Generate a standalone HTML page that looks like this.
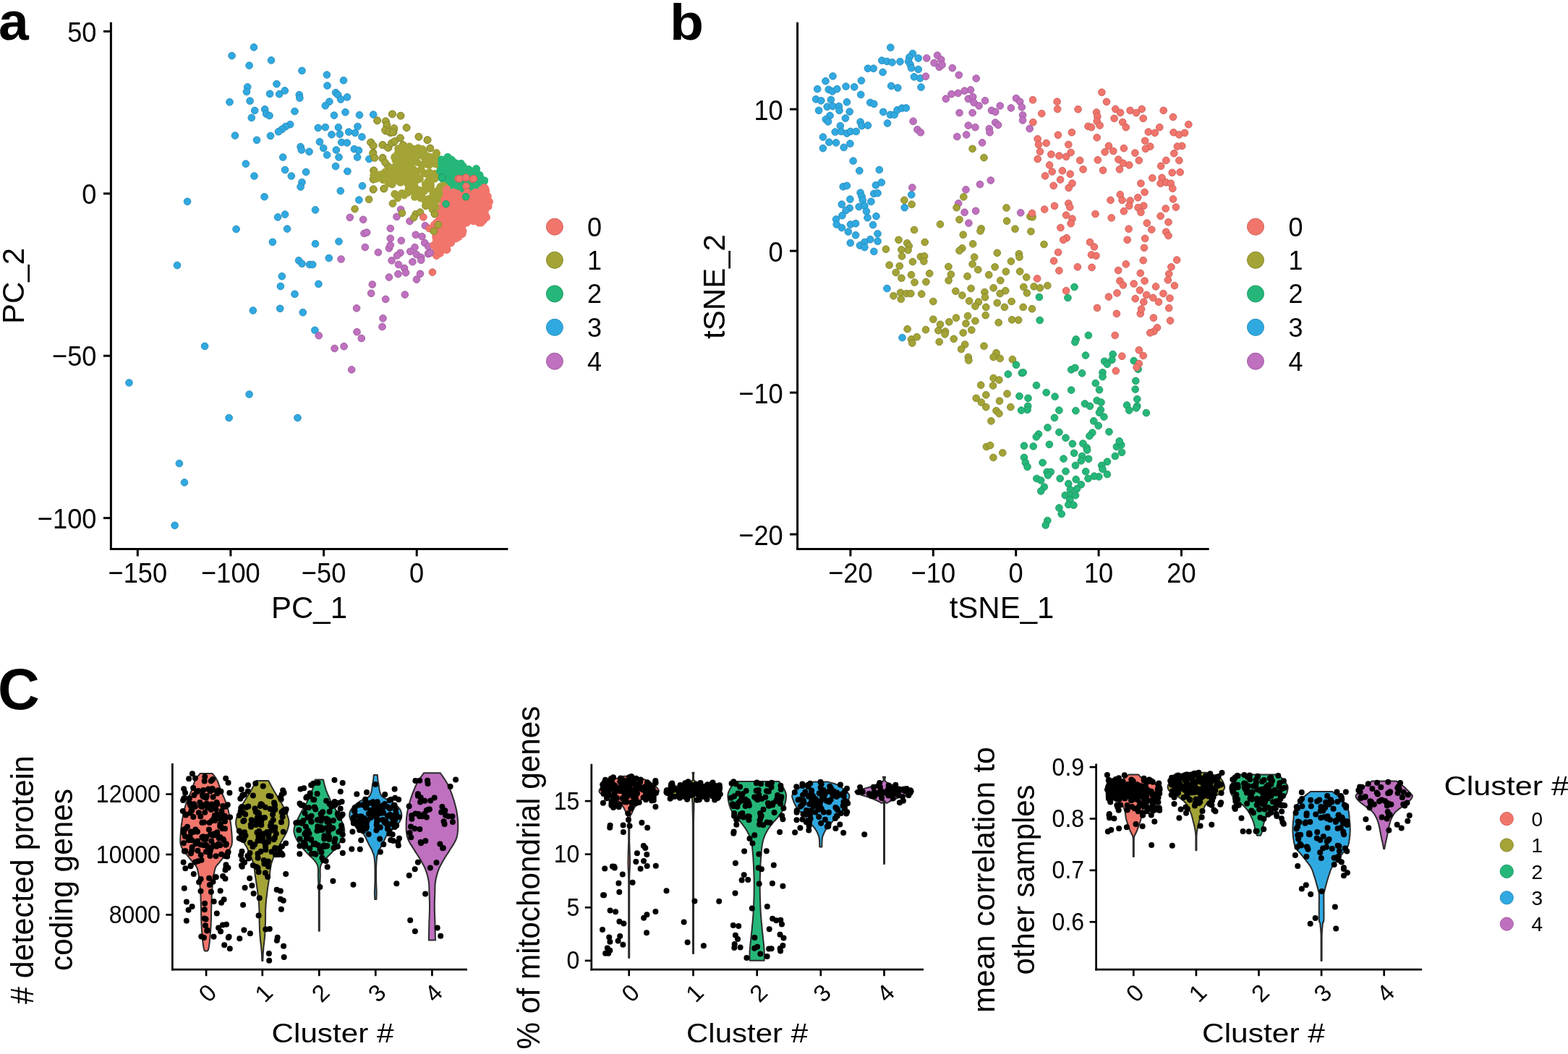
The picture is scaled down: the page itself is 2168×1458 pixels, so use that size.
<!DOCTYPE html>
<html><head><meta charset="utf-8"><style>
html,body{margin:0;padding:0;background:#fff;overflow:hidden;width:2168px;height:1458px;}
svg{display:block;}
text{font-family:"Liberation Sans", Arial, Helvetica, sans-serif;fill:#000;}
</style></head><body>
<svg width="2168" height="1458" viewBox="0 0 2168 1458">
<rect width="2168" height="1458" fill="#fff"/>
<text x="-2.0" y="55.0" font-size="75" text-anchor="start" font-weight="bold" >a</text>
<text transform="translate(926.0,55.0) scale(1.1,1)" font-size="70" text-anchor="start" font-weight="bold" >b</text>
<text x="-3.0" y="980.5" font-size="80" text-anchor="start" font-weight="bold" >C</text>
<line x1="153.4" y1="30.7" x2="153.4" y2="761.0" stroke="#000" stroke-width="3.0"/>
<line x1="151.9" y1="759.5" x2="702.4" y2="759.5" stroke="#000" stroke-width="3.0"/>
<line x1="143.0" y1="43.4" x2="153.4" y2="43.4" stroke="#000" stroke-width="3.0"/>
<text transform="translate(133.5,57.6) scale(0.92,1)" font-size="39.4" text-anchor="end" font-weight="normal" >50</text>
<line x1="143.0" y1="267.8" x2="153.4" y2="267.8" stroke="#000" stroke-width="3.0"/>
<text transform="translate(133.5,282.0) scale(0.92,1)" font-size="39.4" text-anchor="end" font-weight="normal" >0</text>
<line x1="143.0" y1="492.2" x2="153.4" y2="492.2" stroke="#000" stroke-width="3.0"/>
<text transform="translate(133.5,506.4) scale(0.92,1)" font-size="39.4" text-anchor="end" font-weight="normal" >−50</text>
<line x1="143.0" y1="716.6" x2="153.4" y2="716.6" stroke="#000" stroke-width="3.0"/>
<text transform="translate(133.5,730.8) scale(0.92,1)" font-size="39.4" text-anchor="end" font-weight="normal" >−100</text>
<line x1="190.3" y1="759.5" x2="190.3" y2="769.5" stroke="#000" stroke-width="3.0"/>
<text transform="translate(190.3,806.0) scale(0.92,1)" font-size="39.4" text-anchor="middle" font-weight="normal" >−150</text>
<line x1="318.9" y1="759.5" x2="318.9" y2="769.5" stroke="#000" stroke-width="3.0"/>
<text transform="translate(318.9,806.0) scale(0.92,1)" font-size="39.4" text-anchor="middle" font-weight="normal" >−100</text>
<line x1="447.6" y1="759.5" x2="447.6" y2="769.5" stroke="#000" stroke-width="3.0"/>
<text transform="translate(447.6,806.0) scale(0.92,1)" font-size="39.4" text-anchor="middle" font-weight="normal" >−50</text>
<line x1="576.2" y1="759.5" x2="576.2" y2="769.5" stroke="#000" stroke-width="3.0"/>
<text transform="translate(576.2,806.0) scale(0.92,1)" font-size="39.4" text-anchor="middle" font-weight="normal" >0</text>
<text x="427.5" y="854.5" font-size="42" text-anchor="middle" font-weight="normal" >PC_1</text>
<text x="0.0" y="0.0" font-size="42" text-anchor="middle" font-weight="normal" transform="translate(33,395.5) rotate(-90)">PC_2</text>
<line x1="1102.6" y1="30.7" x2="1102.6" y2="761.0" stroke="#000" stroke-width="3.0"/>
<line x1="1101.1" y1="759.5" x2="1671.7" y2="759.5" stroke="#000" stroke-width="3.0"/>
<line x1="1092.0" y1="151.1" x2="1102.6" y2="151.1" stroke="#000" stroke-width="3.0"/>
<text transform="translate(1082.7,166.1) scale(0.92,1)" font-size="39.4" text-anchor="end" font-weight="normal" >10</text>
<line x1="1092.0" y1="347.1" x2="1102.6" y2="347.1" stroke="#000" stroke-width="3.0"/>
<text transform="translate(1082.7,362.1) scale(0.92,1)" font-size="39.4" text-anchor="end" font-weight="normal" >0</text>
<line x1="1092.0" y1="543.1" x2="1102.6" y2="543.1" stroke="#000" stroke-width="3.0"/>
<text transform="translate(1082.7,558.1) scale(0.92,1)" font-size="39.4" text-anchor="end" font-weight="normal" >−10</text>
<line x1="1092.0" y1="739.1" x2="1102.6" y2="739.1" stroke="#000" stroke-width="3.0"/>
<text transform="translate(1082.7,754.1) scale(0.92,1)" font-size="39.4" text-anchor="end" font-weight="normal" >−20</text>
<line x1="1175.9" y1="759.5" x2="1175.9" y2="769.5" stroke="#000" stroke-width="3.0"/>
<text transform="translate(1175.9,806.0) scale(0.92,1)" font-size="39.4" text-anchor="middle" font-weight="normal" >−20</text>
<line x1="1290.3" y1="759.5" x2="1290.3" y2="769.5" stroke="#000" stroke-width="3.0"/>
<text transform="translate(1290.3,806.0) scale(0.92,1)" font-size="39.4" text-anchor="middle" font-weight="normal" >−10</text>
<line x1="1404.7" y1="759.5" x2="1404.7" y2="769.5" stroke="#000" stroke-width="3.0"/>
<text transform="translate(1404.7,806.0) scale(0.92,1)" font-size="39.4" text-anchor="middle" font-weight="normal" >0</text>
<line x1="1519.1" y1="759.5" x2="1519.1" y2="769.5" stroke="#000" stroke-width="3.0"/>
<text transform="translate(1519.1,806.0) scale(0.92,1)" font-size="39.4" text-anchor="middle" font-weight="normal" >10</text>
<line x1="1633.5" y1="759.5" x2="1633.5" y2="769.5" stroke="#000" stroke-width="3.0"/>
<text transform="translate(1633.5,806.0) scale(0.92,1)" font-size="39.4" text-anchor="middle" font-weight="normal" >20</text>
<text x="1385.0" y="854.5" font-size="42" text-anchor="middle" font-weight="normal" >tSNE_1</text>
<text x="0.0" y="0.0" font-size="42" text-anchor="middle" font-weight="normal" transform="translate(1002,396.5) rotate(-90)">tSNE_2</text>
<circle cx="766.9" cy="313.7" r="11.5" fill="#F2756C" stroke="#cd635b" stroke-width="1"/>
<text x="812.0" y="326.5" font-size="36" text-anchor="start" font-weight="normal" >0</text>
<circle cx="1736" cy="313.7" r="11.5" fill="#F2756C" stroke="#cd635b" stroke-width="1"/>
<text x="1781.5" y="326.5" font-size="36" text-anchor="start" font-weight="normal" >0</text>
<circle cx="766.9" cy="359.8" r="11.5" fill="#A3A336" stroke="#8a8a2d" stroke-width="1"/>
<text x="812.0" y="372.6" font-size="36" text-anchor="start" font-weight="normal" >1</text>
<circle cx="1736" cy="359.8" r="11.5" fill="#A3A336" stroke="#8a8a2d" stroke-width="1"/>
<text x="1781.5" y="372.6" font-size="36" text-anchor="start" font-weight="normal" >1</text>
<circle cx="766.9" cy="406.4" r="11.5" fill="#25B779" stroke="#1f9b66" stroke-width="1"/>
<text x="812.0" y="419.2" font-size="36" text-anchor="start" font-weight="normal" >2</text>
<circle cx="1736" cy="406.4" r="11.5" fill="#25B779" stroke="#1f9b66" stroke-width="1"/>
<text x="1781.5" y="419.2" font-size="36" text-anchor="start" font-weight="normal" >2</text>
<circle cx="766.9" cy="452.8" r="11.5" fill="#30A9E1" stroke="#288fbf" stroke-width="1"/>
<text x="812.0" y="465.6" font-size="36" text-anchor="start" font-weight="normal" >3</text>
<circle cx="1736" cy="452.8" r="11.5" fill="#30A9E1" stroke="#288fbf" stroke-width="1"/>
<text x="1781.5" y="465.6" font-size="36" text-anchor="start" font-weight="normal" >3</text>
<circle cx="766.9" cy="499.7" r="11.5" fill="#BF70BF" stroke="#a25fa2" stroke-width="1"/>
<text x="812.0" y="512.5" font-size="36" text-anchor="start" font-weight="normal" >4</text>
<circle cx="1736" cy="499.7" r="11.5" fill="#BF70BF" stroke="#a25fa2" stroke-width="1"/>
<text x="1781.5" y="512.5" font-size="36" text-anchor="start" font-weight="normal" >4</text>
<line x1="238.4" y1="1056.0" x2="238.4" y2="1342.5" stroke="#000" stroke-width="2.7"/>
<line x1="237.1" y1="1341.2" x2="646.0" y2="1341.2" stroke="#000" stroke-width="2.7"/>
<line x1="229.4" y1="1265.4" x2="238.4" y2="1265.4" stroke="#000" stroke-width="2.7"/>
<text transform="translate(221.9,1276.9) scale(0.89,1)" font-size="36" text-anchor="end" font-weight="normal" >8000</text>
<line x1="229.4" y1="1182.0" x2="238.4" y2="1182.0" stroke="#000" stroke-width="2.7"/>
<text transform="translate(221.9,1193.5) scale(0.89,1)" font-size="36" text-anchor="end" font-weight="normal" >10000</text>
<line x1="229.4" y1="1098.6" x2="238.4" y2="1098.6" stroke="#000" stroke-width="2.7"/>
<text transform="translate(221.9,1110.1) scale(0.89,1)" font-size="36" text-anchor="end" font-weight="normal" >12000</text>
<line x1="285.1" y1="1341.2" x2="285.1" y2="1350.2" stroke="#000" stroke-width="2.7"/>
<text x="0.0" y="0.0" font-size="33" text-anchor="end" font-weight="normal" transform="translate(301.6,1375.2) rotate(-45)">0</text>
<line x1="362.8" y1="1341.2" x2="362.8" y2="1350.2" stroke="#000" stroke-width="2.7"/>
<text x="0.0" y="0.0" font-size="33" text-anchor="end" font-weight="normal" transform="translate(379.3,1375.2) rotate(-45)">1</text>
<line x1="441.3" y1="1341.2" x2="441.3" y2="1350.2" stroke="#000" stroke-width="2.7"/>
<text x="0.0" y="0.0" font-size="33" text-anchor="end" font-weight="normal" transform="translate(457.8,1375.2) rotate(-45)">2</text>
<line x1="519.3" y1="1341.2" x2="519.3" y2="1350.2" stroke="#000" stroke-width="2.7"/>
<text x="0.0" y="0.0" font-size="33" text-anchor="end" font-weight="normal" transform="translate(535.8,1375.2) rotate(-45)">3</text>
<line x1="597.4" y1="1341.2" x2="597.4" y2="1350.2" stroke="#000" stroke-width="2.7"/>
<text x="0.0" y="0.0" font-size="33" text-anchor="end" font-weight="normal" transform="translate(613.9,1375.2) rotate(-45)">4</text>
<line x1="817.8" y1="1056.7" x2="817.8" y2="1342.5" stroke="#000" stroke-width="2.7"/>
<line x1="816.5" y1="1341.2" x2="1277.0" y2="1341.2" stroke="#000" stroke-width="2.7"/>
<line x1="808.8" y1="1328.9" x2="817.8" y2="1328.9" stroke="#000" stroke-width="2.7"/>
<text transform="translate(801.3,1340.4) scale(0.89,1)" font-size="36" text-anchor="end" font-weight="normal" >0</text>
<line x1="808.8" y1="1255.3" x2="817.8" y2="1255.3" stroke="#000" stroke-width="2.7"/>
<text transform="translate(801.3,1266.8) scale(0.89,1)" font-size="36" text-anchor="end" font-weight="normal" >5</text>
<line x1="808.8" y1="1181.7" x2="817.8" y2="1181.7" stroke="#000" stroke-width="2.7"/>
<text transform="translate(801.3,1193.2) scale(0.89,1)" font-size="36" text-anchor="end" font-weight="normal" >10</text>
<line x1="808.8" y1="1108.1" x2="817.8" y2="1108.1" stroke="#000" stroke-width="2.7"/>
<text transform="translate(801.3,1119.6) scale(0.89,1)" font-size="36" text-anchor="end" font-weight="normal" >15</text>
<line x1="869.7" y1="1341.2" x2="869.7" y2="1350.2" stroke="#000" stroke-width="2.7"/>
<text x="0.0" y="0.0" font-size="33" text-anchor="end" font-weight="normal" transform="translate(886.2,1375.2) rotate(-45)">0</text>
<line x1="958.5" y1="1341.2" x2="958.5" y2="1350.2" stroke="#000" stroke-width="2.7"/>
<text x="0.0" y="0.0" font-size="33" text-anchor="end" font-weight="normal" transform="translate(975.0,1375.2) rotate(-45)">1</text>
<line x1="1046.7" y1="1341.2" x2="1046.7" y2="1350.2" stroke="#000" stroke-width="2.7"/>
<text x="0.0" y="0.0" font-size="33" text-anchor="end" font-weight="normal" transform="translate(1063.2,1375.2) rotate(-45)">2</text>
<line x1="1134.8" y1="1341.2" x2="1134.8" y2="1350.2" stroke="#000" stroke-width="2.7"/>
<text x="0.0" y="0.0" font-size="33" text-anchor="end" font-weight="normal" transform="translate(1151.3,1375.2) rotate(-45)">3</text>
<line x1="1222.5" y1="1341.2" x2="1222.5" y2="1350.2" stroke="#000" stroke-width="2.7"/>
<text x="0.0" y="0.0" font-size="33" text-anchor="end" font-weight="normal" transform="translate(1239.0,1375.2) rotate(-45)">4</text>
<line x1="1515.6" y1="1056.5" x2="1515.6" y2="1342.5" stroke="#000" stroke-width="2.7"/>
<line x1="1514.3" y1="1341.2" x2="1966.0" y2="1341.2" stroke="#000" stroke-width="2.7"/>
<line x1="1506.6" y1="1275.3" x2="1515.6" y2="1275.3" stroke="#000" stroke-width="2.7"/>
<text transform="translate(1499.1,1286.8) scale(0.89,1)" font-size="36" text-anchor="end" font-weight="normal" >0.6</text>
<line x1="1506.6" y1="1203.9" x2="1515.6" y2="1203.9" stroke="#000" stroke-width="2.7"/>
<text transform="translate(1499.1,1215.4) scale(0.89,1)" font-size="36" text-anchor="end" font-weight="normal" >0.7</text>
<line x1="1506.6" y1="1132.5" x2="1515.6" y2="1132.5" stroke="#000" stroke-width="2.7"/>
<text transform="translate(1499.1,1144.0) scale(0.89,1)" font-size="36" text-anchor="end" font-weight="normal" >0.8</text>
<line x1="1506.6" y1="1061.1" x2="1515.6" y2="1061.1" stroke="#000" stroke-width="2.7"/>
<text transform="translate(1499.1,1072.6) scale(0.89,1)" font-size="36" text-anchor="end" font-weight="normal" >0.9</text>
<line x1="1567.3" y1="1341.2" x2="1567.3" y2="1350.2" stroke="#000" stroke-width="2.7"/>
<text x="0.0" y="0.0" font-size="33" text-anchor="end" font-weight="normal" transform="translate(1583.8,1375.2) rotate(-45)">0</text>
<line x1="1653.9" y1="1341.2" x2="1653.9" y2="1350.2" stroke="#000" stroke-width="2.7"/>
<text x="0.0" y="0.0" font-size="33" text-anchor="end" font-weight="normal" transform="translate(1670.4,1375.2) rotate(-45)">1</text>
<line x1="1740.5" y1="1341.2" x2="1740.5" y2="1350.2" stroke="#000" stroke-width="2.7"/>
<text x="0.0" y="0.0" font-size="33" text-anchor="end" font-weight="normal" transform="translate(1757.0,1375.2) rotate(-45)">2</text>
<line x1="1827.1" y1="1341.2" x2="1827.1" y2="1350.2" stroke="#000" stroke-width="2.7"/>
<text x="0.0" y="0.0" font-size="33" text-anchor="end" font-weight="normal" transform="translate(1843.6,1375.2) rotate(-45)">3</text>
<line x1="1913.7" y1="1341.2" x2="1913.7" y2="1350.2" stroke="#000" stroke-width="2.7"/>
<text x="0.0" y="0.0" font-size="33" text-anchor="end" font-weight="normal" transform="translate(1930.2,1375.2) rotate(-45)">4</text>
<text x="460.0" y="1441.5" font-size="36.6" text-anchor="middle" font-weight="normal" textLength="169" lengthAdjust="spacingAndGlyphs">Cluster #</text>
<text x="1033.0" y="1441.5" font-size="36.6" text-anchor="middle" font-weight="normal" textLength="168" lengthAdjust="spacingAndGlyphs">Cluster #</text>
<text x="1747.0" y="1441.5" font-size="36.6" text-anchor="middle" font-weight="normal" textLength="170" lengthAdjust="spacingAndGlyphs">Cluster #</text>
<text x="0.0" y="0.0" font-size="44" text-anchor="middle" font-weight="normal" transform="translate(46,1217) rotate(-90)" textLength="344" lengthAdjust="spacingAndGlyphs"># detected protein</text>
<text x="0.0" y="0.0" font-size="44" text-anchor="middle" font-weight="normal" transform="translate(100,1217) rotate(-90)" textLength="252" lengthAdjust="spacingAndGlyphs">coding genes</text>
<text x="0.0" y="0.0" font-size="44" text-anchor="middle" font-weight="normal" transform="translate(746,1214) rotate(-90)" textLength="475" lengthAdjust="spacingAndGlyphs">% of mitochondrial genes</text>
<text x="0.0" y="0.0" font-size="43" text-anchor="middle" font-weight="normal" transform="translate(1375,1217) rotate(-90)" textLength="368" lengthAdjust="spacingAndGlyphs">mean correlation to</text>
<text x="0.0" y="0.0" font-size="43" text-anchor="middle" font-weight="normal" transform="translate(1430,1217) rotate(-90)" textLength="263" lengthAdjust="spacingAndGlyphs">other samples</text>
<text transform="translate(1996.5,1099.5) scale(1.15,1)" font-size="37.5" text-anchor="start" font-weight="normal" >Cluster #</text>
<circle cx="2083.3" cy="1132.6" r="9.1" fill="#F2756C" stroke="#cd635b" stroke-width="1"/>
<text x="2117.5" y="1142.8" font-size="28" text-anchor="start" font-weight="normal" >0</text>
<circle cx="2083.3" cy="1169" r="9.1" fill="#A3A336" stroke="#8a8a2d" stroke-width="1"/>
<text x="2117.5" y="1179.2" font-size="28" text-anchor="start" font-weight="normal" >1</text>
<circle cx="2083.3" cy="1205.4" r="9.1" fill="#25B779" stroke="#1f9b66" stroke-width="1"/>
<text x="2117.5" y="1215.6" font-size="28" text-anchor="start" font-weight="normal" >2</text>
<circle cx="2083.3" cy="1241.8" r="9.1" fill="#30A9E1" stroke="#288fbf" stroke-width="1"/>
<text x="2117.5" y="1252.0" font-size="28" text-anchor="start" font-weight="normal" >3</text>
<circle cx="2083.3" cy="1278.1" r="9.1" fill="#BF70BF" stroke="#a25fa2" stroke-width="1"/>
<text x="2117.5" y="1288.3" font-size="28" text-anchor="start" font-weight="normal" >4</text>
<g fill="#30A9E1" stroke="#278ab8" stroke-width="0.9"><circle cx="351.0" cy="65.4" r="4.85"/><circle cx="320.6" cy="77.1" r="4.85"/><circle cx="375.0" cy="83.4" r="4.85"/><circle cx="344.6" cy="90.6" r="4.85"/><circle cx="417.5" cy="97.8" r="4.85"/><circle cx="382.5" cy="116.2" r="4.85"/><circle cx="342.2" cy="120.4" r="4.85"/><circle cx="341.0" cy="126.9" r="4.85"/><circle cx="373.1" cy="129.8" r="4.85"/><circle cx="386.2" cy="130.2" r="4.85"/><circle cx="393.8" cy="125.4" r="4.85"/><circle cx="413.8" cy="131.2" r="4.85"/><circle cx="414.4" cy="135.6" r="4.85"/><circle cx="317.5" cy="141.2" r="4.85"/><circle cx="345.6" cy="139.6" r="4.85"/><circle cx="352.2" cy="152.9" r="4.85"/><circle cx="347.8" cy="162.9" r="4.85"/><circle cx="366.2" cy="151.2" r="4.85"/><circle cx="368.1" cy="157.5" r="4.85"/><circle cx="372.5" cy="160.0" r="4.85"/><circle cx="407.5" cy="154.0" r="4.85"/><circle cx="401.2" cy="172.2" r="4.85"/><circle cx="395.0" cy="175.0" r="4.85"/><circle cx="390.0" cy="178.8" r="4.85"/><circle cx="385.0" cy="182.2" r="4.85"/><circle cx="325.0" cy="187.5" r="4.85"/><circle cx="355.0" cy="193.8" r="4.85"/><circle cx="374.0" cy="187.9" r="4.85"/><circle cx="415.6" cy="203.1" r="4.85"/><circle cx="416.9" cy="207.5" r="4.85"/><circle cx="427.5" cy="209.8" r="4.85"/><circle cx="391.2" cy="217.5" r="4.85"/><circle cx="451.9" cy="103.5" r="4.85"/><circle cx="475.0" cy="111.2" r="4.85"/><circle cx="452.5" cy="118.5" r="4.85"/><circle cx="464.1" cy="128.1" r="4.85"/><circle cx="467.2" cy="131.2" r="4.85"/><circle cx="471.2" cy="137.5" r="4.85"/><circle cx="480.0" cy="134.4" r="4.85"/><circle cx="455.4" cy="140.6" r="4.85"/><circle cx="449.8" cy="146.2" r="4.85"/><circle cx="477.5" cy="155.2" r="4.85"/><circle cx="462.0" cy="159.6" r="4.85"/><circle cx="497.0" cy="159.1" r="4.85"/><circle cx="516.2" cy="158.5" r="4.85"/><circle cx="439.8" cy="176.9" r="4.85"/><circle cx="449.8" cy="176.0" r="4.85"/><circle cx="467.9" cy="176.2" r="4.85"/><circle cx="469.8" cy="185.6" r="4.85"/><circle cx="458.5" cy="186.2" r="4.85"/><circle cx="482.2" cy="182.5" r="4.85"/><circle cx="491.0" cy="183.8" r="4.85"/><circle cx="494.5" cy="175.0" r="4.85"/><circle cx="500.4" cy="189.4" r="4.85"/><circle cx="442.0" cy="196.2" r="4.85"/><circle cx="447.2" cy="205.0" r="4.85"/><circle cx="452.2" cy="214.4" r="4.85"/><circle cx="472.2" cy="196.9" r="4.85"/><circle cx="479.8" cy="197.5" r="4.85"/><circle cx="464.8" cy="207.5" r="4.85"/><circle cx="468.5" cy="217.5" r="4.85"/><circle cx="489.8" cy="206.2" r="4.85"/><circle cx="496.0" cy="208.1" r="4.85"/><circle cx="494.1" cy="217.5" r="4.85"/><circle cx="510.4" cy="220.0" r="4.85"/><circle cx="339.8" cy="226.6" r="4.85"/><circle cx="351.5" cy="243.5" r="4.85"/><circle cx="394.1" cy="235.0" r="4.85"/><circle cx="402.8" cy="243.5" r="4.85"/><circle cx="423.1" cy="237.9" r="4.85"/><circle cx="417.5" cy="252.2" r="4.85"/><circle cx="415.6" cy="258.5" r="4.85"/><circle cx="365.6" cy="272.2" r="4.85"/><circle cx="259.1" cy="278.8" r="4.85"/><circle cx="384.1" cy="300.4" r="4.85"/><circle cx="394.1" cy="296.6" r="4.85"/><circle cx="326.6" cy="317.0" r="4.85"/><circle cx="397.1" cy="316.6" r="4.85"/><circle cx="376.9" cy="334.8" r="4.85"/><circle cx="245.0" cy="367.0" r="4.85"/><circle cx="413.1" cy="360.4" r="4.85"/><circle cx="417.5" cy="364.8" r="4.85"/><circle cx="428.1" cy="366.0" r="4.85"/><circle cx="389.8" cy="382.2" r="4.85"/><circle cx="387.9" cy="396.0" r="4.85"/><circle cx="464.1" cy="230.0" r="4.85"/><circle cx="480.4" cy="237.0" r="4.85"/><circle cx="501.0" cy="257.2" r="4.85"/><circle cx="470.8" cy="264.1" r="4.85"/><circle cx="496.4" cy="276.6" r="4.85"/><circle cx="436.0" cy="290.4" r="4.85"/><circle cx="468.5" cy="334.1" r="4.85"/><circle cx="436.0" cy="337.2" r="4.85"/><circle cx="454.8" cy="357.0" r="4.85"/><circle cx="432.2" cy="366.0" r="4.85"/><circle cx="440.4" cy="392.9" r="4.85"/><circle cx="407.5" cy="406.8" r="4.85"/><circle cx="349.8" cy="429.5" r="4.85"/><circle cx="387.2" cy="426.8" r="4.85"/><circle cx="418.8" cy="432.2" r="4.85"/><circle cx="283.1" cy="478.9" r="4.85"/><circle cx="178.5" cy="529.5" r="4.85"/><circle cx="344.6" cy="545.5" r="4.85"/><circle cx="316.6" cy="578.0" r="4.85"/><circle cx="411.5" cy="578.0" r="4.85"/><circle cx="435.4" cy="456.8" r="4.85"/><circle cx="247.9" cy="641.1" r="4.85"/><circle cx="255.0" cy="667.4" r="4.85"/><circle cx="241.6" cy="726.8" r="4.85"/></g>
<g fill="#30A9E1"></g>
<g fill="#BF70BF" stroke="#9c5b9c" stroke-width="0.9"><circle cx="483.8" cy="300.8" r="4.85"/><circle cx="502.2" cy="303.8" r="4.85"/><circle cx="548.5" cy="299.8" r="4.85"/><circle cx="554.1" cy="289.8" r="4.85"/><circle cx="566.6" cy="306.0" r="4.85"/><circle cx="539.8" cy="316.0" r="4.85"/><circle cx="587.9" cy="312.2" r="4.85"/><circle cx="503.5" cy="322.9" r="4.85"/><circle cx="507.2" cy="321.6" r="4.85"/><circle cx="539.8" cy="329.8" r="4.85"/><circle cx="554.8" cy="332.9" r="4.85"/><circle cx="574.8" cy="324.8" r="4.85"/><circle cx="583.5" cy="327.2" r="4.85"/><circle cx="587.2" cy="336.0" r="4.85"/><circle cx="592.2" cy="341.0" r="4.85"/><circle cx="504.8" cy="342.0" r="4.85"/><circle cx="537.9" cy="343.5" r="4.85"/><circle cx="539.8" cy="339.1" r="4.85"/><circle cx="522.9" cy="349.1" r="4.85"/><circle cx="553.5" cy="349.8" r="4.85"/><circle cx="549.1" cy="353.5" r="4.85"/><circle cx="573.5" cy="342.2" r="4.85"/><circle cx="567.2" cy="347.9" r="4.85"/><circle cx="576.0" cy="352.2" r="4.85"/><circle cx="582.2" cy="356.0" r="4.85"/><circle cx="592.2" cy="351.0" r="4.85"/><circle cx="594.8" cy="349.8" r="4.85"/><circle cx="471.6" cy="358.5" r="4.85"/><circle cx="541.6" cy="360.4" r="4.85"/><circle cx="570.4" cy="362.2" r="4.85"/><circle cx="582.2" cy="359.8" r="4.85"/><circle cx="551.0" cy="366.0" r="4.85"/><circle cx="559.1" cy="371.0" r="4.85"/><circle cx="561.0" cy="377.2" r="4.85"/><circle cx="550.4" cy="379.1" r="4.85"/><circle cx="537.9" cy="383.5" r="4.85"/><circle cx="581.0" cy="378.8" r="4.85"/><circle cx="576.0" cy="386.6" r="4.85"/><circle cx="514.8" cy="393.5" r="4.85"/><circle cx="513.2" cy="405.8" r="4.85"/><circle cx="533.2" cy="413.9" r="4.85"/><circle cx="559.8" cy="407.6" r="4.85"/><circle cx="493.1" cy="426.4" r="4.85"/><circle cx="529.5" cy="440.4" r="4.85"/><circle cx="528.5" cy="452.0" r="4.85"/><circle cx="493.5" cy="459.2" r="4.85"/><circle cx="499.8" cy="468.0" r="4.85"/><circle cx="440.8" cy="464.2" r="4.85"/><circle cx="462.6" cy="482.0" r="4.85"/><circle cx="475.6" cy="479.2" r="4.85"/><circle cx="486.2" cy="511.4" r="4.85"/></g>
<g fill="#BF70BF"></g>
<g fill="#A3A336" stroke="#85852c" stroke-width="0.9"><circle cx="542.2" cy="157.9" r="4.85"/><circle cx="554.1" cy="160.2" r="4.85"/><circle cx="521.6" cy="166.9" r="4.85"/><circle cx="533.5" cy="168.1" r="4.85"/><circle cx="534.8" cy="173.8" r="4.85"/><circle cx="533.5" cy="181.2" r="4.85"/><circle cx="539.8" cy="183.8" r="4.85"/><circle cx="544.8" cy="178.8" r="4.85"/><circle cx="544.1" cy="183.1" r="4.85"/><circle cx="562.0" cy="176.6" r="4.85"/><circle cx="553.5" cy="191.0" r="4.85"/><circle cx="579.1" cy="189.4" r="4.85"/><circle cx="590.8" cy="193.8" r="4.85"/><circle cx="512.9" cy="196.9" r="4.85"/><circle cx="516.0" cy="201.9" r="4.85"/><circle cx="529.1" cy="200.4" r="4.85"/><circle cx="537.2" cy="204.4" r="4.85"/><circle cx="544.1" cy="196.9" r="4.85"/><circle cx="557.2" cy="200.6" r="4.85"/><circle cx="516.0" cy="211.2" r="4.85"/><circle cx="517.2" cy="217.5" r="4.85"/><circle cx="529.1" cy="218.1" r="4.85"/><circle cx="546.0" cy="216.9" r="4.85"/><circle cx="552.2" cy="208.8" r="4.85"/><circle cx="562.2" cy="207.5" r="4.85"/><circle cx="566.0" cy="215.0" r="4.85"/><circle cx="578.5" cy="205.0" r="4.85"/><circle cx="578.5" cy="215.0" r="4.85"/><circle cx="586.0" cy="211.2" r="4.85"/><circle cx="594.8" cy="205.0" r="4.85"/><circle cx="603.5" cy="211.9" r="4.85"/><circle cx="596.0" cy="217.5" r="4.85"/><circle cx="516.6" cy="235.8" r="4.85"/><circle cx="516.0" cy="247.9" r="4.85"/><circle cx="516.0" cy="262.2" r="4.85"/><circle cx="530.6" cy="261.2" r="4.85"/><circle cx="510.1" cy="275.8" r="4.85"/><circle cx="490.6" cy="289.1" r="4.85"/><circle cx="542.9" cy="281.6" r="4.85"/><circle cx="556.0" cy="294.8" r="4.85"/><circle cx="574.8" cy="296.0" r="4.85"/><circle cx="581.0" cy="293.5" r="4.85"/><circle cx="572.2" cy="301.0" r="4.85"/><circle cx="588.5" cy="284.8" r="4.85"/><circle cx="597.2" cy="287.2" r="4.85"/><circle cx="601.0" cy="296.0" r="4.85"/><circle cx="606.0" cy="311.0" r="4.85"/><circle cx="599.8" cy="319.8" r="4.85"/><circle cx="542.7" cy="157.8" r="4.85"/><circle cx="553.8" cy="160.1" r="4.85"/><circle cx="521.7" cy="166.7" r="4.85"/><circle cx="533.3" cy="167.6" r="4.85"/><circle cx="535.1" cy="173.0" r="4.85"/><circle cx="532.4" cy="180.1" r="4.85"/><circle cx="537.8" cy="181.9" r="4.85"/><circle cx="544.9" cy="177.4" r="4.85"/><circle cx="543.1" cy="182.8" r="4.85"/><circle cx="562.3" cy="176.6" r="4.85"/><circle cx="553.4" cy="190.8" r="4.85"/><circle cx="578.8" cy="189.0" r="4.85"/><circle cx="591.3" cy="193.5" r="4.85"/><circle cx="512.4" cy="197.1" r="4.85"/><circle cx="516.4" cy="201.5" r="4.85"/><circle cx="528.8" cy="200.6" r="4.85"/><circle cx="536.0" cy="204.2" r="4.85"/><circle cx="541.3" cy="198.0" r="4.85"/><circle cx="545.8" cy="195.3" r="4.85"/><circle cx="557.4" cy="200.6" r="4.85"/><circle cx="564.5" cy="207.8" r="4.85"/><circle cx="577.9" cy="205.1" r="4.85"/><circle cx="594.8" cy="205.1" r="4.85"/><circle cx="515.5" cy="212.2" r="4.85"/><circle cx="518.1" cy="218.5" r="4.85"/><circle cx="528.8" cy="219.4" r="4.85"/><circle cx="545.8" cy="217.6" r="4.85"/><circle cx="552.0" cy="211.3" r="4.85"/><circle cx="557.4" cy="218.5" r="4.85"/><circle cx="568.1" cy="211.3" r="4.85"/><circle cx="575.2" cy="215.8" r="4.85"/><circle cx="585.0" cy="210.4" r="4.85"/><circle cx="593.0" cy="217.6" r="4.85"/><circle cx="536.0" cy="229.2" r="4.85"/><circle cx="532.4" cy="224.7" r="4.85"/><circle cx="552.0" cy="230.1" r="4.85"/><circle cx="559.2" cy="224.7" r="4.85"/><circle cx="568.1" cy="220.2" r="4.85"/><circle cx="516.8" cy="235.9" r="4.85"/><circle cx="532.4" cy="238.1" r="4.85"/><circle cx="541.3" cy="238.1" r="4.85"/><circle cx="550.2" cy="239.9" r="4.85"/><circle cx="559.2" cy="236.3" r="4.85"/><circle cx="563.6" cy="244.3" r="4.85"/><circle cx="563.6" cy="254.1" r="4.85"/><circle cx="516.4" cy="248.3" r="4.85"/><circle cx="524.4" cy="244.3" r="4.85"/><circle cx="532.4" cy="247.0" r="4.85"/><circle cx="542.2" cy="255.0" r="4.85"/><circle cx="537.8" cy="249.7" r="4.85"/><circle cx="516.4" cy="261.7" r="4.85"/><circle cx="531.1" cy="260.8" r="4.85"/><circle cx="545.8" cy="268.4" r="4.85"/><circle cx="555.6" cy="267.5" r="4.85"/><circle cx="563.6" cy="266.6" r="4.85"/><circle cx="575.2" cy="268.4" r="4.85"/></g>
<g fill="#A3A336"><circle cx="548.9" cy="214.2" r="5.3"/><circle cx="583.5" cy="207.0" r="5.3"/><circle cx="571.3" cy="234.0" r="5.3"/><circle cx="520.8" cy="247.1" r="5.3"/><circle cx="575.7" cy="236.9" r="5.3"/><circle cx="605.4" cy="227.0" r="5.3"/><circle cx="582.2" cy="234.6" r="5.3"/><circle cx="572.6" cy="206.1" r="5.3"/><circle cx="586.6" cy="239.7" r="5.3"/><circle cx="562.6" cy="228.0" r="5.3"/><circle cx="598.6" cy="264.7" r="5.3"/><circle cx="540.5" cy="253.2" r="5.3"/><circle cx="591.8" cy="226.9" r="5.3"/><circle cx="558.9" cy="270.1" r="5.3"/><circle cx="530.8" cy="245.4" r="5.3"/><circle cx="595.5" cy="253.1" r="5.3"/><circle cx="607.2" cy="229.2" r="5.3"/><circle cx="588.1" cy="255.1" r="5.3"/><circle cx="576.0" cy="242.4" r="5.3"/><circle cx="603.4" cy="287.3" r="5.3"/><circle cx="564.8" cy="261.5" r="5.3"/><circle cx="601.5" cy="226.6" r="5.3"/><circle cx="517.1" cy="242.9" r="5.3"/><circle cx="523.2" cy="241.7" r="5.3"/><circle cx="601.2" cy="279.9" r="5.3"/><circle cx="544.1" cy="238.6" r="5.3"/><circle cx="539.4" cy="245.0" r="5.3"/><circle cx="576.9" cy="224.5" r="5.3"/><circle cx="553.7" cy="252.5" r="5.3"/><circle cx="615.4" cy="263.9" r="5.3"/><circle cx="569.2" cy="257.2" r="5.3"/><circle cx="609.7" cy="272.2" r="5.3"/><circle cx="607.1" cy="273.8" r="5.3"/><circle cx="556.2" cy="237.1" r="5.3"/><circle cx="550.6" cy="205.2" r="5.3"/><circle cx="579.6" cy="214.0" r="5.3"/><circle cx="541.4" cy="232.3" r="5.3"/><circle cx="553.2" cy="211.7" r="5.3"/><circle cx="563.9" cy="244.9" r="5.3"/><circle cx="550.9" cy="224.7" r="5.3"/><circle cx="602.3" cy="215.2" r="5.3"/><circle cx="570.5" cy="213.9" r="5.3"/><circle cx="605.9" cy="264.4" r="5.3"/><circle cx="542.3" cy="234.1" r="5.3"/><circle cx="549.5" cy="220.9" r="5.3"/><circle cx="600.4" cy="291.0" r="5.3"/><circle cx="604.8" cy="274.6" r="5.3"/><circle cx="601.1" cy="268.5" r="5.3"/><circle cx="538.7" cy="248.0" r="5.3"/><circle cx="603.5" cy="244.5" r="5.3"/><circle cx="583.7" cy="274.0" r="5.3"/><circle cx="610.8" cy="272.4" r="5.3"/><circle cx="593.9" cy="244.4" r="5.3"/><circle cx="549.8" cy="274.1" r="5.3"/><circle cx="591.3" cy="216.0" r="5.3"/><circle cx="610.3" cy="274.6" r="5.3"/><circle cx="618.3" cy="260.9" r="5.3"/><circle cx="551.7" cy="250.9" r="5.3"/><circle cx="617.3" cy="260.2" r="5.3"/><circle cx="602.0" cy="219.8" r="5.3"/><circle cx="542.1" cy="238.9" r="5.3"/><circle cx="552.1" cy="242.5" r="5.3"/><circle cx="567.7" cy="249.3" r="5.3"/><circle cx="561.2" cy="217.2" r="5.3"/><circle cx="532.9" cy="243.9" r="5.3"/><circle cx="591.3" cy="251.6" r="5.3"/><circle cx="549.1" cy="248.1" r="5.3"/><circle cx="573.4" cy="272.5" r="5.3"/><circle cx="596.3" cy="247.1" r="5.3"/><circle cx="574.0" cy="270.3" r="5.3"/><circle cx="611.1" cy="241.2" r="5.3"/><circle cx="579.4" cy="246.9" r="5.3"/><circle cx="568.8" cy="264.1" r="5.3"/><circle cx="562.5" cy="249.4" r="5.3"/><circle cx="588.6" cy="281.0" r="5.3"/><circle cx="603.4" cy="213.0" r="5.3"/><circle cx="527.6" cy="241.1" r="5.3"/><circle cx="597.5" cy="282.9" r="5.3"/><circle cx="584.4" cy="213.5" r="5.3"/><circle cx="608.0" cy="289.4" r="5.3"/><circle cx="556.8" cy="245.2" r="5.3"/><circle cx="531.8" cy="240.1" r="5.3"/><circle cx="569.2" cy="231.6" r="5.3"/><circle cx="573.2" cy="240.9" r="5.3"/><circle cx="580.6" cy="247.5" r="5.3"/><circle cx="598.0" cy="289.8" r="5.3"/><circle cx="601.2" cy="224.2" r="5.3"/><circle cx="575.0" cy="264.8" r="5.3"/><circle cx="587.4" cy="239.5" r="5.3"/><circle cx="581.7" cy="274.1" r="5.3"/><circle cx="562.6" cy="231.6" r="5.3"/><circle cx="570.4" cy="222.3" r="5.3"/><circle cx="547.7" cy="228.4" r="5.3"/><circle cx="594.9" cy="227.0" r="5.3"/><circle cx="567.5" cy="216.7" r="5.3"/><circle cx="592.1" cy="251.1" r="5.3"/><circle cx="534.7" cy="244.1" r="5.3"/><circle cx="601.2" cy="240.1" r="5.3"/><circle cx="556.2" cy="247.0" r="5.3"/><circle cx="589.4" cy="258.9" r="5.3"/><circle cx="557.5" cy="232.4" r="5.3"/><circle cx="606.7" cy="262.1" r="5.3"/><circle cx="545.7" cy="242.7" r="5.3"/><circle cx="531.3" cy="241.4" r="5.3"/><circle cx="547.4" cy="233.2" r="5.3"/><circle cx="564.8" cy="246.6" r="5.3"/><circle cx="535.9" cy="246.8" r="5.3"/><circle cx="546.8" cy="221.8" r="5.3"/><circle cx="576.6" cy="249.1" r="5.3"/><circle cx="594.0" cy="260.9" r="5.3"/><circle cx="590.3" cy="281.3" r="5.3"/><circle cx="555.9" cy="230.4" r="5.3"/><circle cx="591.2" cy="259.6" r="5.3"/><circle cx="608.9" cy="258.1" r="5.3"/><circle cx="592.2" cy="275.1" r="5.3"/><circle cx="529.4" cy="248.6" r="5.3"/><circle cx="599.7" cy="276.4" r="5.3"/><circle cx="586.8" cy="264.2" r="5.3"/><circle cx="573.7" cy="258.1" r="5.3"/><circle cx="580.9" cy="263.0" r="5.3"/><circle cx="599.0" cy="269.2" r="5.3"/><circle cx="567.8" cy="249.6" r="5.3"/><circle cx="584.3" cy="206.4" r="5.3"/><circle cx="592.5" cy="223.6" r="5.3"/><circle cx="591.7" cy="219.2" r="5.3"/><circle cx="566.9" cy="235.6" r="5.3"/><circle cx="565.3" cy="263.3" r="5.3"/><circle cx="595.7" cy="257.2" r="5.3"/><circle cx="582.6" cy="207.5" r="5.3"/><circle cx="593.2" cy="228.4" r="5.3"/><circle cx="585.7" cy="264.1" r="5.3"/><circle cx="586.1" cy="227.1" r="5.3"/><circle cx="569.3" cy="243.1" r="5.3"/><circle cx="564.0" cy="211.3" r="5.3"/><circle cx="516.6" cy="242.6" r="5.3"/><circle cx="601.3" cy="289.5" r="5.3"/><circle cx="562.2" cy="225.1" r="5.3"/><circle cx="537.0" cy="253.9" r="5.3"/><circle cx="529.7" cy="248.6" r="5.3"/><circle cx="601.3" cy="247.2" r="5.3"/><circle cx="608.4" cy="265.1" r="5.3"/><circle cx="566.1" cy="202.6" r="5.3"/><circle cx="562.3" cy="228.2" r="5.3"/><circle cx="603.3" cy="211.4" r="5.3"/><circle cx="612.6" cy="266.0" r="5.3"/><circle cx="554.0" cy="236.5" r="5.3"/><circle cx="620.2" cy="254.6" r="5.3"/><circle cx="552.8" cy="239.8" r="5.3"/><circle cx="568.7" cy="217.8" r="5.3"/><circle cx="608.1" cy="275.1" r="5.3"/><circle cx="614.1" cy="250.9" r="5.3"/><circle cx="592.1" cy="241.9" r="5.3"/><circle cx="594.2" cy="259.7" r="5.3"/><circle cx="564.6" cy="232.0" r="5.3"/><circle cx="546.2" cy="268.4" r="5.3"/><circle cx="584.0" cy="228.1" r="5.3"/><circle cx="573.6" cy="236.7" r="5.3"/><circle cx="567.2" cy="220.6" r="5.3"/><circle cx="562.2" cy="213.2" r="5.3"/><circle cx="550.8" cy="208.7" r="5.3"/><circle cx="593.9" cy="238.4" r="5.3"/><circle cx="558.4" cy="248.6" r="5.3"/><circle cx="554.5" cy="231.5" r="5.3"/><circle cx="567.9" cy="258.3" r="5.3"/><circle cx="605.8" cy="220.2" r="5.3"/><circle cx="556.9" cy="241.4" r="5.3"/><circle cx="609.3" cy="243.9" r="5.3"/><circle cx="601.9" cy="279.1" r="5.3"/><circle cx="569.9" cy="263.1" r="5.3"/><circle cx="614.2" cy="266.8" r="5.3"/><circle cx="583.1" cy="270.8" r="5.3"/><circle cx="563.0" cy="251.1" r="5.3"/><circle cx="582.9" cy="228.3" r="5.3"/><circle cx="581.9" cy="264.7" r="5.3"/><circle cx="570.1" cy="254.0" r="5.3"/><circle cx="555.7" cy="220.9" r="5.3"/><circle cx="546.6" cy="242.8" r="5.3"/><circle cx="616.0" cy="259.7" r="5.3"/><circle cx="608.1" cy="244.1" r="5.3"/><circle cx="616.2" cy="265.2" r="5.3"/><circle cx="567.3" cy="262.4" r="5.3"/><circle cx="559.1" cy="224.0" r="5.3"/><circle cx="550.4" cy="239.1" r="5.3"/><circle cx="586.8" cy="218.6" r="5.3"/><circle cx="598.9" cy="268.4" r="5.3"/><circle cx="568.0" cy="219.2" r="5.3"/><circle cx="601.3" cy="221.6" r="5.3"/><circle cx="567.1" cy="217.6" r="5.3"/><circle cx="538.3" cy="238.7" r="5.3"/><circle cx="546.0" cy="216.9" r="5.3"/><circle cx="552.2" cy="208.8" r="5.3"/><circle cx="562.2" cy="207.5" r="5.3"/><circle cx="566.0" cy="215.0" r="5.3"/><circle cx="578.5" cy="205.0" r="5.3"/><circle cx="578.5" cy="215.0" r="5.3"/><circle cx="586.0" cy="211.2" r="5.3"/><circle cx="603.5" cy="211.9" r="5.3"/><circle cx="596.0" cy="217.5" r="5.3"/><circle cx="597.2" cy="287.2" r="5.3"/><circle cx="564.5" cy="207.8" r="5.3"/><circle cx="577.9" cy="205.1" r="5.3"/><circle cx="545.8" cy="217.6" r="5.3"/><circle cx="552.0" cy="211.3" r="5.3"/><circle cx="557.4" cy="218.5" r="5.3"/><circle cx="568.1" cy="211.3" r="5.3"/><circle cx="575.2" cy="215.8" r="5.3"/><circle cx="585.0" cy="210.4" r="5.3"/><circle cx="593.0" cy="217.6" r="5.3"/><circle cx="552.0" cy="230.1" r="5.3"/><circle cx="559.2" cy="224.7" r="5.3"/><circle cx="568.1" cy="220.2" r="5.3"/><circle cx="532.4" cy="238.1" r="5.3"/><circle cx="541.3" cy="238.1" r="5.3"/><circle cx="550.2" cy="239.9" r="5.3"/><circle cx="559.2" cy="236.3" r="5.3"/><circle cx="563.6" cy="244.3" r="5.3"/><circle cx="563.6" cy="254.1" r="5.3"/><circle cx="524.4" cy="244.3" r="5.3"/><circle cx="532.4" cy="247.0" r="5.3"/><circle cx="537.8" cy="249.7" r="5.3"/><circle cx="545.8" cy="268.4" r="5.3"/><circle cx="555.6" cy="267.5" r="5.3"/><circle cx="563.6" cy="266.6" r="5.3"/><circle cx="575.2" cy="268.4" r="5.3"/></g>
<g fill="#25B779" stroke="#1e9663" stroke-width="0.9"><circle cx="611.0" cy="245.4" r="4.85"/><circle cx="616.6" cy="282.2" r="4.85"/><circle cx="644.1" cy="272.2" r="4.85"/><circle cx="658.5" cy="233.5" r="4.85"/></g>
<polygon points="609.8,217.0 621.8,217.0 633.9,221.5 641.5,226.0 646.0,233.6 658.1,232.0 665.6,238.1 670.1,245.6 671.6,256.2 664.1,263.7 653.5,265.2 646.0,269.8 640.0,272.8 630.9,268.3 624.9,260.7 618.8,254.7 611.3,248.6 608.3,238.1 608.3,224.5" fill="#25B779"/>
<g fill="#25B779"><circle cx="617.5" cy="238.9" r="5.3"/><circle cx="617.3" cy="219.9" r="5.3"/><circle cx="612.1" cy="238.9" r="5.3"/><circle cx="650.4" cy="238.1" r="5.3"/><circle cx="632.0" cy="235.5" r="5.3"/><circle cx="619.0" cy="217.1" r="5.3"/><circle cx="626.0" cy="236.6" r="5.3"/><circle cx="630.9" cy="262.8" r="5.3"/><circle cx="660.4" cy="241.1" r="5.3"/><circle cx="611.4" cy="243.4" r="5.3"/><circle cx="631.9" cy="268.3" r="5.3"/><circle cx="620.5" cy="237.3" r="5.3"/><circle cx="634.3" cy="262.3" r="5.3"/><circle cx="610.5" cy="220.5" r="5.3"/><circle cx="629.8" cy="232.2" r="5.3"/><circle cx="669.0" cy="251.4" r="5.3"/><circle cx="624.9" cy="257.0" r="5.3"/><circle cx="628.3" cy="232.3" r="5.3"/><circle cx="666.3" cy="252.4" r="5.3"/><circle cx="623.1" cy="243.5" r="5.3"/><circle cx="632.8" cy="231.0" r="5.3"/><circle cx="635.5" cy="244.5" r="5.3"/><circle cx="659.1" cy="258.2" r="5.3"/><circle cx="660.4" cy="260.1" r="5.3"/><circle cx="646.7" cy="235.3" r="5.3"/><circle cx="628.5" cy="237.2" r="5.3"/><circle cx="623.9" cy="220.6" r="5.3"/><circle cx="625.1" cy="221.7" r="5.3"/><circle cx="614.4" cy="244.8" r="5.3"/><circle cx="653.2" cy="241.9" r="5.3"/><circle cx="623.1" cy="240.2" r="5.3"/><circle cx="647.6" cy="254.6" r="5.3"/><circle cx="655.7" cy="264.2" r="5.3"/><circle cx="644.2" cy="237.8" r="5.3"/><circle cx="623.9" cy="230.7" r="5.3"/><circle cx="644.9" cy="235.2" r="5.3"/><circle cx="640.4" cy="229.9" r="5.3"/><circle cx="659.5" cy="253.4" r="5.3"/><circle cx="638.4" cy="262.7" r="5.3"/><circle cx="610.8" cy="233.4" r="5.3"/><circle cx="615.8" cy="227.5" r="5.3"/><circle cx="669.9" cy="249.5" r="5.3"/><circle cx="663.2" cy="242.0" r="5.3"/><circle cx="624.7" cy="260.4" r="5.3"/><circle cx="646.0" cy="251.6" r="5.3"/><circle cx="622.1" cy="237.5" r="5.3"/><circle cx="617.2" cy="228.3" r="5.3"/><circle cx="624.4" cy="250.4" r="5.3"/><circle cx="609.0" cy="235.2" r="5.3"/><circle cx="628.0" cy="228.3" r="5.3"/><circle cx="658.7" cy="247.6" r="5.3"/><circle cx="612.3" cy="222.6" r="5.3"/><circle cx="633.3" cy="247.7" r="5.3"/><circle cx="634.2" cy="232.8" r="5.3"/><circle cx="628.1" cy="248.6" r="5.3"/><circle cx="630.9" cy="240.2" r="5.3"/><circle cx="631.3" cy="228.0" r="5.3"/><circle cx="635.1" cy="262.8" r="5.3"/><circle cx="634.0" cy="266.2" r="5.3"/><circle cx="637.5" cy="226.0" r="5.3"/><circle cx="648.9" cy="267.8" r="5.3"/><circle cx="631.8" cy="245.1" r="5.3"/><circle cx="617.5" cy="232.8" r="5.3"/><circle cx="641.3" cy="268.6" r="5.3"/><circle cx="615.2" cy="244.3" r="5.3"/><circle cx="620.8" cy="224.0" r="5.3"/><circle cx="665.6" cy="251.6" r="5.3"/><circle cx="633.9" cy="264.2" r="5.3"/><circle cx="622.1" cy="239.3" r="5.3"/><circle cx="641.1" cy="238.4" r="5.3"/><circle cx="616.1" cy="230.8" r="5.3"/><circle cx="646.3" cy="247.7" r="5.3"/><circle cx="648.0" cy="234.1" r="5.3"/><circle cx="634.9" cy="249.5" r="5.3"/><circle cx="635.2" cy="253.7" r="5.3"/><circle cx="636.6" cy="241.4" r="5.3"/><circle cx="639.3" cy="230.1" r="5.3"/><circle cx="656.7" cy="260.5" r="5.3"/><circle cx="637.3" cy="227.0" r="5.3"/><circle cx="616.4" cy="241.0" r="5.3"/><circle cx="614.1" cy="241.6" r="5.3"/><circle cx="654.7" cy="260.4" r="5.3"/><circle cx="640.2" cy="238.1" r="5.3"/><circle cx="654.7" cy="262.5" r="5.3"/><circle cx="639.4" cy="270.4" r="5.3"/><circle cx="612.4" cy="236.5" r="5.3"/><circle cx="640.1" cy="268.3" r="5.3"/><circle cx="621.5" cy="231.6" r="5.3"/><circle cx="640.3" cy="234.8" r="5.3"/><circle cx="610.6" cy="227.1" r="5.3"/><circle cx="615.6" cy="246.6" r="5.3"/><circle cx="648.6" cy="237.0" r="5.3"/><circle cx="663.6" cy="248.0" r="5.3"/><circle cx="645.0" cy="266.2" r="5.3"/><circle cx="648.2" cy="239.0" r="5.3"/><circle cx="631.1" cy="259.6" r="5.3"/><circle cx="636.3" cy="226.8" r="5.3"/><circle cx="645.4" cy="254.0" r="5.3"/><circle cx="610.4" cy="225.3" r="5.3"/><circle cx="647.3" cy="241.1" r="5.3"/><circle cx="640.8" cy="267.0" r="5.3"/><circle cx="616.6" cy="229.6" r="5.3"/><circle cx="608.4" cy="236.8" r="5.3"/><circle cx="615.0" cy="236.9" r="5.3"/><circle cx="622.5" cy="249.5" r="5.3"/><circle cx="647.8" cy="243.5" r="5.3"/><circle cx="623.7" cy="225.3" r="5.3"/><circle cx="663.5" cy="260.6" r="5.3"/><circle cx="633.7" cy="231.7" r="5.3"/><circle cx="643.9" cy="236.5" r="5.3"/><circle cx="649.2" cy="241.7" r="5.3"/><circle cx="667.7" cy="257.9" r="5.3"/><circle cx="611.1" cy="246.6" r="5.3"/><circle cx="611.0" cy="245.4" r="5.3"/><circle cx="658.5" cy="233.5" r="5.3"/></g>
<g fill="#F2756C" stroke="#c65f58" stroke-width="0.9"><circle cx="597.9" cy="376.6" r="4.85"/><circle cx="617.2" cy="345.4" r="4.85"/><circle cx="603.5" cy="353.5" r="4.85"/><circle cx="585.4" cy="300.4" r="4.85"/><circle cx="593.5" cy="316.0" r="4.85"/><circle cx="623.5" cy="336.0" r="4.85"/><circle cx="639.1" cy="323.5" r="4.85"/><circle cx="664.1" cy="307.2" r="4.85"/><circle cx="671.6" cy="299.1" r="4.85"/><circle cx="633.5" cy="247.2" r="4.85"/><circle cx="643.5" cy="246.0" r="4.85"/><circle cx="653.5" cy="247.9" r="4.85"/><circle cx="635.4" cy="247.1" r="4.85"/><circle cx="644.5" cy="245.6" r="4.85"/><circle cx="655.0" cy="247.1" r="4.85"/><circle cx="644.5" cy="257.7" r="4.85"/><circle cx="646.0" cy="265.2" r="4.85"/></g>
<polygon points="617.3,260.7 630.9,265.2 646.0,268.3 658.1,265.2 668.6,259.2 673.1,257.7 676.2,268.3 679.2,278.8 676.2,289.4 674.7,300.0 667.1,307.5 659.6,310.5 653.5,307.5 644.5,313.5 640.0,324.1 630.9,330.1 624.9,336.2 621.8,343.7 612.8,348.2 603.7,354.3 599.2,351.3 599.2,336.2 600.7,327.1 603.7,318.1 599.2,313.5 602.2,303.0 605.2,293.9 609.8,284.9 612.8,275.8" fill="#F2756C"/>
<g fill="#F2756C"><circle cx="631.7" cy="280.7" r="5.3"/><circle cx="603.9" cy="332.9" r="5.3"/><circle cx="600.2" cy="310.9" r="5.3"/><circle cx="674.5" cy="271.4" r="5.3"/><circle cx="615.2" cy="316.4" r="5.3"/><circle cx="639.8" cy="319.7" r="5.3"/><circle cx="664.3" cy="274.6" r="5.3"/><circle cx="624.0" cy="286.7" r="5.3"/><circle cx="603.1" cy="343.6" r="5.3"/><circle cx="599.7" cy="339.3" r="5.3"/><circle cx="658.8" cy="302.6" r="5.3"/><circle cx="658.5" cy="301.4" r="5.3"/><circle cx="617.3" cy="267.9" r="5.3"/><circle cx="617.8" cy="261.4" r="5.3"/><circle cx="626.0" cy="330.1" r="5.3"/><circle cx="656.1" cy="283.4" r="5.3"/><circle cx="643.5" cy="299.8" r="5.3"/><circle cx="662.3" cy="308.2" r="5.3"/><circle cx="620.4" cy="319.7" r="5.3"/><circle cx="676.4" cy="278.7" r="5.3"/><circle cx="669.6" cy="259.2" r="5.3"/><circle cx="620.0" cy="280.5" r="5.3"/><circle cx="658.9" cy="289.3" r="5.3"/><circle cx="669.6" cy="289.4" r="5.3"/><circle cx="618.3" cy="345.3" r="5.3"/><circle cx="634.2" cy="327.7" r="5.3"/><circle cx="644.8" cy="287.4" r="5.3"/><circle cx="616.2" cy="317.8" r="5.3"/><circle cx="605.4" cy="345.7" r="5.3"/><circle cx="607.7" cy="347.4" r="5.3"/><circle cx="626.8" cy="271.4" r="5.3"/><circle cx="604.5" cy="314.7" r="5.3"/><circle cx="604.5" cy="341.5" r="5.3"/><circle cx="649.7" cy="285.5" r="5.3"/><circle cx="659.8" cy="277.5" r="5.3"/><circle cx="624.7" cy="298.6" r="5.3"/><circle cx="621.8" cy="326.8" r="5.3"/><circle cx="628.6" cy="288.7" r="5.3"/><circle cx="626.9" cy="325.8" r="5.3"/><circle cx="642.2" cy="278.6" r="5.3"/><circle cx="668.2" cy="266.5" r="5.3"/><circle cx="664.8" cy="274.2" r="5.3"/><circle cx="614.0" cy="305.5" r="5.3"/><circle cx="621.9" cy="278.4" r="5.3"/><circle cx="655.2" cy="305.8" r="5.3"/><circle cx="608.0" cy="319.2" r="5.3"/><circle cx="605.7" cy="333.8" r="5.3"/><circle cx="649.4" cy="292.0" r="5.3"/><circle cx="631.3" cy="295.8" r="5.3"/><circle cx="670.4" cy="266.0" r="5.3"/><circle cx="670.3" cy="260.1" r="5.3"/><circle cx="615.7" cy="283.1" r="5.3"/><circle cx="617.9" cy="302.2" r="5.3"/><circle cx="627.1" cy="289.2" r="5.3"/><circle cx="611.6" cy="339.1" r="5.3"/><circle cx="612.8" cy="300.1" r="5.3"/><circle cx="609.3" cy="302.3" r="5.3"/><circle cx="670.0" cy="280.7" r="5.3"/><circle cx="614.5" cy="286.8" r="5.3"/><circle cx="619.0" cy="289.2" r="5.3"/><circle cx="641.0" cy="273.2" r="5.3"/><circle cx="625.4" cy="276.0" r="5.3"/><circle cx="607.4" cy="350.6" r="5.3"/><circle cx="607.3" cy="294.8" r="5.3"/><circle cx="657.9" cy="299.7" r="5.3"/><circle cx="614.9" cy="319.3" r="5.3"/><circle cx="654.7" cy="306.0" r="5.3"/><circle cx="649.8" cy="302.4" r="5.3"/><circle cx="610.6" cy="316.0" r="5.3"/><circle cx="631.6" cy="329.3" r="5.3"/><circle cx="671.8" cy="299.2" r="5.3"/><circle cx="632.9" cy="279.8" r="5.3"/><circle cx="650.5" cy="301.5" r="5.3"/><circle cx="624.2" cy="318.4" r="5.3"/><circle cx="607.0" cy="298.2" r="5.3"/><circle cx="649.6" cy="281.8" r="5.3"/><circle cx="633.1" cy="301.7" r="5.3"/><circle cx="648.9" cy="297.2" r="5.3"/><circle cx="613.8" cy="320.9" r="5.3"/><circle cx="661.4" cy="295.2" r="5.3"/><circle cx="602.3" cy="310.2" r="5.3"/><circle cx="612.1" cy="333.2" r="5.3"/><circle cx="607.3" cy="313.2" r="5.3"/><circle cx="640.2" cy="319.4" r="5.3"/><circle cx="665.5" cy="308.1" r="5.3"/><circle cx="616.0" cy="323.8" r="5.3"/><circle cx="621.2" cy="296.3" r="5.3"/><circle cx="632.8" cy="325.1" r="5.3"/><circle cx="627.4" cy="283.3" r="5.3"/><circle cx="617.2" cy="329.3" r="5.3"/><circle cx="616.7" cy="335.1" r="5.3"/><circle cx="630.6" cy="278.2" r="5.3"/><circle cx="609.6" cy="332.7" r="5.3"/><circle cx="636.7" cy="312.0" r="5.3"/><circle cx="627.5" cy="319.4" r="5.3"/><circle cx="636.6" cy="286.1" r="5.3"/><circle cx="643.1" cy="269.8" r="5.3"/><circle cx="665.9" cy="292.0" r="5.3"/><circle cx="667.2" cy="283.5" r="5.3"/><circle cx="629.3" cy="282.2" r="5.3"/><circle cx="633.3" cy="275.7" r="5.3"/><circle cx="621.7" cy="281.4" r="5.3"/><circle cx="623.3" cy="304.0" r="5.3"/><circle cx="633.5" cy="319.2" r="5.3"/><circle cx="651.9" cy="292.7" r="5.3"/><circle cx="603.8" cy="337.7" r="5.3"/><circle cx="610.4" cy="338.0" r="5.3"/><circle cx="600.1" cy="349.6" r="5.3"/><circle cx="651.7" cy="281.8" r="5.3"/><circle cx="617.9" cy="332.7" r="5.3"/><circle cx="626.9" cy="272.4" r="5.3"/><circle cx="612.6" cy="343.8" r="5.3"/><circle cx="615.0" cy="324.6" r="5.3"/><circle cx="643.6" cy="283.2" r="5.3"/><circle cx="617.9" cy="271.2" r="5.3"/><circle cx="636.6" cy="271.6" r="5.3"/><circle cx="638.5" cy="305.8" r="5.3"/><circle cx="599.7" cy="338.9" r="5.3"/><circle cx="636.6" cy="312.0" r="5.3"/><circle cx="629.2" cy="298.1" r="5.3"/><circle cx="640.0" cy="304.5" r="5.3"/><circle cx="671.0" cy="261.0" r="5.3"/><circle cx="628.5" cy="303.5" r="5.3"/><circle cx="616.1" cy="299.7" r="5.3"/><circle cx="633.0" cy="311.2" r="5.3"/><circle cx="665.3" cy="286.0" r="5.3"/><circle cx="665.4" cy="296.7" r="5.3"/><circle cx="639.5" cy="283.9" r="5.3"/><circle cx="625.7" cy="288.3" r="5.3"/><circle cx="623.1" cy="314.3" r="5.3"/><circle cx="602.4" cy="327.5" r="5.3"/><circle cx="653.7" cy="278.2" r="5.3"/><circle cx="652.6" cy="301.9" r="5.3"/><circle cx="660.2" cy="267.5" r="5.3"/><circle cx="651.7" cy="293.3" r="5.3"/><circle cx="644.2" cy="282.6" r="5.3"/><circle cx="623.4" cy="298.4" r="5.3"/><circle cx="624.7" cy="299.3" r="5.3"/><circle cx="603.6" cy="312.5" r="5.3"/><circle cx="672.7" cy="300.8" r="5.3"/><circle cx="632.2" cy="267.6" r="5.3"/><circle cx="650.8" cy="278.2" r="5.3"/><circle cx="606.3" cy="341.7" r="5.3"/><circle cx="656.7" cy="281.1" r="5.3"/><circle cx="657.9" cy="275.8" r="5.3"/><circle cx="603.2" cy="332.5" r="5.3"/><circle cx="657.6" cy="265.8" r="5.3"/><circle cx="664.6" cy="265.4" r="5.3"/><circle cx="624.1" cy="328.1" r="5.3"/><circle cx="612.5" cy="340.8" r="5.3"/><circle cx="628.6" cy="313.2" r="5.3"/><circle cx="634.3" cy="323.1" r="5.3"/><circle cx="610.8" cy="334.7" r="5.3"/><circle cx="628.3" cy="320.0" r="5.3"/><circle cx="649.6" cy="298.1" r="5.3"/><circle cx="644.5" cy="285.9" r="5.3"/><circle cx="604.1" cy="351.8" r="5.3"/><circle cx="625.8" cy="316.2" r="5.3"/><circle cx="647.3" cy="287.5" r="5.3"/><circle cx="629.3" cy="323.8" r="5.3"/><circle cx="663.8" cy="285.1" r="5.3"/><circle cx="633.0" cy="314.4" r="5.3"/><circle cx="602.6" cy="338.2" r="5.3"/><circle cx="644.9" cy="284.1" r="5.3"/><circle cx="626.9" cy="265.9" r="5.3"/><circle cx="615.2" cy="330.1" r="5.3"/><circle cx="673.7" cy="280.3" r="5.3"/><circle cx="636.4" cy="277.7" r="5.3"/><circle cx="619.6" cy="330.2" r="5.3"/><circle cx="662.5" cy="302.1" r="5.3"/><circle cx="606.2" cy="335.6" r="5.3"/><circle cx="661.0" cy="280.2" r="5.3"/><circle cx="637.3" cy="314.6" r="5.3"/><circle cx="614.3" cy="276.3" r="5.3"/><circle cx="613.7" cy="325.4" r="5.3"/><circle cx="628.2" cy="312.2" r="5.3"/><circle cx="631.4" cy="307.7" r="5.3"/><circle cx="607.7" cy="318.8" r="5.3"/><circle cx="662.2" cy="272.8" r="5.3"/><circle cx="647.0" cy="291.0" r="5.3"/><circle cx="668.5" cy="304.7" r="5.3"/><circle cx="644.6" cy="283.0" r="5.3"/><circle cx="661.5" cy="298.8" r="5.3"/><circle cx="615.3" cy="275.2" r="5.3"/><circle cx="672.0" cy="263.9" r="5.3"/><circle cx="647.0" cy="296.1" r="5.3"/><circle cx="608.8" cy="350.3" r="5.3"/><circle cx="619.8" cy="312.2" r="5.3"/><circle cx="652.8" cy="295.7" r="5.3"/><circle cx="635.1" cy="273.1" r="5.3"/><circle cx="619.7" cy="291.7" r="5.3"/><circle cx="666.2" cy="262.2" r="5.3"/><circle cx="653.3" cy="286.6" r="5.3"/><circle cx="619.8" cy="269.7" r="5.3"/><circle cx="637.7" cy="274.0" r="5.3"/><circle cx="618.3" cy="271.5" r="5.3"/><circle cx="656.6" cy="276.5" r="5.3"/><circle cx="602.1" cy="347.3" r="5.3"/><circle cx="610.4" cy="300.9" r="5.3"/><circle cx="607.0" cy="347.4" r="5.3"/><circle cx="635.4" cy="290.5" r="5.3"/><circle cx="665.0" cy="303.8" r="5.3"/><circle cx="649.4" cy="271.5" r="5.3"/><circle cx="616.9" cy="263.2" r="5.3"/><circle cx="610.8" cy="341.8" r="5.3"/><circle cx="620.5" cy="297.5" r="5.3"/><circle cx="611.7" cy="283.9" r="5.3"/><circle cx="666.4" cy="290.0" r="5.3"/><circle cx="612.6" cy="305.1" r="5.3"/><circle cx="603.8" cy="344.1" r="5.3"/><circle cx="652.7" cy="278.1" r="5.3"/><circle cx="637.4" cy="285.3" r="5.3"/><circle cx="619.8" cy="277.2" r="5.3"/><circle cx="670.9" cy="263.3" r="5.3"/><circle cx="657.3" cy="286.0" r="5.3"/><circle cx="663.8" cy="290.6" r="5.3"/><circle cx="614.1" cy="299.7" r="5.3"/><circle cx="672.1" cy="278.8" r="5.3"/><circle cx="644.9" cy="271.0" r="5.3"/><circle cx="613.6" cy="332.1" r="5.3"/><circle cx="656.1" cy="276.7" r="5.3"/><circle cx="647.9" cy="305.6" r="5.3"/><circle cx="621.1" cy="277.6" r="5.3"/><circle cx="657.8" cy="297.1" r="5.3"/><circle cx="664.0" cy="290.1" r="5.3"/><circle cx="668.9" cy="283.4" r="5.3"/><circle cx="614.1" cy="338.0" r="5.3"/><circle cx="628.6" cy="273.5" r="5.3"/><circle cx="628.9" cy="315.2" r="5.3"/><circle cx="634.9" cy="307.5" r="5.3"/><circle cx="608.9" cy="326.7" r="5.3"/><circle cx="624.9" cy="326.4" r="5.3"/><circle cx="629.7" cy="330.3" r="5.3"/><circle cx="604.1" cy="342.0" r="5.3"/><circle cx="640.3" cy="308.9" r="5.3"/><circle cx="676.6" cy="279.3" r="5.3"/><circle cx="619.2" cy="336.6" r="5.3"/><circle cx="655.1" cy="276.5" r="5.3"/><circle cx="645.3" cy="308.2" r="5.3"/><circle cx="655.4" cy="267.6" r="5.3"/><circle cx="638.7" cy="306.1" r="5.3"/><circle cx="621.6" cy="269.5" r="5.3"/><circle cx="631.7" cy="270.9" r="5.3"/><circle cx="611.0" cy="313.0" r="5.3"/><circle cx="658.9" cy="273.6" r="5.3"/><circle cx="630.3" cy="298.3" r="5.3"/><circle cx="661.3" cy="290.4" r="5.3"/><circle cx="618.4" cy="290.1" r="5.3"/><circle cx="603.5" cy="307.7" r="5.3"/><circle cx="619.1" cy="298.5" r="5.3"/><circle cx="649.8" cy="292.9" r="5.3"/><circle cx="633.8" cy="306.4" r="5.3"/><circle cx="670.0" cy="261.0" r="5.3"/><circle cx="650.5" cy="283.4" r="5.3"/><circle cx="653.5" cy="284.1" r="5.3"/><circle cx="648.9" cy="281.9" r="5.3"/><circle cx="640.8" cy="299.6" r="5.3"/><circle cx="675.3" cy="285.5" r="5.3"/><circle cx="623.6" cy="320.2" r="5.3"/><circle cx="608.8" cy="315.1" r="5.3"/><circle cx="620.7" cy="302.7" r="5.3"/><circle cx="641.9" cy="272.0" r="5.3"/><circle cx="622.7" cy="297.0" r="5.3"/><circle cx="622.3" cy="281.2" r="5.3"/><circle cx="606.2" cy="310.5" r="5.3"/><circle cx="615.3" cy="326.3" r="5.3"/><circle cx="636.1" cy="310.6" r="5.3"/><circle cx="648.2" cy="303.0" r="5.3"/><circle cx="624.0" cy="281.1" r="5.3"/><circle cx="616.9" cy="307.2" r="5.3"/><circle cx="617.2" cy="345.4" r="5.3"/><circle cx="603.5" cy="353.5" r="5.3"/><circle cx="623.5" cy="336.0" r="5.3"/><circle cx="639.1" cy="323.5" r="5.3"/><circle cx="664.1" cy="307.2" r="5.3"/><circle cx="671.6" cy="299.1" r="5.3"/></g>
<g fill="#30A9E1" stroke="#278ab8" stroke-width="0.9"><circle cx="1231.3" cy="65.7" r="4.85"/><circle cx="1261.9" cy="74.1" r="4.85"/><circle cx="1257.4" cy="79.2" r="4.85"/><circle cx="1269.7" cy="80.5" r="4.85"/><circle cx="1256.1" cy="85.0" r="4.85"/><circle cx="1258.7" cy="89.6" r="4.85"/><circle cx="1260.0" cy="94.1" r="4.85"/><circle cx="1269.7" cy="96.0" r="4.85"/><circle cx="1219.3" cy="83.7" r="4.85"/><circle cx="1226.4" cy="85.0" r="4.85"/><circle cx="1233.5" cy="86.3" r="4.85"/><circle cx="1244.5" cy="85.3" r="4.85"/><circle cx="1199.9" cy="94.7" r="4.85"/><circle cx="1207.7" cy="94.7" r="4.85"/><circle cx="1220.6" cy="99.9" r="4.85"/><circle cx="1263.9" cy="106.3" r="4.85"/><circle cx="1272.2" cy="108.3" r="4.85"/><circle cx="1273.5" cy="120.6" r="4.85"/><circle cx="1232.2" cy="118.9" r="4.85"/><circle cx="1241.3" cy="121.5" r="4.85"/><circle cx="1151.5" cy="105.4" r="4.85"/><circle cx="1141.5" cy="112.2" r="4.85"/><circle cx="1190.9" cy="111.5" r="4.85"/><circle cx="1169.6" cy="119.6" r="4.85"/><circle cx="1181.2" cy="120.3" r="4.85"/><circle cx="1130.2" cy="123.1" r="4.85"/><circle cx="1145.7" cy="123.8" r="4.85"/><circle cx="1150.8" cy="126.4" r="4.85"/><circle cx="1157.3" cy="123.1" r="4.85"/><circle cx="1190.2" cy="130.9" r="4.85"/><circle cx="1128.2" cy="137.3" r="4.85"/><circle cx="1135.3" cy="139.3" r="4.85"/><circle cx="1148.9" cy="138.0" r="4.85"/><circle cx="1170.9" cy="141.2" r="4.85"/><circle cx="1203.2" cy="141.9" r="4.85"/><circle cx="1208.3" cy="143.8" r="4.85"/><circle cx="1132.1" cy="152.8" r="4.85"/><circle cx="1143.7" cy="147.7" r="4.85"/><circle cx="1151.5" cy="147.0" r="4.85"/><circle cx="1159.9" cy="147.0" r="4.85"/><circle cx="1160.5" cy="152.8" r="4.85"/><circle cx="1174.7" cy="154.5" r="4.85"/><circle cx="1221.2" cy="154.8" r="4.85"/><circle cx="1230.9" cy="158.7" r="4.85"/><circle cx="1236.7" cy="158.7" r="4.85"/><circle cx="1240.6" cy="152.2" r="4.85"/><circle cx="1247.1" cy="149.6" r="4.85"/><circle cx="1252.9" cy="149.4" r="4.85"/><circle cx="1147.6" cy="159.9" r="4.85"/><circle cx="1141.8" cy="165.1" r="4.85"/><circle cx="1145.0" cy="168.3" r="4.85"/><circle cx="1168.9" cy="163.6" r="4.85"/><circle cx="1189.6" cy="168.7" r="4.85"/><circle cx="1191.5" cy="174.1" r="4.85"/><circle cx="1199.9" cy="173.5" r="4.85"/><circle cx="1227.0" cy="170.5" r="4.85"/><circle cx="1161.8" cy="174.1" r="4.85"/><circle cx="1154.7" cy="182.5" r="4.85"/><circle cx="1163.1" cy="181.9" r="4.85"/><circle cx="1170.9" cy="184.5" r="4.85"/><circle cx="1176.0" cy="181.9" r="4.85"/><circle cx="1183.8" cy="181.9" r="4.85"/><circle cx="1137.9" cy="189.6" r="4.85"/><circle cx="1146.3" cy="196.7" r="4.85"/><circle cx="1156.0" cy="197.4" r="4.85"/><circle cx="1137.9" cy="205.1" r="4.85"/><circle cx="1166.7" cy="203.9" r="4.85"/><circle cx="1175.4" cy="198.7" r="4.85"/><circle cx="1179.6" cy="222.6" r="4.85"/><circle cx="1188.3" cy="236.2" r="4.85"/><circle cx="1215.8" cy="234.9" r="4.85"/><circle cx="1165.7" cy="258.2" r="4.85"/><circle cx="1170.9" cy="256.9" r="4.85"/><circle cx="1189.6" cy="266.6" r="4.85"/><circle cx="1191.5" cy="271.7" r="4.85"/><circle cx="1192.8" cy="276.9" r="4.85"/><circle cx="1175.4" cy="275.6" r="4.85"/><circle cx="1163.8" cy="282.7" r="4.85"/><circle cx="1174.7" cy="287.9" r="4.85"/><circle cx="1169.6" cy="291.1" r="4.85"/><circle cx="1187.7" cy="286.0" r="4.85"/><circle cx="1195.4" cy="284.7" r="4.85"/><circle cx="1198.0" cy="292.4" r="4.85"/><circle cx="1204.4" cy="278.8" r="4.85"/><circle cx="1208.3" cy="267.9" r="4.85"/><circle cx="1213.5" cy="267.2" r="4.85"/><circle cx="1210.9" cy="256.2" r="4.85"/><circle cx="1218.7" cy="252.4" r="4.85"/><circle cx="1164.4" cy="298.2" r="4.85"/><circle cx="1156.0" cy="303.4" r="4.85"/><circle cx="1156.7" cy="310.5" r="4.85"/><circle cx="1163.8" cy="315.0" r="4.85"/><circle cx="1176.0" cy="310.5" r="4.85"/><circle cx="1183.1" cy="309.2" r="4.85"/><circle cx="1172.8" cy="320.6" r="4.85"/><circle cx="1183.1" cy="325.3" r="4.85"/><circle cx="1199.5" cy="301.2" r="4.85"/><circle cx="1211.5" cy="299.1" r="4.85"/><circle cx="1207.0" cy="311.1" r="4.85"/><circle cx="1213.5" cy="323.4" r="4.85"/><circle cx="1213.5" cy="333.7" r="4.85"/><circle cx="1203.2" cy="331.2" r="4.85"/><circle cx="1195.4" cy="335.0" r="4.85"/><circle cx="1188.9" cy="339.5" r="4.85"/><circle cx="1195.4" cy="342.1" r="4.85"/><circle cx="1175.8" cy="336.1" r="4.85"/><circle cx="1208.3" cy="347.9" r="4.85"/><circle cx="1260.2" cy="269.4" r="4.85"/><circle cx="1250.7" cy="287.2" r="4.85"/><circle cx="1226.4" cy="399.0" r="4.85"/><circle cx="1247.5" cy="467.1" r="4.85"/></g>
<g fill="#BF70BF" stroke="#9c5b9c" stroke-width="0.9"><circle cx="1281.3" cy="80.5" r="4.85"/><circle cx="1296.1" cy="76.6" r="4.85"/><circle cx="1301.3" cy="82.5" r="4.85"/><circle cx="1291.6" cy="87.0" r="4.85"/><circle cx="1298.7" cy="92.8" r="4.85"/><circle cx="1302.6" cy="89.6" r="4.85"/><circle cx="1280.0" cy="105.7" r="4.85"/><circle cx="1316.8" cy="94.1" r="4.85"/><circle cx="1325.8" cy="103.8" r="4.85"/><circle cx="1349.7" cy="108.5" r="4.85"/><circle cx="1342.0" cy="124.4" r="4.85"/><circle cx="1333.6" cy="125.7" r="4.85"/><circle cx="1324.6" cy="128.9" r="4.85"/><circle cx="1315.5" cy="130.2" r="4.85"/><circle cx="1307.8" cy="136.7" r="4.85"/><circle cx="1338.8" cy="136.7" r="4.85"/><circle cx="1345.2" cy="134.1" r="4.85"/><circle cx="1346.5" cy="141.9" r="4.85"/><circle cx="1353.6" cy="146.4" r="4.85"/><circle cx="1362.0" cy="139.3" r="4.85"/><circle cx="1382.7" cy="146.4" r="4.85"/><circle cx="1371.0" cy="152.8" r="4.85"/><circle cx="1376.2" cy="154.8" r="4.85"/><circle cx="1326.5" cy="156.1" r="4.85"/><circle cx="1344.6" cy="156.1" r="4.85"/><circle cx="1262.6" cy="167.7" r="4.85"/><circle cx="1268.4" cy="179.3" r="4.85"/><circle cx="1272.9" cy="183.2" r="4.85"/><circle cx="1338.8" cy="173.5" r="4.85"/><circle cx="1348.4" cy="176.1" r="4.85"/><circle cx="1367.8" cy="178.0" r="4.85"/><circle cx="1368.5" cy="183.2" r="4.85"/><circle cx="1376.2" cy="169.6" r="4.85"/><circle cx="1380.1" cy="172.9" r="4.85"/><circle cx="1323.3" cy="189.0" r="4.85"/><circle cx="1336.2" cy="186.4" r="4.85"/><circle cx="1358.1" cy="197.4" r="4.85"/><circle cx="1405.0" cy="136.0" r="4.85"/><circle cx="1410.2" cy="140.6" r="4.85"/><circle cx="1412.8" cy="148.3" r="4.85"/><circle cx="1397.9" cy="149.4" r="4.85"/><circle cx="1414.1" cy="159.3" r="4.85"/><circle cx="1414.1" cy="166.4" r="4.85"/><circle cx="1423.7" cy="178.0" r="4.85"/><circle cx="1261.3" cy="259.5" r="4.85"/><circle cx="1335.5" cy="262.4" r="4.85"/><circle cx="1354.9" cy="255.0" r="4.85"/><circle cx="1369.8" cy="249.5" r="4.85"/><circle cx="1325.2" cy="281.4" r="4.85"/><circle cx="1333.6" cy="293.7" r="4.85"/><circle cx="1349.1" cy="291.8" r="4.85"/><circle cx="1339.4" cy="308.6" r="4.85"/><circle cx="1411.2" cy="294.3" r="4.85"/></g>
<g fill="#A3A336" stroke="#85852c" stroke-width="0.9"><circle cx="1344.6" cy="205.8" r="4.85"/><circle cx="1360.5" cy="218.1" r="4.85"/><circle cx="1250.3" cy="276.9" r="4.85"/><circle cx="1260.6" cy="282.7" r="4.85"/><circle cx="1322.6" cy="287.2" r="4.85"/><circle cx="1332.3" cy="272.4" r="4.85"/><circle cx="1326.5" cy="303.8" r="4.85"/><circle cx="1300.0" cy="310.2" r="4.85"/><circle cx="1264.1" cy="318.0" r="4.85"/><circle cx="1356.6" cy="316.3" r="4.85"/><circle cx="1355.5" cy="319.5" r="4.85"/><circle cx="1331.7" cy="324.7" r="4.85"/><circle cx="1242.5" cy="331.8" r="4.85"/><circle cx="1254.2" cy="336.3" r="4.85"/><circle cx="1256.7" cy="340.2" r="4.85"/><circle cx="1255.5" cy="346.0" r="4.85"/><circle cx="1246.4" cy="345.4" r="4.85"/><circle cx="1247.1" cy="354.4" r="4.85"/><circle cx="1278.7" cy="335.0" r="4.85"/><circle cx="1224.9" cy="344.7" r="4.85"/><circle cx="1345.2" cy="337.4" r="4.85"/><circle cx="1330.4" cy="343.4" r="4.85"/><circle cx="1326.5" cy="346.7" r="4.85"/><circle cx="1272.9" cy="355.0" r="4.85"/><circle cx="1278.1" cy="354.4" r="4.85"/><circle cx="1277.4" cy="361.5" r="4.85"/><circle cx="1261.9" cy="362.1" r="4.85"/><circle cx="1229.6" cy="366.7" r="4.85"/><circle cx="1243.8" cy="368.0" r="4.85"/><circle cx="1238.7" cy="377.0" r="4.85"/><circle cx="1246.4" cy="384.7" r="4.85"/><circle cx="1260.0" cy="380.2" r="4.85"/><circle cx="1264.5" cy="390.6" r="4.85"/><circle cx="1285.2" cy="378.3" r="4.85"/><circle cx="1280.4" cy="389.9" r="4.85"/><circle cx="1311.4" cy="368.9" r="4.85"/><circle cx="1314.9" cy="379.6" r="4.85"/><circle cx="1311.6" cy="388.0" r="4.85"/><circle cx="1347.2" cy="355.7" r="4.85"/><circle cx="1344.6" cy="365.4" r="4.85"/><circle cx="1352.3" cy="373.1" r="4.85"/><circle cx="1378.8" cy="349.9" r="4.85"/><circle cx="1375.6" cy="369.3" r="4.85"/><circle cx="1367.2" cy="380.2" r="4.85"/><circle cx="1337.5" cy="382.2" r="4.85"/><circle cx="1235.4" cy="409.3" r="4.85"/><circle cx="1245.1" cy="404.8" r="4.85"/><circle cx="1245.8" cy="413.8" r="4.85"/><circle cx="1253.5" cy="406.1" r="4.85"/><circle cx="1259.3" cy="406.1" r="4.85"/><circle cx="1274.2" cy="406.7" r="4.85"/><circle cx="1290.3" cy="417.0" r="4.85"/><circle cx="1321.3" cy="402.8" r="4.85"/><circle cx="1330.4" cy="408.6" r="4.85"/><circle cx="1342.6" cy="399.0" r="4.85"/><circle cx="1361.4" cy="404.1" r="4.85"/><circle cx="1362.0" cy="411.2" r="4.85"/><circle cx="1373.6" cy="398.3" r="4.85"/><circle cx="1340.1" cy="416.4" r="4.85"/><circle cx="1353.0" cy="417.7" r="4.85"/><circle cx="1382.7" cy="406.1" r="4.85"/><circle cx="1383.3" cy="388.0" r="4.85"/><circle cx="1378.8" cy="419.0" r="4.85"/><circle cx="1391.5" cy="287.5" r="4.85"/><circle cx="1392.1" cy="305.7" r="4.85"/><circle cx="1403.5" cy="316.7" r="4.85"/><circle cx="1425.4" cy="320.2" r="4.85"/><circle cx="1424.4" cy="299.5" r="4.85"/><circle cx="1427.6" cy="300.2" r="4.85"/><circle cx="1443.5" cy="338.0" r="4.85"/><circle cx="1408.9" cy="351.2" r="4.85"/><circle cx="1409.5" cy="355.7" r="4.85"/><circle cx="1397.9" cy="361.5" r="4.85"/><circle cx="1390.8" cy="375.7" r="4.85"/><circle cx="1410.2" cy="375.5" r="4.85"/><circle cx="1419.2" cy="383.5" r="4.85"/><circle cx="1415.3" cy="397.0" r="4.85"/><circle cx="1429.6" cy="396.4" r="4.85"/><circle cx="1438.0" cy="398.3" r="4.85"/><circle cx="1448.3" cy="395.1" r="4.85"/><circle cx="1419.9" cy="405.4" r="4.85"/><circle cx="1390.2" cy="402.2" r="4.85"/><circle cx="1398.6" cy="417.0" r="4.85"/><circle cx="1290.3" cy="441.7" r="4.85"/><circle cx="1300.0" cy="448.8" r="4.85"/><circle cx="1297.4" cy="457.2" r="4.85"/><circle cx="1307.1" cy="458.5" r="4.85"/><circle cx="1306.5" cy="462.3" r="4.85"/><circle cx="1312.3" cy="445.3" r="4.85"/><circle cx="1322.0" cy="439.7" r="4.85"/><circle cx="1338.1" cy="437.1" r="4.85"/><circle cx="1335.5" cy="447.5" r="4.85"/><circle cx="1348.4" cy="444.0" r="4.85"/><circle cx="1362.7" cy="436.2" r="4.85"/><circle cx="1363.3" cy="424.9" r="4.85"/><circle cx="1348.4" cy="423.6" r="4.85"/><circle cx="1380.7" cy="446.2" r="4.85"/><circle cx="1343.3" cy="456.5" r="4.85"/><circle cx="1331.7" cy="460.4" r="4.85"/><circle cx="1318.7" cy="468.8" r="4.85"/><circle cx="1298.7" cy="472.9" r="4.85"/><circle cx="1280.0" cy="456.1" r="4.85"/><circle cx="1254.6" cy="455.2" r="4.85"/><circle cx="1260.0" cy="469.4" r="4.85"/><circle cx="1267.7" cy="466.2" r="4.85"/><circle cx="1261.3" cy="474.6" r="4.85"/><circle cx="1334.2" cy="476.5" r="4.85"/><circle cx="1329.1" cy="483.0" r="4.85"/><circle cx="1360.5" cy="478.7" r="4.85"/><circle cx="1338.8" cy="494.0" r="4.85"/><circle cx="1339.4" cy="498.5" r="4.85"/><circle cx="1377.5" cy="488.2" r="4.85"/><circle cx="1373.6" cy="494.0" r="4.85"/><circle cx="1382.7" cy="495.9" r="4.85"/><circle cx="1373.6" cy="523.0" r="4.85"/><circle cx="1381.4" cy="525.6" r="4.85"/><circle cx="1356.2" cy="532.7" r="4.85"/><circle cx="1373.0" cy="533.4" r="4.85"/><circle cx="1349.7" cy="550.8" r="4.85"/><circle cx="1363.3" cy="546.3" r="4.85"/><circle cx="1356.8" cy="556.6" r="4.85"/><circle cx="1363.3" cy="563.1" r="4.85"/><circle cx="1382.0" cy="554.7" r="4.85"/><circle cx="1377.5" cy="568.2" r="4.85"/><circle cx="1381.4" cy="572.1" r="4.85"/><circle cx="1370.4" cy="582.4" r="4.85"/><circle cx="1388.9" cy="424.9" r="4.85"/><circle cx="1414.7" cy="424.9" r="4.85"/><circle cx="1427.0" cy="427.2" r="4.85"/><circle cx="1399.2" cy="442.3" r="4.85"/><circle cx="1408.2" cy="442.7" r="4.85"/><circle cx="1399.9" cy="497.2" r="4.85"/><circle cx="1392.5" cy="544.7" r="4.85"/><circle cx="1397.3" cy="563.1" r="4.85"/><circle cx="1363.9" cy="618.0" r="4.85"/><circle cx="1369.1" cy="616.1" r="4.85"/><circle cx="1373.4" cy="632.9" r="4.85"/><circle cx="1386.3" cy="626.4" r="4.85"/></g>
<g fill="#25B779" stroke="#1e9663" stroke-width="0.9"><circle cx="1485.5" cy="397.0" r="4.85"/><circle cx="1436.9" cy="411.0" r="4.85"/><circle cx="1476.4" cy="411.9" r="4.85"/><circle cx="1437.7" cy="443.0" r="4.85"/><circle cx="1504.9" cy="463.9" r="4.85"/><circle cx="1487.7" cy="469.4" r="4.85"/><circle cx="1486.4" cy="473.3" r="4.85"/><circle cx="1501.0" cy="491.6" r="4.85"/><circle cx="1538.7" cy="490.1" r="4.85"/><circle cx="1537.4" cy="497.8" r="4.85"/><circle cx="1527.1" cy="499.8" r="4.85"/><circle cx="1530.9" cy="503.7" r="4.85"/><circle cx="1567.7" cy="499.1" r="4.85"/><circle cx="1573.6" cy="510.8" r="4.85"/><circle cx="1405.0" cy="504.7" r="4.85"/><circle cx="1412.8" cy="515.9" r="4.85"/><circle cx="1414.7" cy="515.3" r="4.85"/><circle cx="1393.8" cy="517.6" r="4.85"/><circle cx="1481.2" cy="511.4" r="4.85"/><circle cx="1486.4" cy="508.8" r="4.85"/><circle cx="1496.1" cy="516.3" r="4.85"/><circle cx="1524.5" cy="515.3" r="4.85"/><circle cx="1524.5" cy="521.1" r="4.85"/><circle cx="1514.8" cy="530.1" r="4.85"/><circle cx="1520.0" cy="539.2" r="4.85"/><circle cx="1570.3" cy="526.9" r="4.85"/><circle cx="1569.7" cy="538.5" r="4.85"/><circle cx="1433.0" cy="533.1" r="4.85"/><circle cx="1481.2" cy="539.6" r="4.85"/><circle cx="1446.7" cy="543.0" r="4.85"/><circle cx="1458.6" cy="548.6" r="4.85"/><circle cx="1409.5" cy="548.0" r="4.85"/><circle cx="1421.5" cy="550.8" r="4.85"/><circle cx="1421.2" cy="561.8" r="4.85"/><circle cx="1420.5" cy="566.9" r="4.85"/><circle cx="1412.1" cy="567.6" r="4.85"/><circle cx="1516.7" cy="554.0" r="4.85"/><circle cx="1522.5" cy="556.6" r="4.85"/><circle cx="1499.9" cy="558.5" r="4.85"/><circle cx="1507.0" cy="561.8" r="4.85"/><circle cx="1572.3" cy="552.1" r="4.85"/><circle cx="1572.3" cy="561.8" r="4.85"/><circle cx="1558.1" cy="560.5" r="4.85"/><circle cx="1561.3" cy="567.6" r="4.85"/><circle cx="1571.0" cy="564.4" r="4.85"/><circle cx="1584.9" cy="571.1" r="4.85"/><circle cx="1464.4" cy="567.6" r="4.85"/><circle cx="1487.4" cy="568.2" r="4.85"/><circle cx="1521.9" cy="566.9" r="4.85"/><circle cx="1520.0" cy="570.8" r="4.85"/><circle cx="1526.4" cy="576.6" r="4.85"/><circle cx="1458.0" cy="577.9" r="4.85"/><circle cx="1512.2" cy="582.4" r="4.85"/><circle cx="1518.7" cy="588.9" r="4.85"/><circle cx="1448.5" cy="591.5" r="4.85"/><circle cx="1464.4" cy="597.9" r="4.85"/><circle cx="1533.5" cy="597.3" r="4.85"/><circle cx="1510.3" cy="598.6" r="4.85"/><circle cx="1506.4" cy="603.1" r="4.85"/><circle cx="1436.0" cy="600.5" r="4.85"/><circle cx="1432.8" cy="604.4" r="4.85"/><circle cx="1473.5" cy="605.7" r="4.85"/><circle cx="1416.0" cy="616.7" r="4.85"/><circle cx="1428.7" cy="617.4" r="4.85"/><circle cx="1450.9" cy="614.8" r="4.85"/><circle cx="1482.9" cy="613.9" r="4.85"/><circle cx="1497.4" cy="613.5" r="4.85"/><circle cx="1502.5" cy="619.3" r="4.85"/><circle cx="1503.2" cy="622.6" r="4.85"/><circle cx="1485.1" cy="626.8" r="4.85"/><circle cx="1416.0" cy="632.9" r="4.85"/><circle cx="1417.9" cy="640.0" r="4.85"/><circle cx="1420.5" cy="645.8" r="4.85"/><circle cx="1441.6" cy="640.0" r="4.85"/><circle cx="1470.5" cy="634.6" r="4.85"/><circle cx="1496.1" cy="631.0" r="4.85"/><circle cx="1505.1" cy="634.8" r="4.85"/><circle cx="1494.8" cy="637.4" r="4.85"/><circle cx="1487.0" cy="643.9" r="4.85"/><circle cx="1530.9" cy="638.7" r="4.85"/><circle cx="1523.2" cy="643.9" r="4.85"/><circle cx="1524.5" cy="649.0" r="4.85"/><circle cx="1541.9" cy="631.0" r="4.85"/><circle cx="1543.9" cy="618.0" r="4.85"/><circle cx="1550.3" cy="615.5" r="4.85"/><circle cx="1547.7" cy="610.3" r="4.85"/><circle cx="1551.0" cy="625.8" r="4.85"/><circle cx="1473.5" cy="652.0" r="4.85"/><circle cx="1501.2" cy="652.3" r="4.85"/><circle cx="1530.9" cy="656.1" r="4.85"/><circle cx="1519.3" cy="659.4" r="4.85"/><circle cx="1512.9" cy="658.7" r="4.85"/><circle cx="1504.5" cy="662.0" r="4.85"/><circle cx="1447.6" cy="652.9" r="4.85"/><circle cx="1452.8" cy="652.9" r="4.85"/><circle cx="1448.9" cy="657.4" r="4.85"/><circle cx="1433.4" cy="662.0" r="4.85"/><circle cx="1439.2" cy="664.5" r="4.85"/><circle cx="1465.7" cy="662.0" r="4.85"/><circle cx="1487.7" cy="663.2" r="4.85"/><circle cx="1477.3" cy="669.1" r="4.85"/><circle cx="1494.8" cy="670.3" r="4.85"/><circle cx="1479.9" cy="677.4" r="4.85"/><circle cx="1489.0" cy="676.2" r="4.85"/><circle cx="1443.8" cy="673.6" r="4.85"/><circle cx="1439.2" cy="679.4" r="4.85"/><circle cx="1472.8" cy="685.2" r="4.85"/><circle cx="1480.6" cy="684.6" r="4.85"/><circle cx="1487.0" cy="685.2" r="4.85"/><circle cx="1479.3" cy="691.7" r="4.85"/><circle cx="1477.3" cy="698.1" r="4.85"/><circle cx="1484.4" cy="698.8" r="4.85"/><circle cx="1464.4" cy="702.6" r="4.85"/><circle cx="1467.7" cy="711.0" r="4.85"/><circle cx="1448.3" cy="720.1" r="4.85"/><circle cx="1445.7" cy="726.5" r="4.85"/></g>
<g fill="#F2756C" stroke="#c65f58" stroke-width="0.9"><circle cx="1428.0" cy="138.2" r="4.85"/><circle cx="1461.6" cy="140.6" r="4.85"/><circle cx="1462.1" cy="150.9" r="4.85"/><circle cx="1490.6" cy="151.2" r="4.85"/><circle cx="1440.3" cy="157.1" r="4.85"/><circle cx="1523.4" cy="127.7" r="4.85"/><circle cx="1530.0" cy="140.8" r="4.85"/><circle cx="1516.1" cy="155.4" r="4.85"/><circle cx="1517.4" cy="161.2" r="4.85"/><circle cx="1516.7" cy="167.7" r="4.85"/><circle cx="1520.6" cy="173.5" r="4.85"/><circle cx="1504.5" cy="174.8" r="4.85"/><circle cx="1509.0" cy="176.1" r="4.85"/><circle cx="1542.3" cy="150.9" r="4.85"/><circle cx="1549.0" cy="155.8" r="4.85"/><circle cx="1562.6" cy="152.8" r="4.85"/><circle cx="1571.0" cy="156.1" r="4.85"/><circle cx="1578.7" cy="150.9" r="4.85"/><circle cx="1540.6" cy="163.8" r="4.85"/><circle cx="1552.2" cy="169.0" r="4.85"/><circle cx="1556.8" cy="176.1" r="4.85"/><circle cx="1580.7" cy="163.8" r="4.85"/><circle cx="1608.7" cy="152.8" r="4.85"/><circle cx="1622.0" cy="161.9" r="4.85"/><circle cx="1643.3" cy="172.2" r="4.85"/><circle cx="1603.3" cy="176.1" r="4.85"/><circle cx="1587.8" cy="182.5" r="4.85"/><circle cx="1596.8" cy="183.8" r="4.85"/><circle cx="1583.2" cy="194.8" r="4.85"/><circle cx="1590.3" cy="202.6" r="4.85"/><circle cx="1583.9" cy="205.8" r="4.85"/><circle cx="1622.6" cy="183.2" r="4.85"/><circle cx="1630.4" cy="186.4" r="4.85"/><circle cx="1638.1" cy="183.8" r="4.85"/><circle cx="1634.3" cy="201.9" r="4.85"/><circle cx="1627.8" cy="202.6" r="4.85"/><circle cx="1623.3" cy="212.2" r="4.85"/><circle cx="1630.4" cy="221.9" r="4.85"/><circle cx="1612.3" cy="221.9" r="4.85"/><circle cx="1605.2" cy="229.7" r="4.85"/><circle cx="1428.3" cy="169.2" r="4.85"/><circle cx="1462.9" cy="186.8" r="4.85"/><circle cx="1481.9" cy="183.2" r="4.85"/><circle cx="1516.7" cy="190.3" r="4.85"/><circle cx="1434.7" cy="192.2" r="4.85"/><circle cx="1436.0" cy="200.0" r="4.85"/><circle cx="1446.7" cy="198.0" r="4.85"/><circle cx="1438.0" cy="209.7" r="4.85"/><circle cx="1477.3" cy="200.0" r="4.85"/><circle cx="1480.6" cy="211.0" r="4.85"/><circle cx="1474.1" cy="216.8" r="4.85"/><circle cx="1464.4" cy="215.5" r="4.85"/><circle cx="1453.4" cy="213.5" r="4.85"/><circle cx="1434.7" cy="220.0" r="4.85"/><circle cx="1451.1" cy="228.4" r="4.85"/><circle cx="1493.2" cy="221.9" r="4.85"/><circle cx="1517.8" cy="221.3" r="4.85"/><circle cx="1532.9" cy="201.9" r="4.85"/><circle cx="1527.7" cy="210.3" r="4.85"/><circle cx="1539.3" cy="209.0" r="4.85"/><circle cx="1553.9" cy="205.1" r="4.85"/><circle cx="1569.4" cy="211.6" r="4.85"/><circle cx="1546.4" cy="220.6" r="4.85"/><circle cx="1552.9" cy="225.8" r="4.85"/><circle cx="1561.3" cy="228.4" r="4.85"/><circle cx="1574.8" cy="221.9" r="4.85"/><circle cx="1445.1" cy="243.3" r="4.85"/><circle cx="1454.7" cy="237.5" r="4.85"/><circle cx="1468.9" cy="236.2" r="4.85"/><circle cx="1479.7" cy="240.7" r="4.85"/><circle cx="1466.1" cy="248.5" r="4.85"/><circle cx="1456.7" cy="256.9" r="4.85"/><circle cx="1482.5" cy="253.7" r="4.85"/><circle cx="1477.7" cy="259.9" r="4.85"/><circle cx="1497.6" cy="234.3" r="4.85"/><circle cx="1525.1" cy="235.6" r="4.85"/><circle cx="1548.0" cy="234.3" r="4.85"/><circle cx="1577.4" cy="253.7" r="4.85"/><circle cx="1593.3" cy="246.3" r="4.85"/><circle cx="1606.5" cy="245.9" r="4.85"/><circle cx="1604.6" cy="253.7" r="4.85"/><circle cx="1612.3" cy="252.4" r="4.85"/><circle cx="1618.8" cy="253.7" r="4.85"/><circle cx="1621.3" cy="260.8" r="4.85"/><circle cx="1620.7" cy="238.8" r="4.85"/><circle cx="1631.7" cy="238.2" r="4.85"/><circle cx="1582.6" cy="265.9" r="4.85"/><circle cx="1548.8" cy="269.2" r="4.85"/><circle cx="1551.6" cy="276.9" r="4.85"/><circle cx="1535.5" cy="276.9" r="4.85"/><circle cx="1562.6" cy="277.6" r="4.85"/><circle cx="1561.3" cy="284.7" r="4.85"/><circle cx="1573.3" cy="273.3" r="4.85"/><circle cx="1581.3" cy="284.7" r="4.85"/><circle cx="1573.6" cy="287.2" r="4.85"/><circle cx="1577.4" cy="293.7" r="4.85"/><circle cx="1553.9" cy="292.2" r="4.85"/><circle cx="1622.0" cy="275.4" r="4.85"/><circle cx="1625.9" cy="286.6" r="4.85"/><circle cx="1611.7" cy="288.5" r="4.85"/><circle cx="1604.6" cy="298.9" r="4.85"/><circle cx="1444.2" cy="289.6" r="4.85"/><circle cx="1458.0" cy="284.9" r="4.85"/><circle cx="1477.3" cy="281.4" r="4.85"/><circle cx="1479.3" cy="286.6" r="4.85"/><circle cx="1474.1" cy="297.6" r="4.85"/><circle cx="1482.5" cy="302.7" r="4.85"/><circle cx="1480.6" cy="309.2" r="4.85"/><circle cx="1514.5" cy="296.0" r="4.85"/><circle cx="1536.7" cy="301.4" r="4.85"/><circle cx="1466.4" cy="315.0" r="4.85"/><circle cx="1560.6" cy="316.7" r="4.85"/><circle cx="1585.8" cy="308.6" r="4.85"/><circle cx="1592.3" cy="317.6" r="4.85"/><circle cx="1615.5" cy="307.3" r="4.85"/><circle cx="1612.3" cy="320.8" r="4.85"/><circle cx="1615.5" cy="326.0" r="4.85"/><circle cx="1474.8" cy="329.2" r="4.85"/><circle cx="1470.2" cy="331.8" r="4.85"/><circle cx="1558.7" cy="331.8" r="4.85"/><circle cx="1583.2" cy="329.9" r="4.85"/><circle cx="1507.0" cy="335.0" r="4.85"/><circle cx="1512.9" cy="341.5" r="4.85"/><circle cx="1582.0" cy="342.8" r="4.85"/><circle cx="1463.1" cy="349.0" r="4.85"/><circle cx="1509.0" cy="352.5" r="4.85"/><circle cx="1515.4" cy="353.8" r="4.85"/><circle cx="1580.7" cy="360.2" r="4.85"/><circle cx="1627.2" cy="359.6" r="4.85"/><circle cx="1457.1" cy="360.9" r="4.85"/><circle cx="1489.9" cy="369.3" r="4.85"/><circle cx="1509.6" cy="369.9" r="4.85"/><circle cx="1556.8" cy="365.4" r="4.85"/><circle cx="1546.2" cy="374.0" r="4.85"/><circle cx="1576.8" cy="377.9" r="4.85"/><circle cx="1619.4" cy="369.3" r="4.85"/><circle cx="1616.2" cy="378.9" r="4.85"/><circle cx="1464.4" cy="374.4" r="4.85"/><circle cx="1434.1" cy="385.4" r="4.85"/><circle cx="1548.4" cy="388.6" r="4.85"/><circle cx="1552.9" cy="394.4" r="4.85"/><circle cx="1582.6" cy="388.6" r="4.85"/><circle cx="1567.7" cy="392.5" r="4.85"/><circle cx="1614.9" cy="387.3" r="4.85"/><circle cx="1623.9" cy="395.1" r="4.85"/><circle cx="1598.1" cy="396.4" r="4.85"/><circle cx="1474.1" cy="402.2" r="4.85"/><circle cx="1544.5" cy="405.4" r="4.85"/><circle cx="1532.9" cy="410.6" r="4.85"/><circle cx="1575.9" cy="401.5" r="4.85"/><circle cx="1585.2" cy="408.0" r="4.85"/><circle cx="1569.7" cy="413.2" r="4.85"/><circle cx="1581.3" cy="417.7" r="4.85"/><circle cx="1594.2" cy="411.9" r="4.85"/><circle cx="1608.4" cy="406.1" r="4.85"/><circle cx="1617.5" cy="412.5" r="4.85"/><circle cx="1602.0" cy="417.7" r="4.85"/><circle cx="1427.0" cy="295.0" r="4.85"/><circle cx="1517.0" cy="425.9" r="4.85"/><circle cx="1543.9" cy="433.9" r="4.85"/><circle cx="1576.8" cy="433.9" r="4.85"/><circle cx="1578.1" cy="427.5" r="4.85"/><circle cx="1616.2" cy="426.2" r="4.85"/><circle cx="1594.9" cy="439.7" r="4.85"/><circle cx="1618.1" cy="443.6" r="4.85"/><circle cx="1600.0" cy="453.3" r="4.85"/><circle cx="1595.5" cy="458.5" r="4.85"/><circle cx="1590.3" cy="460.4" r="4.85"/><circle cx="1541.7" cy="463.9" r="4.85"/><circle cx="1574.8" cy="484.3" r="4.85"/><circle cx="1580.7" cy="492.0" r="4.85"/><circle cx="1551.3" cy="492.7" r="4.85"/><circle cx="1574.8" cy="503.0" r="4.85"/><circle cx="1571.6" cy="508.2" r="4.85"/><circle cx="1542.8" cy="513.1" r="4.85"/></g>
<polygon points="293.5,1069.9 294.2,1070.8 295.2,1072.0 296.4,1073.4 297.6,1075.0 298.9,1076.9 300.0,1078.9 301.0,1081.1 302.0,1083.5 302.9,1086.1 303.9,1088.9 304.9,1091.8 306.0,1094.8 307.2,1097.8 308.6,1101.0 310.0,1104.2 311.4,1107.6 312.8,1111.1 313.9,1114.7 315.0,1118.4 315.9,1122.3 316.8,1126.4 317.6,1130.4 318.3,1134.5 318.9,1138.5 319.5,1142.7 319.9,1147.0 320.3,1151.3 320.6,1155.5 320.8,1159.2 320.9,1162.4 320.9,1164.9 320.7,1166.7 320.5,1168.2 320.1,1169.5 319.6,1170.8 318.9,1172.3 318.0,1174.0 317.0,1175.7 315.8,1177.3 314.5,1179.0 313.2,1180.6 311.9,1182.3 310.7,1184.0 309.3,1185.7 307.9,1187.4 306.5,1189.1 305.2,1190.7 304.0,1192.2 302.9,1193.6 301.7,1194.8 300.7,1196.0 299.7,1197.2 298.8,1198.5 298.0,1200.2 297.3,1202.1 296.8,1204.2 296.3,1206.4 295.9,1208.8 295.4,1211.4 295.0,1214.1 294.6,1217.1 294.3,1220.3 293.9,1223.7 293.6,1227.1 293.3,1230.6 293.1,1234.0 292.8,1237.3 292.7,1240.6 292.6,1243.9 292.5,1247.3 292.4,1250.6 292.3,1253.9 292.2,1257.2 292.1,1260.5 292.1,1263.8 292.0,1267.1 292.0,1270.5 291.9,1273.8 291.7,1277.1 291.6,1280.5 291.4,1283.8 291.2,1287.2 290.9,1290.5 290.7,1293.7 290.4,1296.9 290.0,1300.3 289.7,1303.6 289.3,1306.7 288.9,1309.4 288.5,1311.6 288.1,1313.1 287.8,1314.1 287.4,1314.7 287.2,1315.0 286.9,1315.3 286.7,1315.5 283.5,1315.5 283.3,1315.3 283.0,1315.0 282.8,1314.7 282.4,1314.1 282.1,1313.1 281.7,1311.6 281.3,1309.4 280.9,1306.7 280.5,1303.6 280.2,1300.3 279.8,1296.9 279.5,1293.7 279.3,1290.5 279.0,1287.2 278.8,1283.8 278.6,1280.5 278.5,1277.1 278.3,1273.8 278.2,1270.5 278.2,1267.1 278.1,1263.8 278.1,1260.5 278.0,1257.2 277.9,1253.9 277.8,1250.6 277.7,1247.3 277.6,1243.9 277.5,1240.6 277.4,1237.3 277.1,1234.0 276.9,1230.6 276.6,1227.1 276.3,1223.7 275.9,1220.3 275.6,1217.1 275.2,1214.1 274.8,1211.4 274.3,1208.8 273.9,1206.4 273.4,1204.2 272.9,1202.1 272.2,1200.2 271.4,1198.5 270.5,1197.2 269.5,1196.0 268.5,1194.8 267.3,1193.6 266.2,1192.2 265.0,1190.7 263.7,1189.1 262.3,1187.4 260.9,1185.7 259.5,1184.0 258.3,1182.3 257.0,1180.6 255.7,1179.0 254.4,1177.3 253.2,1175.7 252.2,1174.0 251.3,1172.3 250.6,1170.8 250.1,1169.5 249.7,1168.2 249.5,1166.7 249.3,1164.9 249.3,1162.4 249.4,1159.2 249.6,1155.5 249.9,1151.3 250.3,1147.0 250.7,1142.7 251.3,1138.5 251.9,1134.5 252.6,1130.4 253.4,1126.4 254.3,1122.3 255.2,1118.4 256.3,1114.7 257.4,1111.1 258.8,1107.6 260.2,1104.2 261.6,1101.0 263.0,1097.8 264.2,1094.8 265.3,1091.8 266.3,1088.9 267.3,1086.1 268.2,1083.5 269.2,1081.1 270.2,1078.9 271.3,1076.9 272.6,1075.0 273.8,1073.4 275.0,1072.0 276.0,1070.8 276.7,1069.9" fill="#F2756C" stroke="#2b2b2b" stroke-width="2" stroke-linejoin="round"/>
<polygon points="371.2,1079.9 372.0,1081.4 373.1,1083.5 374.5,1086.1 376.0,1088.9 377.6,1091.8 379.3,1094.8 381.1,1097.8 383.2,1101.0 385.3,1104.4 387.4,1107.9 389.4,1111.3 391.2,1114.7 392.9,1118.0 394.6,1121.5 396.1,1125.0 397.4,1128.4 398.5,1131.6 399.2,1134.6 399.5,1137.2 399.4,1139.7 399.1,1142.0 398.5,1144.2 397.9,1146.3 397.2,1148.5 396.5,1150.6 395.6,1152.5 394.6,1154.4 393.5,1156.4 392.4,1158.3 391.2,1160.4 390.0,1162.5 388.7,1164.7 387.4,1166.9 386.0,1169.2 384.6,1171.6 383.3,1174.3 381.9,1177.3 380.4,1180.5 379.0,1183.9 377.6,1187.4 376.4,1190.8 375.3,1194.2 374.5,1197.5 374.0,1200.8 373.5,1204.2 373.2,1207.5 372.8,1210.8 372.3,1214.1 371.8,1217.4 371.3,1220.7 370.8,1224.1 370.3,1227.4 369.8,1230.7 369.4,1234.0 369.0,1237.3 368.6,1240.6 368.2,1243.9 367.9,1247.3 367.6,1250.6 367.4,1253.9 367.2,1257.2 367.1,1260.5 367.1,1263.8 367.1,1267.1 367.0,1270.5 367.0,1273.8 366.9,1277.1 366.8,1280.4 366.7,1283.7 366.6,1287.0 366.4,1290.3 366.2,1293.7 365.9,1297.0 365.6,1300.5 365.2,1303.9 364.8,1307.2 364.4,1310.5 364.2,1313.6 363.9,1316.6 363.7,1319.6 363.6,1322.6 363.5,1325.2 363.4,1327.4 363.3,1329.1 362.3,1329.1 362.2,1327.4 362.1,1325.2 362.0,1322.6 361.9,1319.6 361.7,1316.6 361.4,1313.6 361.2,1310.5 360.8,1307.2 360.4,1303.9 360.0,1300.5 359.7,1297.0 359.4,1293.7 359.2,1290.3 359.0,1287.0 358.9,1283.7 358.8,1280.4 358.7,1277.1 358.6,1273.8 358.6,1270.5 358.5,1267.1 358.5,1263.8 358.5,1260.5 358.4,1257.2 358.2,1253.9 358.0,1250.6 357.7,1247.3 357.4,1243.9 357.0,1240.6 356.6,1237.3 356.2,1234.0 355.8,1230.7 355.3,1227.4 354.8,1224.1 354.3,1220.7 353.8,1217.4 353.3,1214.1 352.8,1210.8 352.4,1207.5 352.1,1204.2 351.6,1200.8 351.1,1197.5 350.3,1194.2 349.2,1190.8 348.0,1187.4 346.6,1183.9 345.2,1180.5 343.7,1177.3 342.3,1174.3 341.0,1171.6 339.6,1169.2 338.2,1166.9 336.9,1164.7 335.6,1162.5 334.4,1160.4 333.2,1158.3 332.1,1156.4 331.0,1154.4 330.0,1152.5 329.1,1150.6 328.4,1148.5 327.7,1146.3 327.1,1144.2 326.5,1142.0 326.2,1139.7 326.1,1137.2 326.4,1134.6 327.1,1131.6 328.2,1128.4 329.5,1125.0 331.0,1121.5 332.7,1118.0 334.4,1114.7 336.2,1111.3 338.2,1107.9 340.3,1104.4 342.4,1101.0 344.5,1097.8 346.3,1094.8 348.0,1091.8 349.6,1088.9 351.1,1086.1 352.5,1083.5 353.6,1081.4 354.4,1079.9" fill="#A3A336" stroke="#2b2b2b" stroke-width="2" stroke-linejoin="round"/>
<polygon points="446.9,1078.5 447.3,1080.0 447.8,1082.1 448.4,1084.6 449.2,1087.4 450.0,1090.1 450.8,1092.8 451.8,1095.3 452.8,1097.9 454.0,1100.5 455.2,1103.2 456.4,1105.9 457.8,1108.7 459.3,1111.6 461.0,1114.5 462.7,1117.5 464.5,1120.6 466.2,1123.6 467.8,1126.6 469.3,1129.7 470.9,1132.8 472.4,1135.9 473.8,1139.0 474.9,1141.9 475.7,1144.5 476.1,1146.8 476.3,1148.9 476.1,1150.8 475.8,1152.7 475.3,1154.5 474.7,1156.4 473.9,1158.4 472.9,1160.4 471.8,1162.4 470.5,1164.4 469.2,1166.4 467.8,1168.4 466.3,1170.4 464.7,1172.4 463.0,1174.5 461.2,1176.5 459.5,1178.4 457.8,1180.3 456.1,1182.1 454.3,1183.8 452.5,1185.5 450.7,1187.1 449.2,1188.7 447.9,1190.2 446.8,1191.6 446.0,1192.7 445.3,1193.8 444.5,1195.0 443.8,1196.4 443.2,1198.2 442.8,1200.3 442.7,1202.8 442.6,1205.4 442.7,1208.2 442.7,1211.1 442.7,1214.1 442.5,1217.3 442.4,1220.7 442.2,1224.2 442.1,1227.7 441.9,1231.0 441.8,1234.0 441.8,1236.6 441.8,1239.0 441.8,1241.2 441.8,1243.4 441.8,1245.6 441.8,1247.9 441.8,1250.4 441.8,1252.8 441.8,1255.3 441.8,1257.9 441.8,1260.7 441.8,1263.8 441.8,1267.6 441.8,1272.1 441.8,1276.8 441.8,1281.2 441.8,1285.0 441.8,1287.7 440.8,1287.7 440.8,1285.0 440.8,1281.2 440.8,1276.8 440.8,1272.1 440.8,1267.6 440.8,1263.8 440.8,1260.7 440.8,1257.9 440.8,1255.3 440.8,1252.8 440.8,1250.4 440.8,1247.9 440.8,1245.6 440.8,1243.4 440.8,1241.2 440.8,1239.0 440.8,1236.6 440.8,1234.0 440.7,1231.0 440.5,1227.7 440.4,1224.2 440.2,1220.7 440.1,1217.3 439.9,1214.1 439.9,1211.1 439.9,1208.2 440.0,1205.4 439.9,1202.8 439.8,1200.3 439.4,1198.2 438.8,1196.4 438.1,1195.0 437.3,1193.8 436.6,1192.7 435.8,1191.6 434.7,1190.2 433.4,1188.7 431.9,1187.1 430.1,1185.5 428.3,1183.8 426.5,1182.1 424.8,1180.3 423.1,1178.4 421.4,1176.5 419.6,1174.5 417.9,1172.4 416.3,1170.4 414.8,1168.4 413.4,1166.4 412.1,1164.4 410.8,1162.4 409.7,1160.4 408.7,1158.4 407.9,1156.4 407.3,1154.5 406.8,1152.7 406.5,1150.8 406.3,1148.9 406.5,1146.8 406.9,1144.5 407.7,1141.9 408.8,1139.0 410.2,1135.9 411.7,1132.8 413.3,1129.7 414.8,1126.6 416.4,1123.6 418.1,1120.6 419.9,1117.5 421.6,1114.5 423.3,1111.6 424.8,1108.7 426.2,1105.9 427.4,1103.2 428.6,1100.5 429.8,1097.9 430.8,1095.3 431.8,1092.8 432.6,1090.1 433.4,1087.4 434.2,1084.6 434.8,1082.1 435.3,1080.0 435.7,1078.5" fill="#25B779" stroke="#2b2b2b" stroke-width="2" stroke-linejoin="round"/>
<polygon points="521.8,1071.9 522.0,1073.3 522.1,1075.1 522.3,1077.4 522.6,1079.8 523.0,1082.4 523.5,1084.8 523.9,1087.4 524.2,1090.2 524.7,1093.1 525.3,1095.9 526.2,1098.5 527.5,1100.7 529.2,1102.5 531.5,1103.9 534.0,1105.1 536.6,1106.2 539.1,1107.4 541.4,1108.7 543.5,1110.2 545.5,1111.9 547.5,1113.5 549.4,1115.3 551.0,1117.0 552.3,1118.6 553.4,1120.3 554.2,1122.0 554.7,1123.6 555.1,1125.3 555.3,1126.9 555.3,1128.6 555.1,1130.3 554.6,1132.0 554.0,1133.7 553.2,1135.4 552.3,1137.0 551.3,1138.5 550.2,1140.0 549.0,1141.3 547.6,1142.6 546.2,1143.9 544.7,1145.2 543.4,1146.5 542.0,1147.8 540.6,1149.0 539.3,1150.2 537.9,1151.5 536.6,1152.9 535.4,1154.4 534.3,1156.2 533.3,1158.1 532.3,1160.2 531.4,1162.3 530.4,1164.3 529.4,1166.4 528.4,1168.4 527.3,1170.4 526.2,1172.3 525.2,1174.3 524.2,1176.3 523.5,1178.3 522.7,1180.2 522.1,1181.8 521.6,1183.5 521.2,1185.4 520.9,1187.6 520.7,1190.2 520.4,1193.6 520.2,1197.5 520.1,1201.7 520.1,1206.0 520.1,1210.2 520.1,1214.1 520.1,1217.8 520.2,1221.4 520.3,1224.9 520.5,1228.3 520.6,1231.3 520.7,1234.0 520.7,1236.3 520.6,1238.4 520.5,1240.2 520.5,1241.7 520.4,1243.0 520.4,1243.9 518.2,1243.9 518.2,1243.0 518.1,1241.7 518.1,1240.2 518.0,1238.4 517.9,1236.3 517.9,1234.0 518.0,1231.3 518.1,1228.3 518.3,1224.9 518.4,1221.4 518.5,1217.8 518.5,1214.1 518.5,1210.2 518.5,1206.0 518.5,1201.7 518.4,1197.5 518.2,1193.6 517.9,1190.2 517.7,1187.6 517.4,1185.4 517.0,1183.5 516.5,1181.8 515.9,1180.2 515.1,1178.3 514.4,1176.3 513.4,1174.3 512.4,1172.3 511.3,1170.4 510.2,1168.4 509.2,1166.4 508.2,1164.3 507.2,1162.3 506.3,1160.2 505.3,1158.1 504.3,1156.2 503.2,1154.4 502.0,1152.9 500.7,1151.5 499.3,1150.2 498.0,1149.0 496.6,1147.8 495.2,1146.5 493.9,1145.2 492.4,1143.9 491.0,1142.6 489.6,1141.3 488.4,1140.0 487.3,1138.5 486.3,1137.0 485.4,1135.4 484.6,1133.7 484.0,1132.0 483.5,1130.3 483.3,1128.6 483.3,1126.9 483.5,1125.3 483.9,1123.6 484.4,1122.0 485.2,1120.3 486.3,1118.6 487.6,1117.0 489.2,1115.3 491.1,1113.5 493.1,1111.9 495.1,1110.2 497.2,1108.7 499.5,1107.4 502.0,1106.2 504.6,1105.1 507.1,1103.9 509.4,1102.5 511.1,1100.7 512.4,1098.5 513.3,1095.9 513.9,1093.1 514.4,1090.2 514.7,1087.4 515.1,1084.8 515.6,1082.4 516.0,1079.8 516.3,1077.4 516.5,1075.1 516.6,1073.3 516.8,1071.9" fill="#30A9E1" stroke="#2b2b2b" stroke-width="2" stroke-linejoin="round"/>
<polygon points="608.9,1069.3 610.0,1071.0 611.6,1073.2 613.4,1075.8 615.3,1078.8 617.2,1081.8 618.9,1084.8 620.4,1087.9 621.8,1091.1 623.2,1094.5 624.5,1097.9 625.7,1101.4 626.8,1104.7 627.9,1108.0 628.8,1111.4 629.7,1114.7 630.5,1118.0 631.2,1121.3 631.8,1124.6 632.3,1128.0 632.7,1131.4 633.0,1134.8 633.1,1138.2 633.2,1141.4 633.2,1144.5 633.1,1147.4 632.9,1150.2 632.6,1152.8 632.2,1155.4 631.6,1157.9 630.8,1160.4 629.8,1162.8 628.6,1165.1 627.3,1167.4 625.9,1169.6 624.4,1171.9 622.9,1174.3 621.3,1176.9 619.6,1179.6 617.8,1182.3 616.1,1185.0 614.4,1187.7 612.9,1190.2 611.5,1192.7 610.3,1195.0 609.1,1197.2 607.9,1199.5 606.9,1201.8 606.0,1204.2 605.1,1206.7 604.3,1209.4 603.6,1212.1 602.9,1214.8 602.4,1217.5 602.0,1220.1 601.7,1222.4 601.5,1224.6 601.5,1226.8 601.4,1229.0 601.4,1231.4 601.4,1234.0 601.2,1237.0 601.1,1240.2 601.0,1243.6 600.9,1247.0 600.8,1250.5 600.8,1253.9 600.8,1257.1 600.9,1260.3 601.0,1263.4 601.1,1266.6 601.2,1270.1 601.4,1273.8 601.5,1278.2 601.6,1283.2 601.7,1288.4 601.8,1293.4 601.9,1297.6 602.0,1300.6 592.8,1300.6 592.9,1297.6 593.0,1293.4 593.1,1288.4 593.2,1283.2 593.3,1278.2 593.4,1273.8 593.6,1270.1 593.7,1266.6 593.8,1263.4 593.9,1260.3 594.0,1257.1 594.0,1253.9 594.0,1250.5 593.9,1247.0 593.8,1243.6 593.7,1240.2 593.6,1237.0 593.4,1234.0 593.4,1231.4 593.4,1229.0 593.3,1226.8 593.3,1224.6 593.1,1222.4 592.8,1220.1 592.4,1217.5 591.9,1214.8 591.2,1212.1 590.5,1209.4 589.7,1206.7 588.8,1204.2 587.9,1201.8 586.9,1199.5 585.7,1197.2 584.5,1195.0 583.3,1192.7 581.9,1190.2 580.4,1187.7 578.7,1185.0 577.0,1182.3 575.2,1179.6 573.5,1176.9 571.9,1174.3 570.4,1171.9 568.9,1169.6 567.5,1167.4 566.2,1165.1 565.0,1162.8 564.0,1160.4 563.2,1157.9 562.6,1155.4 562.2,1152.8 561.9,1150.2 561.7,1147.4 561.6,1144.5 561.6,1141.4 561.7,1138.2 561.8,1134.8 562.1,1131.4 562.5,1128.0 563.0,1124.6 563.6,1121.3 564.3,1118.0 565.1,1114.7 566.0,1111.4 566.9,1108.0 568.0,1104.7 569.1,1101.4 570.3,1097.9 571.6,1094.5 573.0,1091.1 574.4,1087.9 575.9,1084.8 577.6,1081.8 579.5,1078.8 581.4,1075.8 583.2,1073.2 584.8,1071.0 585.9,1069.3" fill="#BF70BF" stroke="#2b2b2b" stroke-width="2" stroke-linejoin="round"/>
<g fill="#000"><circle cx="289.0" cy="1147.6" r="4.0"/><circle cx="282.8" cy="1258.2" r="4.0"/><circle cx="290.9" cy="1154.4" r="4.0"/><circle cx="285.9" cy="1111.4" r="4.0"/><circle cx="304.4" cy="1169.2" r="4.0"/><circle cx="272.1" cy="1095.4" r="4.0"/><circle cx="305.5" cy="1094.7" r="4.0"/><circle cx="254.9" cy="1177.6" r="4.0"/><circle cx="315.8" cy="1297.1" r="4.0"/><circle cx="292.7" cy="1172.3" r="4.0"/><circle cx="253.1" cy="1107.1" r="4.0"/><circle cx="256.0" cy="1156.9" r="4.0"/><circle cx="268.1" cy="1112.3" r="4.0"/><circle cx="282.7" cy="1080.4" r="4.0"/><circle cx="307.7" cy="1146.1" r="4.0"/><circle cx="294.4" cy="1155.8" r="4.0"/><circle cx="295.8" cy="1153.4" r="4.0"/><circle cx="270.5" cy="1148.2" r="4.0"/><circle cx="317.8" cy="1312.2" r="4.0"/><circle cx="298.8" cy="1213.3" r="4.0"/><circle cx="267.3" cy="1130.1" r="4.0"/><circle cx="256.7" cy="1126.5" r="4.0"/><circle cx="278.5" cy="1189.8" r="4.0"/><circle cx="277.6" cy="1216.1" r="4.0"/><circle cx="308.0" cy="1279.5" r="4.0"/><circle cx="265.9" cy="1070.2" r="4.0"/><circle cx="283.1" cy="1249.8" r="4.0"/><circle cx="278.3" cy="1295.6" r="4.0"/><circle cx="293.6" cy="1091.0" r="4.0"/><circle cx="269.9" cy="1192.5" r="4.0"/><circle cx="274.1" cy="1094.0" r="4.0"/><circle cx="302.1" cy="1283.6" r="4.0"/><circle cx="268.4" cy="1100.1" r="4.0"/><circle cx="256.1" cy="1096.8" r="4.0"/><circle cx="263.8" cy="1197.3" r="4.0"/><circle cx="281.6" cy="1160.7" r="4.0"/><circle cx="300.4" cy="1112.3" r="4.0"/><circle cx="294.6" cy="1102.5" r="4.0"/><circle cx="279.9" cy="1099.8" r="4.0"/><circle cx="269.9" cy="1115.7" r="4.0"/><circle cx="305.1" cy="1288.5" r="4.0"/><circle cx="310.5" cy="1128.5" r="4.0"/><circle cx="278.1" cy="1115.4" r="4.0"/><circle cx="294.5" cy="1219.7" r="4.0"/><circle cx="317.4" cy="1096.7" r="4.0"/><circle cx="269.1" cy="1115.8" r="4.0"/><circle cx="273.8" cy="1191.2" r="4.0"/><circle cx="256.9" cy="1127.5" r="4.0"/><circle cx="290.6" cy="1094.6" r="4.0"/><circle cx="291.8" cy="1120.1" r="4.0"/><circle cx="282.0" cy="1137.4" r="4.0"/><circle cx="284.0" cy="1280.3" r="4.0"/><circle cx="309.3" cy="1162.5" r="4.0"/><circle cx="262.3" cy="1111.1" r="4.0"/><circle cx="306.1" cy="1248.7" r="4.0"/><circle cx="264.6" cy="1121.0" r="4.0"/><circle cx="314.2" cy="1184.7" r="4.0"/><circle cx="314.8" cy="1113.2" r="4.0"/><circle cx="291.9" cy="1233.7" r="4.0"/><circle cx="259.0" cy="1143.8" r="4.0"/><circle cx="315.6" cy="1082.7" r="4.0"/><circle cx="298.6" cy="1119.4" r="4.0"/><circle cx="306.5" cy="1122.1" r="4.0"/><circle cx="271.5" cy="1165.2" r="4.0"/><circle cx="299.6" cy="1110.0" r="4.0"/><circle cx="267.2" cy="1090.0" r="4.0"/><circle cx="308.4" cy="1160.7" r="4.0"/><circle cx="270.6" cy="1167.3" r="4.0"/><circle cx="265.6" cy="1254.0" r="4.0"/><circle cx="269.9" cy="1076.4" r="4.0"/><circle cx="256.1" cy="1146.8" r="4.0"/><circle cx="276.4" cy="1110.1" r="4.0"/><circle cx="260.8" cy="1162.2" r="4.0"/><circle cx="310.9" cy="1136.2" r="4.0"/><circle cx="295.5" cy="1295.7" r="4.0"/><circle cx="290.7" cy="1177.2" r="4.0"/><circle cx="254.4" cy="1104.2" r="4.0"/><circle cx="312.2" cy="1076.8" r="4.0"/><circle cx="315.6" cy="1178.6" r="4.0"/><circle cx="294.1" cy="1077.9" r="4.0"/><circle cx="300.3" cy="1151.3" r="4.0"/><circle cx="318.1" cy="1130.5" r="4.0"/><circle cx="288.1" cy="1091.5" r="4.0"/><circle cx="311.5" cy="1184.3" r="4.0"/><circle cx="298.5" cy="1184.3" r="4.0"/><circle cx="312.5" cy="1196.2" r="4.0"/><circle cx="297.3" cy="1134.9" r="4.0"/><circle cx="309.6" cy="1244.2" r="4.0"/><circle cx="304.3" cy="1143.2" r="4.0"/><circle cx="289.9" cy="1224.0" r="4.0"/><circle cx="277.3" cy="1168.6" r="4.0"/><circle cx="292.3" cy="1163.5" r="4.0"/><circle cx="294.3" cy="1092.5" r="4.0"/><circle cx="310.2" cy="1307.3" r="4.0"/><circle cx="277.7" cy="1182.8" r="4.0"/><circle cx="290.4" cy="1184.0" r="4.0"/><circle cx="307.4" cy="1146.1" r="4.0"/><circle cx="301.6" cy="1093.3" r="4.0"/><circle cx="291.8" cy="1080.3" r="4.0"/><circle cx="267.3" cy="1151.1" r="4.0"/><circle cx="284.9" cy="1178.3" r="4.0"/><circle cx="312.9" cy="1167.4" r="4.0"/><circle cx="252.8" cy="1121.9" r="4.0"/><circle cx="296.9" cy="1128.1" r="4.0"/><circle cx="263.3" cy="1114.2" r="4.0"/><circle cx="295.7" cy="1247.1" r="4.0"/><circle cx="311.0" cy="1146.3" r="4.0"/><circle cx="296.0" cy="1131.6" r="4.0"/><circle cx="280.5" cy="1113.5" r="4.0"/><circle cx="312.4" cy="1200.1" r="4.0"/><circle cx="277.5" cy="1232.7" r="4.0"/><circle cx="273.0" cy="1163.6" r="4.0"/><circle cx="284.9" cy="1103.4" r="4.0"/><circle cx="308.1" cy="1212.0" r="4.0"/><circle cx="314.8" cy="1180.2" r="4.0"/><circle cx="263.3" cy="1124.8" r="4.0"/><circle cx="270.3" cy="1147.4" r="4.0"/><circle cx="279.4" cy="1115.9" r="4.0"/><circle cx="284.7" cy="1168.7" r="4.0"/><circle cx="307.5" cy="1130.1" r="4.0"/><circle cx="282.0" cy="1297.0" r="4.0"/><circle cx="254.2" cy="1091.3" r="4.0"/><circle cx="254.8" cy="1228.8" r="4.0"/><circle cx="289.8" cy="1179.8" r="4.0"/><circle cx="304.3" cy="1129.2" r="4.0"/><circle cx="261.1" cy="1077.2" r="4.0"/><circle cx="253.7" cy="1147.9" r="4.0"/><circle cx="267.8" cy="1208.9" r="4.0"/><circle cx="255.2" cy="1104.2" r="4.0"/><circle cx="281.6" cy="1169.2" r="4.0"/><circle cx="295.3" cy="1169.3" r="4.0"/><circle cx="315.4" cy="1200.6" r="4.0"/><circle cx="265.3" cy="1176.3" r="4.0"/><circle cx="263.9" cy="1150.4" r="4.0"/><circle cx="283.3" cy="1074.4" r="4.0"/><circle cx="263.9" cy="1180.6" r="4.0"/><circle cx="274.9" cy="1124.2" r="4.0"/><circle cx="286.4" cy="1178.1" r="4.0"/><circle cx="302.0" cy="1167.4" r="4.0"/><circle cx="304.4" cy="1140.2" r="4.0"/><circle cx="257.9" cy="1247.4" r="4.0"/><circle cx="299.8" cy="1263.4" r="4.0"/><circle cx="282.0" cy="1102.3" r="4.0"/><circle cx="312.2" cy="1168.7" r="4.0"/><circle cx="289.6" cy="1138.1" r="4.0"/><circle cx="304.7" cy="1232.2" r="4.0"/><circle cx="282.7" cy="1270.6" r="4.0"/><circle cx="265.6" cy="1171.9" r="4.0"/><circle cx="306.1" cy="1181.8" r="4.0"/><circle cx="299.5" cy="1170.7" r="4.0"/><circle cx="311.5" cy="1115.8" r="4.0"/><circle cx="316.6" cy="1295.7" r="4.0"/><circle cx="304.3" cy="1158.0" r="4.0"/><circle cx="312.2" cy="1130.7" r="4.0"/><circle cx="275.1" cy="1220.3" r="4.0"/><circle cx="281.2" cy="1093.1" r="4.0"/><circle cx="302.8" cy="1159.6" r="4.0"/><circle cx="254.0" cy="1151.9" r="4.0"/><circle cx="256.3" cy="1201.2" r="4.0"/><circle cx="263.5" cy="1198.2" r="4.0"/><circle cx="304.1" cy="1132.7" r="4.0"/><circle cx="261.9" cy="1104.2" r="4.0"/><circle cx="299.9" cy="1155.5" r="4.0"/><circle cx="297.6" cy="1213.2" r="4.0"/><circle cx="284.6" cy="1271.6" r="4.0"/><circle cx="257.8" cy="1273.7" r="4.0"/><circle cx="286.9" cy="1117.0" r="4.0"/><circle cx="300.2" cy="1126.7" r="4.0"/><circle cx="286.6" cy="1170.4" r="4.0"/><circle cx="289.1" cy="1214.8" r="4.0"/><circle cx="277.3" cy="1129.6" r="4.0"/><circle cx="311.5" cy="1215.5" r="4.0"/><circle cx="308.3" cy="1115.0" r="4.0"/><circle cx="286.7" cy="1286.7" r="4.0"/><circle cx="265.4" cy="1162.3" r="4.0"/><circle cx="285.3" cy="1157.8" r="4.0"/><circle cx="253.9" cy="1166.2" r="4.0"/><circle cx="286.2" cy="1287.4" r="4.0"/><circle cx="305.0" cy="1141.1" r="4.0"/><circle cx="284.5" cy="1161.1" r="4.0"/><circle cx="256.4" cy="1177.2" r="4.0"/><circle cx="279.4" cy="1158.2" r="4.0"/><circle cx="313.0" cy="1278.8" r="4.0"/><circle cx="283.3" cy="1123.8" r="4.0"/><circle cx="280.7" cy="1101.8" r="4.0"/><circle cx="311.5" cy="1203.6" r="4.0"/><circle cx="273.0" cy="1150.6" r="4.0"/><circle cx="292.9" cy="1112.5" r="4.0"/><circle cx="260.6" cy="1258.8" r="4.0"/><circle cx="253.6" cy="1192.7" r="4.0"/><circle cx="267.1" cy="1112.9" r="4.0"/><circle cx="273.4" cy="1176.7" r="4.0"/><circle cx="293.0" cy="1135.3" r="4.0"/><circle cx="300.3" cy="1097.6" r="4.0"/><circle cx="285.8" cy="1101.0" r="4.0"/><circle cx="265.2" cy="1121.2" r="4.0"/><circle cx="280.9" cy="1157.2" r="4.0"/><circle cx="279.4" cy="1138.0" r="4.0"/><circle cx="262.6" cy="1157.0" r="4.0"/><circle cx="293.8" cy="1114.4" r="4.0"/><circle cx="364.8" cy="1164.3" r="4.0"/><circle cx="370.2" cy="1212.9" r="4.0"/><circle cx="345.2" cy="1215.0" r="4.0"/><circle cx="383.3" cy="1181.4" r="4.0"/><circle cx="350.6" cy="1235.9" r="4.0"/><circle cx="390.7" cy="1129.9" r="4.0"/><circle cx="395.7" cy="1119.5" r="4.0"/><circle cx="338.6" cy="1228.0" r="4.0"/><circle cx="377.8" cy="1121.9" r="4.0"/><circle cx="336.2" cy="1124.1" r="4.0"/><circle cx="357.6" cy="1206.2" r="4.0"/><circle cx="338.1" cy="1193.1" r="4.0"/><circle cx="375.0" cy="1138.6" r="4.0"/><circle cx="343.1" cy="1086.2" r="4.0"/><circle cx="390.0" cy="1170.8" r="4.0"/><circle cx="337.4" cy="1286.6" r="4.0"/><circle cx="379.8" cy="1148.8" r="4.0"/><circle cx="375.1" cy="1148.5" r="4.0"/><circle cx="334.5" cy="1116.0" r="4.0"/><circle cx="332.3" cy="1104.7" r="4.0"/><circle cx="363.8" cy="1153.7" r="4.0"/><circle cx="339.5" cy="1155.7" r="4.0"/><circle cx="343.3" cy="1115.5" r="4.0"/><circle cx="395.2" cy="1209.0" r="4.0"/><circle cx="336.1" cy="1251.7" r="4.0"/><circle cx="392.6" cy="1096.8" r="4.0"/><circle cx="380.3" cy="1144.4" r="4.0"/><circle cx="360.6" cy="1131.1" r="4.0"/><circle cx="358.2" cy="1149.8" r="4.0"/><circle cx="330.7" cy="1159.5" r="4.0"/><circle cx="385.5" cy="1173.9" r="4.0"/><circle cx="359.8" cy="1115.1" r="4.0"/><circle cx="356.5" cy="1181.1" r="4.0"/><circle cx="340.7" cy="1116.7" r="4.0"/><circle cx="330.8" cy="1149.5" r="4.0"/><circle cx="382.7" cy="1230.8" r="4.0"/><circle cx="386.6" cy="1174.5" r="4.0"/><circle cx="356.5" cy="1163.1" r="4.0"/><circle cx="363.1" cy="1159.3" r="4.0"/><circle cx="382.9" cy="1301.1" r="4.0"/><circle cx="389.9" cy="1124.0" r="4.0"/><circle cx="381.1" cy="1182.2" r="4.0"/><circle cx="356.6" cy="1200.4" r="4.0"/><circle cx="387.9" cy="1232.6" r="4.0"/><circle cx="380.4" cy="1172.9" r="4.0"/><circle cx="356.6" cy="1186.8" r="4.0"/><circle cx="334.5" cy="1177.8" r="4.0"/><circle cx="360.7" cy="1132.6" r="4.0"/><circle cx="353.3" cy="1083.8" r="4.0"/><circle cx="371.0" cy="1164.4" r="4.0"/><circle cx="392.1" cy="1121.1" r="4.0"/><circle cx="352.1" cy="1168.3" r="4.0"/><circle cx="367.4" cy="1167.4" r="4.0"/><circle cx="355.5" cy="1151.7" r="4.0"/><circle cx="372.2" cy="1328.8" r="4.0"/><circle cx="380.1" cy="1173.9" r="4.0"/><circle cx="331.3" cy="1298.2" r="4.0"/><circle cx="378.6" cy="1161.3" r="4.0"/><circle cx="356.3" cy="1123.8" r="4.0"/><circle cx="342.7" cy="1094.5" r="4.0"/><circle cx="336.3" cy="1135.9" r="4.0"/><circle cx="389.6" cy="1123.2" r="4.0"/><circle cx="363.3" cy="1153.6" r="4.0"/><circle cx="367.3" cy="1285.5" r="4.0"/><circle cx="371.9" cy="1319.1" r="4.0"/><circle cx="334.8" cy="1198.8" r="4.0"/><circle cx="379.9" cy="1159.1" r="4.0"/><circle cx="391.2" cy="1093.2" r="4.0"/><circle cx="360.9" cy="1112.3" r="4.0"/><circle cx="362.5" cy="1113.5" r="4.0"/><circle cx="333.7" cy="1160.8" r="4.0"/><circle cx="357.6" cy="1266.6" r="4.0"/><circle cx="369.3" cy="1151.0" r="4.0"/><circle cx="348.7" cy="1134.9" r="4.0"/><circle cx="366.8" cy="1166.7" r="4.0"/><circle cx="377.1" cy="1126.7" r="4.0"/><circle cx="330.7" cy="1128.0" r="4.0"/><circle cx="332.6" cy="1122.5" r="4.0"/><circle cx="379.6" cy="1111.9" r="4.0"/><circle cx="389.0" cy="1137.3" r="4.0"/><circle cx="333.1" cy="1183.0" r="4.0"/><circle cx="392.1" cy="1308.8" r="4.0"/><circle cx="389.6" cy="1099.1" r="4.0"/><circle cx="361.3" cy="1141.2" r="4.0"/><circle cx="345.9" cy="1291.2" r="4.0"/><circle cx="391.7" cy="1150.7" r="4.0"/><circle cx="360.7" cy="1177.8" r="4.0"/><circle cx="383.7" cy="1296.8" r="4.0"/><circle cx="337.4" cy="1159.8" r="4.0"/><circle cx="359.9" cy="1162.4" r="4.0"/><circle cx="333.2" cy="1117.8" r="4.0"/><circle cx="338.0" cy="1151.2" r="4.0"/><circle cx="373.9" cy="1142.5" r="4.0"/><circle cx="347.1" cy="1143.7" r="4.0"/><circle cx="357.5" cy="1157.2" r="4.0"/><circle cx="364.8" cy="1189.9" r="4.0"/><circle cx="392.7" cy="1324.0" r="4.0"/><circle cx="345.5" cy="1180.1" r="4.0"/><circle cx="388.7" cy="1105.8" r="4.0"/><circle cx="371.0" cy="1191.6" r="4.0"/><circle cx="347.7" cy="1134.3" r="4.0"/><circle cx="367.1" cy="1171.2" r="4.0"/><circle cx="371.6" cy="1158.4" r="4.0"/><circle cx="342.3" cy="1184.0" r="4.0"/><circle cx="394.5" cy="1122.9" r="4.0"/><circle cx="387.8" cy="1243.8" r="4.0"/><circle cx="333.8" cy="1092.0" r="4.0"/><circle cx="357.9" cy="1125.3" r="4.0"/><circle cx="336.6" cy="1162.3" r="4.0"/><circle cx="334.6" cy="1152.6" r="4.0"/><circle cx="374.4" cy="1101.4" r="4.0"/><circle cx="371.5" cy="1153.6" r="4.0"/><circle cx="361.4" cy="1135.7" r="4.0"/><circle cx="352.5" cy="1118.6" r="4.0"/><circle cx="385.1" cy="1182.2" r="4.0"/><circle cx="337.7" cy="1099.2" r="4.0"/><circle cx="371.0" cy="1198.7" r="4.0"/><circle cx="343.9" cy="1187.6" r="4.0"/><circle cx="346.8" cy="1140.7" r="4.0"/><circle cx="354.2" cy="1199.0" r="4.0"/><circle cx="395.1" cy="1166.5" r="4.0"/><circle cx="366.0" cy="1131.0" r="4.0"/><circle cx="390.6" cy="1182.5" r="4.0"/><circle cx="354.2" cy="1141.0" r="4.0"/><circle cx="387.6" cy="1103.2" r="4.0"/><circle cx="335.3" cy="1100.0" r="4.0"/><circle cx="361.8" cy="1155.2" r="4.0"/><circle cx="349.5" cy="1171.3" r="4.0"/><circle cx="334.8" cy="1189.3" r="4.0"/><circle cx="373.5" cy="1118.9" r="4.0"/><circle cx="349.9" cy="1100.6" r="4.0"/><circle cx="375.6" cy="1178.3" r="4.0"/><circle cx="339.2" cy="1126.6" r="4.0"/><circle cx="377.7" cy="1134.2" r="4.0"/><circle cx="337.5" cy="1135.0" r="4.0"/><circle cx="367.4" cy="1175.4" r="4.0"/><circle cx="391.8" cy="1245.7" r="4.0"/><circle cx="358.7" cy="1242.3" r="4.0"/><circle cx="349.9" cy="1196.9" r="4.0"/><circle cx="356.2" cy="1130.2" r="4.0"/><circle cx="388.9" cy="1257.8" r="4.0"/><circle cx="353.7" cy="1122.9" r="4.0"/><circle cx="353.8" cy="1134.9" r="4.0"/><circle cx="355.4" cy="1137.9" r="4.0"/><circle cx="367.0" cy="1116.7" r="4.0"/><circle cx="365.5" cy="1195.1" r="4.0"/><circle cx="366.9" cy="1207.6" r="4.0"/><circle cx="379.9" cy="1114.5" r="4.0"/><circle cx="348.4" cy="1224.9" r="4.0"/><circle cx="363.8" cy="1087.4" r="4.0"/><circle cx="367.3" cy="1152.9" r="4.0"/><circle cx="372.8" cy="1284.9" r="4.0"/><circle cx="334.0" cy="1197.2" r="4.0"/><circle cx="381.8" cy="1153.2" r="4.0"/><circle cx="335.2" cy="1101.0" r="4.0"/><circle cx="389.1" cy="1180.6" r="4.0"/><circle cx="371.7" cy="1101.1" r="4.0"/><circle cx="379.0" cy="1110.2" r="4.0"/><circle cx="346.0" cy="1165.8" r="4.0"/><circle cx="380.3" cy="1119.7" r="4.0"/><circle cx="458.8" cy="1146.3" r="4.0"/><circle cx="430.6" cy="1136.8" r="4.0"/><circle cx="452.7" cy="1199.2" r="4.0"/><circle cx="443.8" cy="1144.3" r="4.0"/><circle cx="455.0" cy="1160.9" r="4.0"/><circle cx="435.4" cy="1180.9" r="4.0"/><circle cx="452.3" cy="1170.1" r="4.0"/><circle cx="461.5" cy="1173.0" r="4.0"/><circle cx="467.0" cy="1170.9" r="4.0"/><circle cx="450.6" cy="1191.1" r="4.0"/><circle cx="455.2" cy="1146.5" r="4.0"/><circle cx="436.1" cy="1167.8" r="4.0"/><circle cx="417.9" cy="1138.9" r="4.0"/><circle cx="473.7" cy="1162.5" r="4.0"/><circle cx="419.4" cy="1135.3" r="4.0"/><circle cx="436.3" cy="1119.4" r="4.0"/><circle cx="472.3" cy="1128.2" r="4.0"/><circle cx="428.7" cy="1097.3" r="4.0"/><circle cx="451.1" cy="1107.7" r="4.0"/><circle cx="420.1" cy="1165.5" r="4.0"/><circle cx="438.6" cy="1098.0" r="4.0"/><circle cx="468.3" cy="1150.8" r="4.0"/><circle cx="415.5" cy="1091.6" r="4.0"/><circle cx="422.6" cy="1117.2" r="4.0"/><circle cx="455.6" cy="1122.7" r="4.0"/><circle cx="423.1" cy="1151.5" r="4.0"/><circle cx="426.9" cy="1117.2" r="4.0"/><circle cx="458.3" cy="1115.7" r="4.0"/><circle cx="444.5" cy="1130.0" r="4.0"/><circle cx="439.9" cy="1169.3" r="4.0"/><circle cx="466.9" cy="1125.2" r="4.0"/><circle cx="430.9" cy="1180.8" r="4.0"/><circle cx="471.5" cy="1148.1" r="4.0"/><circle cx="422.9" cy="1143.5" r="4.0"/><circle cx="470.8" cy="1095.1" r="4.0"/><circle cx="433.7" cy="1167.8" r="4.0"/><circle cx="442.3" cy="1146.7" r="4.0"/><circle cx="473.7" cy="1126.6" r="4.0"/><circle cx="424.0" cy="1156.1" r="4.0"/><circle cx="439.5" cy="1083.1" r="4.0"/><circle cx="460.9" cy="1135.0" r="4.0"/><circle cx="448.3" cy="1160.3" r="4.0"/><circle cx="418.7" cy="1113.8" r="4.0"/><circle cx="425.4" cy="1130.8" r="4.0"/><circle cx="442.4" cy="1174.8" r="4.0"/><circle cx="473.8" cy="1154.6" r="4.0"/><circle cx="443.6" cy="1125.8" r="4.0"/><circle cx="459.1" cy="1112.9" r="4.0"/><circle cx="462.5" cy="1079.1" r="4.0"/><circle cx="462.6" cy="1172.2" r="4.0"/><circle cx="426.1" cy="1102.1" r="4.0"/><circle cx="414.7" cy="1160.6" r="4.0"/><circle cx="439.2" cy="1143.3" r="4.0"/><circle cx="447.0" cy="1190.1" r="4.0"/><circle cx="428.3" cy="1173.4" r="4.0"/><circle cx="435.8" cy="1166.7" r="4.0"/><circle cx="414.3" cy="1181.2" r="4.0"/><circle cx="422.1" cy="1170.2" r="4.0"/><circle cx="443.0" cy="1147.9" r="4.0"/><circle cx="463.2" cy="1113.8" r="4.0"/><circle cx="428.8" cy="1129.9" r="4.0"/><circle cx="428.5" cy="1100.9" r="4.0"/><circle cx="455.5" cy="1142.4" r="4.0"/><circle cx="453.6" cy="1134.0" r="4.0"/><circle cx="434.3" cy="1106.3" r="4.0"/><circle cx="472.1" cy="1142.0" r="4.0"/><circle cx="451.5" cy="1170.5" r="4.0"/><circle cx="433.2" cy="1083.7" r="4.0"/><circle cx="424.0" cy="1160.1" r="4.0"/><circle cx="438.5" cy="1149.3" r="4.0"/><circle cx="473.7" cy="1083.0" r="4.0"/><circle cx="421.9" cy="1167.6" r="4.0"/><circle cx="427.5" cy="1153.0" r="4.0"/><circle cx="443.9" cy="1135.4" r="4.0"/><circle cx="430.6" cy="1128.7" r="4.0"/><circle cx="452.3" cy="1136.7" r="4.0"/><circle cx="421.5" cy="1124.8" r="4.0"/><circle cx="430.0" cy="1161.8" r="4.0"/><circle cx="445.4" cy="1186.8" r="4.0"/><circle cx="430.2" cy="1161.1" r="4.0"/><circle cx="414.4" cy="1170.2" r="4.0"/><circle cx="414.5" cy="1111.6" r="4.0"/><circle cx="455.0" cy="1157.6" r="4.0"/><circle cx="434.9" cy="1116.6" r="4.0"/><circle cx="447.4" cy="1171.2" r="4.0"/><circle cx="423.3" cy="1103.6" r="4.0"/><circle cx="416.5" cy="1113.7" r="4.0"/><circle cx="413.1" cy="1137.8" r="4.0"/><circle cx="436.5" cy="1181.8" r="4.0"/><circle cx="451.0" cy="1145.6" r="4.0"/><circle cx="462.5" cy="1164.7" r="4.0"/><circle cx="430.2" cy="1136.2" r="4.0"/><circle cx="409.3" cy="1138.2" r="4.0"/><circle cx="454.5" cy="1137.3" r="4.0"/><circle cx="460.4" cy="1218.8" r="4.0"/><circle cx="448.5" cy="1156.3" r="4.0"/><circle cx="430.1" cy="1086.0" r="4.0"/><circle cx="451.2" cy="1132.6" r="4.0"/><circle cx="433.2" cy="1106.3" r="4.0"/><circle cx="460.3" cy="1145.4" r="4.0"/><circle cx="448.7" cy="1170.0" r="4.0"/><circle cx="458.9" cy="1113.9" r="4.0"/><circle cx="444.5" cy="1179.1" r="4.0"/><circle cx="441.3" cy="1133.5" r="4.0"/><circle cx="455.4" cy="1111.7" r="4.0"/><circle cx="442.4" cy="1227.0" r="4.0"/><circle cx="463.4" cy="1160.5" r="4.0"/><circle cx="470.7" cy="1118.6" r="4.0"/><circle cx="421.4" cy="1153.8" r="4.0"/><circle cx="424.4" cy="1102.3" r="4.0"/><circle cx="454.3" cy="1150.2" r="4.0"/><circle cx="469.6" cy="1131.5" r="4.0"/><circle cx="438.9" cy="1134.2" r="4.0"/><circle cx="472.6" cy="1109.1" r="4.0"/><circle cx="468.0" cy="1110.8" r="4.0"/><circle cx="445.3" cy="1147.9" r="4.0"/><circle cx="425.7" cy="1149.1" r="4.0"/><circle cx="473.8" cy="1180.0" r="4.0"/><circle cx="448.0" cy="1169.3" r="4.0"/><circle cx="462.7" cy="1108.9" r="4.0"/><circle cx="467.5" cy="1127.9" r="4.0"/><circle cx="446.2" cy="1123.3" r="4.0"/><circle cx="420.5" cy="1170.6" r="4.0"/><circle cx="413.3" cy="1148.2" r="4.0"/><circle cx="420.2" cy="1090.3" r="4.0"/><circle cx="548.3" cy="1222.3" r="4.0"/><circle cx="506.6" cy="1139.8" r="4.0"/><circle cx="535.0" cy="1140.6" r="4.0"/><circle cx="525.4" cy="1124.9" r="4.0"/><circle cx="487.4" cy="1150.5" r="4.0"/><circle cx="517.2" cy="1114.7" r="4.0"/><circle cx="511.8" cy="1110.8" r="4.0"/><circle cx="497.8" cy="1134.7" r="4.0"/><circle cx="503.7" cy="1132.0" r="4.0"/><circle cx="508.2" cy="1134.6" r="4.0"/><circle cx="488.8" cy="1138.8" r="4.0"/><circle cx="495.9" cy="1140.5" r="4.0"/><circle cx="525.9" cy="1178.5" r="4.0"/><circle cx="513.5" cy="1129.4" r="4.0"/><circle cx="531.8" cy="1137.7" r="4.0"/><circle cx="535.9" cy="1146.5" r="4.0"/><circle cx="551.9" cy="1130.3" r="4.0"/><circle cx="542.7" cy="1154.2" r="4.0"/><circle cx="514.9" cy="1126.3" r="4.0"/><circle cx="546.0" cy="1134.5" r="4.0"/><circle cx="521.0" cy="1132.4" r="4.0"/><circle cx="546.0" cy="1127.5" r="4.0"/><circle cx="489.9" cy="1121.7" r="4.0"/><circle cx="545.7" cy="1144.1" r="4.0"/><circle cx="525.7" cy="1144.6" r="4.0"/><circle cx="506.4" cy="1146.1" r="4.0"/><circle cx="490.9" cy="1136.0" r="4.0"/><circle cx="515.8" cy="1109.3" r="4.0"/><circle cx="512.5" cy="1131.1" r="4.0"/><circle cx="532.2" cy="1099.1" r="4.0"/><circle cx="502.1" cy="1132.4" r="4.0"/><circle cx="512.4" cy="1120.9" r="4.0"/><circle cx="490.8" cy="1116.9" r="4.0"/><circle cx="550.1" cy="1164.8" r="4.0"/><circle cx="543.5" cy="1140.2" r="4.0"/><circle cx="539.4" cy="1126.9" r="4.0"/><circle cx="535.6" cy="1116.1" r="4.0"/><circle cx="545.9" cy="1134.6" r="4.0"/><circle cx="538.6" cy="1107.0" r="4.0"/><circle cx="521.8" cy="1109.3" r="4.0"/><circle cx="486.3" cy="1174.6" r="4.0"/><circle cx="506.1" cy="1117.4" r="4.0"/><circle cx="490.4" cy="1121.9" r="4.0"/><circle cx="540.1" cy="1162.1" r="4.0"/><circle cx="509.8" cy="1125.7" r="4.0"/><circle cx="489.3" cy="1135.6" r="4.0"/><circle cx="545.6" cy="1091.5" r="4.0"/><circle cx="519.2" cy="1121.0" r="4.0"/><circle cx="550.8" cy="1169.6" r="4.0"/><circle cx="499.9" cy="1129.6" r="4.0"/><circle cx="547.2" cy="1120.3" r="4.0"/><circle cx="499.2" cy="1162.3" r="4.0"/><circle cx="509.7" cy="1154.1" r="4.0"/><circle cx="497.6" cy="1129.6" r="4.0"/><circle cx="552.0" cy="1159.7" r="4.0"/><circle cx="528.0" cy="1114.8" r="4.0"/><circle cx="544.4" cy="1114.2" r="4.0"/><circle cx="493.3" cy="1098.5" r="4.0"/><circle cx="507.0" cy="1144.1" r="4.0"/><circle cx="543.7" cy="1162.9" r="4.0"/><circle cx="495.2" cy="1143.3" r="4.0"/><circle cx="548.2" cy="1142.1" r="4.0"/><circle cx="491.5" cy="1128.2" r="4.0"/><circle cx="506.6" cy="1116.1" r="4.0"/><circle cx="499.3" cy="1143.1" r="4.0"/><circle cx="501.8" cy="1113.5" r="4.0"/><circle cx="538.5" cy="1140.1" r="4.0"/><circle cx="530.0" cy="1124.4" r="4.0"/><circle cx="525.2" cy="1160.4" r="4.0"/><circle cx="506.2" cy="1116.5" r="4.0"/><circle cx="530.3" cy="1167.9" r="4.0"/><circle cx="528.5" cy="1119.3" r="4.0"/><circle cx="551.2" cy="1106.1" r="4.0"/><circle cx="521.2" cy="1127.9" r="4.0"/><circle cx="489.3" cy="1132.6" r="4.0"/><circle cx="505.1" cy="1136.4" r="4.0"/><circle cx="539.3" cy="1117.8" r="4.0"/><circle cx="505.1" cy="1105.7" r="4.0"/><circle cx="502.5" cy="1146.3" r="4.0"/><circle cx="522.5" cy="1119.4" r="4.0"/><circle cx="545.5" cy="1113.8" r="4.0"/><circle cx="488.5" cy="1223.8" r="4.0"/><circle cx="535.8" cy="1129.0" r="4.0"/><circle cx="547.6" cy="1125.0" r="4.0"/><circle cx="498.2" cy="1131.0" r="4.0"/><circle cx="528.9" cy="1134.0" r="4.0"/><circle cx="529.7" cy="1123.7" r="4.0"/><circle cx="520.4" cy="1148.6" r="4.0"/><circle cx="542.1" cy="1131.3" r="4.0"/><circle cx="520.7" cy="1141.4" r="4.0"/><circle cx="497.8" cy="1174.8" r="4.0"/><circle cx="497.2" cy="1148.3" r="4.0"/><circle cx="501.8" cy="1136.8" r="4.0"/><circle cx="537.3" cy="1127.9" r="4.0"/><circle cx="538.5" cy="1148.9" r="4.0"/><circle cx="518.6" cy="1116.9" r="4.0"/><circle cx="524.6" cy="1116.0" r="4.0"/><circle cx="488.6" cy="1131.0" r="4.0"/><circle cx="533.5" cy="1136.2" r="4.0"/><circle cx="543.9" cy="1134.9" r="4.0"/><circle cx="496.3" cy="1113.4" r="4.0"/><circle cx="519.0" cy="1084.9" r="4.0"/><circle cx="515.5" cy="1127.6" r="4.0"/><circle cx="539.0" cy="1118.5" r="4.0"/><circle cx="546.2" cy="1103.7" r="4.0"/><circle cx="522.2" cy="1134.7" r="4.0"/><circle cx="502.0" cy="1149.4" r="4.0"/><circle cx="506.8" cy="1111.0" r="4.0"/><circle cx="507.0" cy="1096.0" r="4.0"/><circle cx="521.0" cy="1137.6" r="4.0"/><circle cx="525.2" cy="1118.6" r="4.0"/><circle cx="540.5" cy="1105.9" r="4.0"/><circle cx="503.1" cy="1112.8" r="4.0"/><circle cx="531.9" cy="1112.0" r="4.0"/><circle cx="538.2" cy="1153.3" r="4.0"/><circle cx="591.5" cy="1084.1" r="4.0"/><circle cx="578.7" cy="1125.9" r="4.0"/><circle cx="567.2" cy="1273.0" r="4.0"/><circle cx="614.6" cy="1140.1" r="4.0"/><circle cx="573.9" cy="1288.2" r="4.0"/><circle cx="613.6" cy="1136.2" r="4.0"/><circle cx="580.3" cy="1079.7" r="4.0"/><circle cx="573.7" cy="1202.2" r="4.0"/><circle cx="584.1" cy="1129.2" r="4.0"/><circle cx="569.4" cy="1132.8" r="4.0"/><circle cx="630.1" cy="1078.6" r="4.0"/><circle cx="612.8" cy="1173.0" r="4.0"/><circle cx="581.1" cy="1109.6" r="4.0"/><circle cx="580.4" cy="1147.0" r="4.0"/><circle cx="625.9" cy="1136.9" r="4.0"/><circle cx="586.6" cy="1125.9" r="4.0"/><circle cx="604.7" cy="1283.5" r="4.0"/><circle cx="591.0" cy="1079.8" r="4.0"/><circle cx="568.3" cy="1158.2" r="4.0"/><circle cx="610.2" cy="1123.5" r="4.0"/><circle cx="603.4" cy="1193.2" r="4.0"/><circle cx="594.9" cy="1200.6" r="4.0"/><circle cx="620.0" cy="1129.2" r="4.0"/><circle cx="616.0" cy="1127.8" r="4.0"/><circle cx="587.3" cy="1107.7" r="4.0"/><circle cx="600.7" cy="1103.4" r="4.0"/><circle cx="577.8" cy="1100.7" r="4.0"/><circle cx="595.3" cy="1107.6" r="4.0"/><circle cx="593.9" cy="1119.4" r="4.0"/><circle cx="609.2" cy="1294.7" r="4.0"/><circle cx="577.9" cy="1192.7" r="4.0"/><circle cx="569.2" cy="1128.1" r="4.0"/><circle cx="588.3" cy="1163.2" r="4.0"/><circle cx="565.6" cy="1115.2" r="4.0"/><circle cx="581.7" cy="1103.2" r="4.0"/><circle cx="625.4" cy="1129.2" r="4.0"/><circle cx="582.1" cy="1166.2" r="4.0"/><circle cx="574.5" cy="1125.5" r="4.0"/><circle cx="588.1" cy="1236.6" r="4.0"/><circle cx="612.1" cy="1173.3" r="4.0"/><circle cx="565.7" cy="1210.9" r="4.0"/><circle cx="589.8" cy="1121.0" r="4.0"/><circle cx="622.6" cy="1088.1" r="4.0"/><circle cx="615.3" cy="1121.3" r="4.0"/><circle cx="568.0" cy="1143.4" r="4.0"/><circle cx="580.1" cy="1129.3" r="4.0"/><circle cx="574.4" cy="1080.0" r="4.0"/><circle cx="566.5" cy="1151.9" r="4.0"/><circle cx="592.4" cy="1119.8" r="4.0"/><circle cx="573.4" cy="1146.2" r="4.0"/><circle cx="581.6" cy="1165.1" r="4.0"/><circle cx="608.4" cy="1167.6" r="4.0"/><circle cx="577.9" cy="1098.3" r="4.0"/><circle cx="611.4" cy="1115.9" r="4.0"/><circle cx="589.9" cy="1130.6" r="4.0"/></g>
<polygon points="876.7,1073.7 878.7,1074.3 881.5,1075.1 884.8,1076.1 888.2,1077.2 891.5,1078.4 894.3,1079.5 896.7,1080.7 898.9,1082.0 901.0,1083.4 902.9,1084.8 904.6,1086.1 906.1,1087.4 907.4,1088.6 908.6,1089.8 909.5,1091.0 910.3,1092.1 910.8,1093.2 910.9,1094.2 910.8,1095.1 910.5,1095.9 909.9,1096.7 909.0,1097.5 907.7,1098.2 906.1,1099.1 903.8,1100.0 900.8,1100.8 897.6,1101.7 894.2,1102.7 891.1,1103.7 888.5,1105.0 886.3,1106.4 884.4,1107.9 882.8,1109.6 881.3,1111.3 879.9,1113.1 878.7,1114.7 877.6,1116.4 876.6,1118.1 875.8,1119.7 875.0,1121.4 874.4,1123.0 873.8,1124.5 873.1,1125.7 872.5,1126.6 872.0,1127.4 871.6,1128.5 871.3,1130.0 871.0,1132.3 870.7,1135.4 870.5,1139.1 870.3,1143.3 870.2,1147.9 870.2,1152.7 870.2,1157.7 870.2,1163.2 870.4,1169.2 870.6,1175.4 870.8,1181.7 870.9,1187.6 871.0,1192.9 870.9,1197.3 870.8,1201.0 870.6,1204.4 870.4,1207.8 870.3,1211.7 870.2,1216.4 870.2,1221.6 870.2,1227.1 870.2,1233.0 870.2,1239.6 870.2,1247.0 870.2,1255.5 870.2,1266.1 870.2,1278.9 870.2,1292.6 870.2,1305.7 870.2,1317.0 870.2,1324.9 869.2,1324.9 869.2,1317.0 869.2,1305.7 869.2,1292.6 869.2,1278.9 869.2,1266.1 869.2,1255.5 869.2,1247.0 869.2,1239.6 869.2,1233.0 869.2,1227.1 869.2,1221.6 869.2,1216.4 869.1,1211.7 869.0,1207.8 868.8,1204.4 868.6,1201.0 868.5,1197.3 868.4,1192.9 868.5,1187.6 868.6,1181.7 868.8,1175.4 869.0,1169.2 869.2,1163.2 869.2,1157.7 869.2,1152.7 869.2,1147.9 869.1,1143.3 868.9,1139.1 868.7,1135.4 868.4,1132.3 868.1,1130.0 867.8,1128.5 867.4,1127.4 866.9,1126.6 866.3,1125.7 865.6,1124.5 865.0,1123.0 864.4,1121.4 863.6,1119.7 862.8,1118.1 861.8,1116.4 860.7,1114.7 859.5,1113.1 858.1,1111.3 856.6,1109.6 855.0,1107.9 853.1,1106.4 850.9,1105.0 848.3,1103.7 845.2,1102.7 841.8,1101.7 838.6,1100.8 835.6,1100.0 833.3,1099.1 831.7,1098.2 830.4,1097.5 829.5,1096.7 828.9,1095.9 828.6,1095.1 828.5,1094.2 828.6,1093.2 829.1,1092.1 829.9,1091.0 830.8,1089.8 832.0,1088.6 833.3,1087.4 834.8,1086.1 836.5,1084.8 838.4,1083.4 840.5,1082.0 842.7,1080.7 845.1,1079.5 847.9,1078.4 851.2,1077.2 854.6,1076.1 857.9,1075.1 860.7,1074.3 862.7,1073.7" fill="#F2756C" stroke="#2b2b2b" stroke-width="2" stroke-linejoin="round"/>
<polygon points="959.5,1068.8 959.3,1070.0 959.0,1071.8 959.0,1073.8 959.0,1075.9 959.0,1077.9 959.5,1079.5 961.5,1080.8 963.6,1081.8 965.8,1082.7 968.3,1083.6 971.1,1084.4 974.1,1085.4 977.9,1086.5 982.5,1087.6 987.3,1088.8 991.9,1089.9 995.5,1091.1 997.6,1092.3 998.0,1093.4 997.2,1094.5 995.5,1095.6 993.2,1096.7 990.5,1097.9 987.8,1099.1 984.7,1100.4 980.9,1101.7 976.8,1103.1 972.8,1104.4 969.1,1105.7 966.3,1106.9 964.4,1105.7 963.0,1101.6 961.9,1097.4 960.9,1096.1 960.2,1100.2 959.5,1112.8 959.0,1137.9 959.0,1174.3 959.0,1216.2 959.0,1258.1 959.0,1294.2 959.0,1319.0 958.0,1319.0 958.0,1294.2 958.0,1258.1 958.0,1216.2 958.0,1174.3 958.0,1137.9 957.5,1112.8 956.8,1100.2 956.1,1096.1 955.1,1097.4 954.0,1101.6 952.6,1105.7 950.7,1106.9 947.9,1105.7 944.2,1104.4 940.2,1103.1 936.1,1101.7 932.3,1100.4 929.2,1099.1 926.5,1097.9 923.8,1096.7 921.5,1095.6 919.8,1094.5 919.0,1093.4 919.4,1092.3 921.5,1091.1 925.1,1089.9 929.7,1088.8 934.5,1087.6 939.1,1086.5 942.9,1085.4 945.9,1084.4 948.7,1083.6 951.2,1082.7 953.4,1081.8 955.5,1080.8 957.5,1079.5 958.0,1077.9 958.0,1075.9 958.0,1073.8 958.0,1071.8 957.7,1070.0 957.5,1068.8" fill="#A3A336" stroke="#2b2b2b" stroke-width="2" stroke-linejoin="round"/>
<polygon points="1077.2,1081.1 1078.0,1082.2 1079.1,1083.8 1080.4,1085.6 1081.8,1087.5 1083.0,1089.5 1084.0,1091.3 1084.8,1092.9 1085.5,1094.3 1086.1,1095.8 1086.6,1097.4 1086.9,1099.1 1087.0,1101.0 1086.9,1103.4 1086.6,1106.0 1086.1,1108.7 1085.5,1111.5 1084.8,1114.2 1084.0,1116.7 1083.2,1118.8 1082.2,1120.8 1081.2,1122.7 1080.0,1124.5 1078.7,1126.4 1077.2,1128.4 1075.5,1130.6 1073.5,1132.8 1071.5,1135.0 1069.3,1137.3 1067.3,1139.7 1065.5,1142.1 1063.8,1144.5 1062.1,1147.0 1060.6,1149.5 1059.1,1152.2 1057.8,1154.9 1056.7,1157.7 1055.7,1160.5 1054.9,1163.2 1054.3,1166.0 1053.7,1169.2 1053.2,1172.8 1052.8,1177.3 1052.3,1182.7 1051.9,1188.9 1051.5,1195.6 1051.2,1202.6 1051.0,1209.6 1050.8,1216.4 1050.7,1223.0 1050.7,1229.8 1050.8,1236.5 1051.0,1243.2 1051.2,1249.5 1051.4,1255.5 1051.7,1260.9 1052.0,1266.0 1052.4,1270.7 1052.8,1275.4 1053.3,1280.0 1053.7,1284.8 1054.2,1289.8 1054.8,1295.1 1055.3,1300.4 1055.9,1305.4 1056.3,1310.1 1056.7,1314.1 1056.8,1317.6 1056.9,1320.6 1056.9,1323.3 1056.8,1325.5 1056.7,1327.3 1056.7,1328.8 1036.7,1328.8 1036.7,1327.3 1036.6,1325.5 1036.5,1323.3 1036.5,1320.6 1036.6,1317.6 1036.7,1314.1 1037.1,1310.1 1037.5,1305.4 1038.1,1300.4 1038.6,1295.1 1039.2,1289.8 1039.7,1284.8 1040.1,1280.0 1040.6,1275.4 1041.0,1270.7 1041.4,1266.0 1041.7,1260.9 1042.0,1255.5 1042.2,1249.5 1042.4,1243.2 1042.6,1236.5 1042.7,1229.8 1042.7,1223.0 1042.6,1216.4 1042.4,1209.6 1042.2,1202.6 1041.9,1195.6 1041.5,1188.9 1041.1,1182.7 1040.6,1177.3 1040.2,1172.8 1039.7,1169.2 1039.1,1166.0 1038.5,1163.2 1037.7,1160.5 1036.7,1157.7 1035.6,1154.9 1034.3,1152.2 1032.8,1149.5 1031.3,1147.0 1029.6,1144.5 1027.9,1142.1 1026.1,1139.7 1024.1,1137.3 1021.9,1135.0 1019.9,1132.8 1017.9,1130.6 1016.2,1128.4 1014.7,1126.4 1013.4,1124.5 1012.2,1122.7 1011.2,1120.8 1010.2,1118.8 1009.4,1116.7 1008.6,1114.2 1007.9,1111.5 1007.3,1108.7 1006.8,1106.0 1006.5,1103.4 1006.4,1101.0 1006.5,1099.1 1006.8,1097.4 1007.3,1095.8 1007.9,1094.3 1008.6,1092.9 1009.4,1091.3 1010.4,1089.5 1011.6,1087.5 1013.0,1085.6 1014.3,1083.8 1015.4,1082.2 1016.2,1081.1" fill="#25B779" stroke="#2b2b2b" stroke-width="2" stroke-linejoin="round"/>
<polygon points="1144.6,1081.5 1146.0,1081.9 1148.0,1082.4 1150.4,1083.1 1152.9,1083.8 1155.2,1084.6 1157.3,1085.4 1159.0,1086.3 1160.5,1087.1 1162.0,1088.1 1163.4,1089.1 1164.7,1090.2 1166.1,1091.3 1167.5,1092.5 1169.1,1093.7 1170.6,1095.1 1172.0,1096.4 1173.1,1097.8 1173.9,1099.1 1174.3,1100.4 1174.4,1101.6 1174.3,1102.8 1173.9,1104.0 1173.5,1105.4 1172.9,1106.9 1172.3,1108.7 1171.5,1110.6 1170.5,1112.7 1169.5,1114.7 1168.3,1116.8 1167.1,1118.6 1165.6,1120.4 1164.0,1122.0 1162.3,1123.6 1160.5,1125.2 1158.8,1126.8 1157.3,1128.4 1155.9,1130.0 1154.5,1131.7 1153.2,1133.3 1152.0,1134.9 1150.7,1136.6 1149.5,1138.2 1148.1,1139.8 1146.7,1141.4 1145.3,1143.1 1144.0,1144.7 1142.7,1146.3 1141.6,1148.0 1140.7,1149.5 1139.9,1151.1 1139.2,1152.6 1138.6,1154.2 1137.8,1155.9 1137.2,1157.7 1136.8,1159.9 1136.6,1162.5 1136.5,1165.2 1136.4,1167.7 1136.4,1169.9 1136.4,1171.4 1133.2,1171.4 1133.2,1169.9 1133.2,1167.7 1133.1,1165.2 1133.0,1162.5 1132.8,1159.9 1132.4,1157.7 1131.8,1155.9 1131.0,1154.2 1130.4,1152.6 1129.7,1151.1 1128.9,1149.5 1128.0,1148.0 1126.9,1146.3 1125.6,1144.7 1124.3,1143.1 1122.9,1141.4 1121.5,1139.8 1120.1,1138.2 1118.9,1136.6 1117.6,1134.9 1116.4,1133.3 1115.1,1131.7 1113.7,1130.0 1112.3,1128.4 1110.8,1126.8 1109.1,1125.2 1107.3,1123.6 1105.6,1122.0 1104.0,1120.4 1102.5,1118.6 1101.3,1116.8 1100.1,1114.7 1099.1,1112.7 1098.1,1110.6 1097.3,1108.7 1096.7,1106.9 1096.1,1105.4 1095.7,1104.0 1095.3,1102.8 1095.2,1101.6 1095.3,1100.4 1095.7,1099.1 1096.5,1097.8 1097.6,1096.4 1099.0,1095.1 1100.5,1093.7 1102.1,1092.5 1103.5,1091.3 1104.9,1090.2 1106.2,1089.1 1107.6,1088.1 1109.1,1087.1 1110.6,1086.3 1112.3,1085.4 1114.4,1084.6 1116.7,1083.8 1119.2,1083.1 1121.6,1082.4 1123.6,1081.9 1125.0,1081.5" fill="#30A9E1" stroke="#2b2b2b" stroke-width="2" stroke-linejoin="round"/>
<polygon points="1224.1,1074.7 1224.0,1075.4 1223.7,1076.5 1223.4,1077.7 1223.3,1079.0 1223.8,1080.3 1224.9,1081.5 1226.8,1082.6 1228.7,1083.6 1231.0,1084.6 1233.4,1085.6 1235.8,1086.5 1238.1,1087.4 1240.4,1088.1 1242.7,1088.8 1245.1,1089.5 1247.4,1090.1 1249.7,1090.7 1251.8,1091.3 1254.0,1091.9 1256.3,1092.4 1258.5,1093.0 1260.4,1093.6 1261.8,1094.2 1262.6,1094.8 1262.6,1095.4 1262.0,1096.1 1260.9,1096.8 1259.5,1097.5 1257.7,1098.3 1255.7,1099.1 1253.4,1100.0 1250.4,1100.9 1247.2,1101.9 1244.0,1102.9 1240.9,1104.0 1238.1,1105.0 1235.7,1106.0 1233.4,1107.0 1231.3,1108.0 1229.4,1109.0 1227.8,1110.0 1226.4,1110.8 1225.0,1110.7 1224.1,1109.4 1223.6,1108.1 1223.3,1107.9 1223.2,1109.7 1223.0,1114.7 1223.0,1124.6 1223.0,1138.8 1223.0,1155.0 1223.0,1171.3 1223.0,1185.3 1223.0,1194.9 1222.0,1194.9 1222.0,1185.3 1222.0,1171.3 1222.0,1155.0 1222.0,1138.8 1222.0,1124.6 1222.0,1114.7 1221.8,1109.7 1221.7,1107.9 1221.4,1108.1 1220.9,1109.4 1220.0,1110.7 1218.6,1110.8 1217.2,1110.0 1215.6,1109.0 1213.7,1108.0 1211.6,1107.0 1209.3,1106.0 1206.9,1105.0 1204.1,1104.0 1201.0,1102.9 1197.8,1101.9 1194.6,1100.9 1191.6,1100.0 1189.3,1099.1 1187.3,1098.3 1185.5,1097.5 1184.1,1096.8 1183.0,1096.1 1182.4,1095.4 1182.4,1094.8 1183.2,1094.2 1184.6,1093.6 1186.5,1093.0 1188.7,1092.4 1191.0,1091.9 1193.2,1091.3 1195.3,1090.7 1197.6,1090.1 1199.9,1089.5 1202.3,1088.8 1204.6,1088.1 1206.9,1087.4 1209.2,1086.5 1211.6,1085.6 1214.0,1084.6 1216.3,1083.6 1218.2,1082.6 1220.1,1081.5 1221.2,1080.3 1221.7,1079.0 1221.6,1077.7 1221.3,1076.5 1221.0,1075.4 1220.9,1074.7" fill="#BF70BF" stroke="#2b2b2b" stroke-width="2" stroke-linejoin="round"/>
<g fill="#000"><circle cx="849.2" cy="1198.7" r="4.0"/><circle cx="858.1" cy="1090.0" r="4.0"/><circle cx="835.3" cy="1086.9" r="4.0"/><circle cx="879.5" cy="1076.7" r="4.0"/><circle cx="892.9" cy="1100.4" r="4.0"/><circle cx="854.6" cy="1301.5" r="4.0"/><circle cx="901.1" cy="1107.4" r="4.0"/><circle cx="883.9" cy="1086.9" r="4.0"/><circle cx="903.8" cy="1107.0" r="4.0"/><circle cx="849.8" cy="1200.5" r="4.0"/><circle cx="838.9" cy="1104.2" r="4.0"/><circle cx="861.6" cy="1095.0" r="4.0"/><circle cx="861.0" cy="1079.3" r="4.0"/><circle cx="869.5" cy="1091.3" r="4.0"/><circle cx="844.1" cy="1089.5" r="4.0"/><circle cx="867.8" cy="1094.1" r="4.0"/><circle cx="882.1" cy="1084.8" r="4.0"/><circle cx="839.2" cy="1087.9" r="4.0"/><circle cx="863.9" cy="1091.8" r="4.0"/><circle cx="875.9" cy="1084.1" r="4.0"/><circle cx="873.7" cy="1110.8" r="4.0"/><circle cx="833.9" cy="1110.7" r="4.0"/><circle cx="859.5" cy="1093.6" r="4.0"/><circle cx="862.5" cy="1079.5" r="4.0"/><circle cx="869.4" cy="1078.9" r="4.0"/><circle cx="867.4" cy="1101.3" r="4.0"/><circle cx="851.2" cy="1091.2" r="4.0"/><circle cx="858.2" cy="1076.6" r="4.0"/><circle cx="874.6" cy="1220.8" r="4.0"/><circle cx="882.3" cy="1088.8" r="4.0"/><circle cx="867.4" cy="1085.6" r="4.0"/><circle cx="903.8" cy="1103.0" r="4.0"/><circle cx="875.4" cy="1092.6" r="4.0"/><circle cx="890.1" cy="1269.7" r="4.0"/><circle cx="878.8" cy="1103.8" r="4.0"/><circle cx="863.4" cy="1094.4" r="4.0"/><circle cx="894.4" cy="1089.3" r="4.0"/><circle cx="860.8" cy="1209.6" r="4.0"/><circle cx="835.1" cy="1238.3" r="4.0"/><circle cx="870.2" cy="1083.4" r="4.0"/><circle cx="859.2" cy="1090.6" r="4.0"/><circle cx="843.4" cy="1302.8" r="4.0"/><circle cx="849.3" cy="1085.9" r="4.0"/><circle cx="849.8" cy="1108.4" r="4.0"/><circle cx="873.0" cy="1073.9" r="4.0"/><circle cx="850.2" cy="1093.7" r="4.0"/><circle cx="881.0" cy="1097.4" r="4.0"/><circle cx="879.0" cy="1099.6" r="4.0"/><circle cx="894.5" cy="1100.1" r="4.0"/><circle cx="857.2" cy="1295.0" r="4.0"/><circle cx="898.7" cy="1092.0" r="4.0"/><circle cx="885.9" cy="1090.8" r="4.0"/><circle cx="883.7" cy="1110.1" r="4.0"/><circle cx="894.0" cy="1290.3" r="4.0"/><circle cx="878.8" cy="1084.5" r="4.0"/><circle cx="874.5" cy="1097.3" r="4.0"/><circle cx="853.6" cy="1092.9" r="4.0"/><circle cx="872.2" cy="1118.6" r="4.0"/><circle cx="850.9" cy="1087.8" r="4.0"/><circle cx="845.5" cy="1091.2" r="4.0"/><circle cx="841.6" cy="1098.2" r="4.0"/><circle cx="837.4" cy="1079.5" r="4.0"/><circle cx="885.1" cy="1081.7" r="4.0"/><circle cx="866.1" cy="1082.2" r="4.0"/><circle cx="868.3" cy="1125.3" r="4.0"/><circle cx="897.2" cy="1084.6" r="4.0"/><circle cx="836.2" cy="1201.5" r="4.0"/><circle cx="870.3" cy="1088.5" r="4.0"/><circle cx="861.6" cy="1141.5" r="4.0"/><circle cx="851.1" cy="1112.7" r="4.0"/><circle cx="856.7" cy="1112.7" r="4.0"/><circle cx="889.1" cy="1091.5" r="4.0"/><circle cx="894.3" cy="1182.1" r="4.0"/><circle cx="863.7" cy="1100.4" r="4.0"/><circle cx="878.9" cy="1111.5" r="4.0"/><circle cx="892.3" cy="1172.9" r="4.0"/><circle cx="860.5" cy="1082.8" r="4.0"/><circle cx="849.5" cy="1107.3" r="4.0"/><circle cx="833.2" cy="1085.6" r="4.0"/><circle cx="902.8" cy="1101.3" r="4.0"/><circle cx="842.2" cy="1296.6" r="4.0"/><circle cx="863.6" cy="1109.2" r="4.0"/><circle cx="862.0" cy="1104.1" r="4.0"/><circle cx="906.4" cy="1261.1" r="4.0"/><circle cx="885.7" cy="1078.6" r="4.0"/><circle cx="835.4" cy="1082.5" r="4.0"/><circle cx="887.0" cy="1089.7" r="4.0"/><circle cx="841.2" cy="1318.8" r="4.0"/><circle cx="834.2" cy="1091.4" r="4.0"/><circle cx="868.4" cy="1099.4" r="4.0"/><circle cx="855.4" cy="1093.0" r="4.0"/><circle cx="895.1" cy="1145.0" r="4.0"/><circle cx="861.6" cy="1089.6" r="4.0"/><circle cx="889.6" cy="1103.2" r="4.0"/><circle cx="861.4" cy="1306.7" r="4.0"/><circle cx="873.1" cy="1109.9" r="4.0"/><circle cx="843.2" cy="1144.7" r="4.0"/><circle cx="840.2" cy="1085.2" r="4.0"/><circle cx="851.1" cy="1261.3" r="4.0"/><circle cx="841.2" cy="1097.2" r="4.0"/><circle cx="833.6" cy="1091.2" r="4.0"/><circle cx="843.0" cy="1100.4" r="4.0"/><circle cx="852.8" cy="1103.7" r="4.0"/><circle cx="868.4" cy="1087.4" r="4.0"/><circle cx="851.7" cy="1092.7" r="4.0"/><circle cx="837.0" cy="1078.7" r="4.0"/><circle cx="855.4" cy="1221.7" r="4.0"/><circle cx="845.9" cy="1080.4" r="4.0"/><circle cx="907.0" cy="1097.0" r="4.0"/><circle cx="897.2" cy="1086.3" r="4.0"/><circle cx="863.3" cy="1097.1" r="4.0"/><circle cx="861.9" cy="1151.0" r="4.0"/><circle cx="873.5" cy="1079.1" r="4.0"/><circle cx="878.9" cy="1106.1" r="4.0"/><circle cx="902.6" cy="1089.4" r="4.0"/><circle cx="906.8" cy="1197.7" r="4.0"/><circle cx="894.7" cy="1095.5" r="4.0"/><circle cx="845.4" cy="1114.1" r="4.0"/><circle cx="844.9" cy="1076.9" r="4.0"/><circle cx="837.8" cy="1082.5" r="4.0"/><circle cx="888.7" cy="1092.5" r="4.0"/><circle cx="870.8" cy="1090.6" r="4.0"/><circle cx="848.0" cy="1075.3" r="4.0"/><circle cx="833.0" cy="1285.9" r="4.0"/><circle cx="893.0" cy="1098.7" r="4.0"/><circle cx="887.4" cy="1138.0" r="4.0"/><circle cx="892.4" cy="1093.9" r="4.0"/><circle cx="889.8" cy="1170.1" r="4.0"/><circle cx="839.8" cy="1311.4" r="4.0"/><circle cx="862.4" cy="1277.4" r="4.0"/><circle cx="851.0" cy="1111.3" r="4.0"/><circle cx="834.0" cy="1238.3" r="4.0"/><circle cx="849.2" cy="1100.9" r="4.0"/><circle cx="859.9" cy="1093.5" r="4.0"/><circle cx="893.0" cy="1106.2" r="4.0"/><circle cx="880.1" cy="1092.7" r="4.0"/><circle cx="853.1" cy="1092.3" r="4.0"/><circle cx="856.3" cy="1233.9" r="4.0"/><circle cx="857.3" cy="1081.2" r="4.0"/><circle cx="848.1" cy="1117.0" r="4.0"/><circle cx="873.2" cy="1117.4" r="4.0"/><circle cx="845.5" cy="1108.4" r="4.0"/><circle cx="842.9" cy="1081.9" r="4.0"/><circle cx="864.5" cy="1092.1" r="4.0"/><circle cx="869.9" cy="1075.2" r="4.0"/><circle cx="856.3" cy="1094.1" r="4.0"/><circle cx="903.6" cy="1099.1" r="4.0"/><circle cx="898.2" cy="1086.4" r="4.0"/><circle cx="888.8" cy="1091.1" r="4.0"/><circle cx="906.3" cy="1082.0" r="4.0"/><circle cx="904.4" cy="1095.1" r="4.0"/><circle cx="862.8" cy="1087.1" r="4.0"/><circle cx="845.5" cy="1111.4" r="4.0"/><circle cx="883.0" cy="1089.2" r="4.0"/><circle cx="856.4" cy="1274.8" r="4.0"/><circle cx="859.0" cy="1085.5" r="4.0"/><circle cx="843.3" cy="1314.8" r="4.0"/><circle cx="860.6" cy="1104.4" r="4.0"/><circle cx="848.1" cy="1105.0" r="4.0"/><circle cx="898.8" cy="1103.1" r="4.0"/><circle cx="879.3" cy="1191.9" r="4.0"/><circle cx="874.8" cy="1097.8" r="4.0"/><circle cx="895.0" cy="1082.3" r="4.0"/><circle cx="866.2" cy="1109.4" r="4.0"/><circle cx="863.7" cy="1106.9" r="4.0"/><circle cx="849.5" cy="1093.4" r="4.0"/><circle cx="875.2" cy="1102.1" r="4.0"/><circle cx="834.6" cy="1098.2" r="4.0"/><circle cx="865.7" cy="1103.8" r="4.0"/><circle cx="876.8" cy="1101.7" r="4.0"/><circle cx="843.6" cy="1259.4" r="4.0"/><circle cx="906.7" cy="1096.5" r="4.0"/><circle cx="855.7" cy="1116.3" r="4.0"/><circle cx="906.4" cy="1116.1" r="4.0"/><circle cx="897.3" cy="1094.0" r="4.0"/><circle cx="906.5" cy="1082.9" r="4.0"/><circle cx="849.8" cy="1097.3" r="4.0"/><circle cx="880.9" cy="1180.2" r="4.0"/><circle cx="894.4" cy="1265.3" r="4.0"/><circle cx="870.6" cy="1142.5" r="4.0"/><circle cx="837.1" cy="1318.8" r="4.0"/><circle cx="885.6" cy="1201.7" r="4.0"/><circle cx="892.7" cy="1088.3" r="4.0"/><circle cx="872.4" cy="1095.9" r="4.0"/><circle cx="846.9" cy="1198.4" r="4.0"/><circle cx="880.5" cy="1089.5" r="4.0"/><circle cx="873.8" cy="1080.1" r="4.0"/><circle cx="869.0" cy="1134.0" r="4.0"/><circle cx="892.2" cy="1088.0" r="4.0"/><circle cx="890.0" cy="1191.0" r="4.0"/><circle cx="900.1" cy="1099.6" r="4.0"/><circle cx="843.6" cy="1141.7" r="4.0"/><circle cx="839.7" cy="1092.7" r="4.0"/><circle cx="858.1" cy="1077.7" r="4.0"/><circle cx="894.7" cy="1197.9" r="4.0"/><circle cx="845.8" cy="1082.4" r="4.0"/><circle cx="895.9" cy="1093.5" r="4.0"/><circle cx="899.8" cy="1103.1" r="4.0"/><circle cx="906.3" cy="1080.0" r="4.0"/><circle cx="879.4" cy="1086.5" r="4.0"/><circle cx="975.6" cy="1103.0" r="4.0"/><circle cx="971.1" cy="1089.3" r="4.0"/><circle cx="922.2" cy="1093.5" r="4.0"/><circle cx="944.6" cy="1091.9" r="4.0"/><circle cx="941.9" cy="1096.9" r="4.0"/><circle cx="973.1" cy="1096.4" r="4.0"/><circle cx="930.6" cy="1088.9" r="4.0"/><circle cx="956.0" cy="1098.2" r="4.0"/><circle cx="929.7" cy="1087.7" r="4.0"/><circle cx="966.8" cy="1106.3" r="4.0"/><circle cx="935.7" cy="1092.3" r="4.0"/><circle cx="972.9" cy="1308.3" r="4.0"/><circle cx="948.0" cy="1099.1" r="4.0"/><circle cx="951.6" cy="1091.4" r="4.0"/><circle cx="968.3" cy="1088.1" r="4.0"/><circle cx="982.5" cy="1093.4" r="4.0"/><circle cx="955.3" cy="1093.1" r="4.0"/><circle cx="991.6" cy="1094.7" r="4.0"/><circle cx="973.8" cy="1092.1" r="4.0"/><circle cx="964.4" cy="1090.1" r="4.0"/><circle cx="986.4" cy="1091.0" r="4.0"/><circle cx="985.1" cy="1091.0" r="4.0"/><circle cx="955.1" cy="1097.9" r="4.0"/><circle cx="950.1" cy="1105.7" r="4.0"/><circle cx="966.1" cy="1099.3" r="4.0"/><circle cx="925.8" cy="1093.8" r="4.0"/><circle cx="942.1" cy="1093.3" r="4.0"/><circle cx="992.6" cy="1093.6" r="4.0"/><circle cx="973.1" cy="1091.1" r="4.0"/><circle cx="939.4" cy="1097.8" r="4.0"/><circle cx="930.9" cy="1093.1" r="4.0"/><circle cx="939.9" cy="1103.8" r="4.0"/><circle cx="946.6" cy="1093.3" r="4.0"/><circle cx="984.8" cy="1101.3" r="4.0"/><circle cx="961.9" cy="1096.2" r="4.0"/><circle cx="988.2" cy="1086.8" r="4.0"/><circle cx="948.3" cy="1086.4" r="4.0"/><circle cx="975.2" cy="1092.5" r="4.0"/><circle cx="946.8" cy="1097.7" r="4.0"/><circle cx="992.2" cy="1103.9" r="4.0"/><circle cx="968.5" cy="1083.1" r="4.0"/><circle cx="948.1" cy="1094.1" r="4.0"/><circle cx="944.7" cy="1094.0" r="4.0"/><circle cx="966.4" cy="1097.7" r="4.0"/><circle cx="994.2" cy="1246.8" r="4.0"/><circle cx="950.6" cy="1303.6" r="4.0"/><circle cx="969.7" cy="1101.5" r="4.0"/><circle cx="995.8" cy="1098.4" r="4.0"/><circle cx="955.7" cy="1085.6" r="4.0"/><circle cx="970.2" cy="1093.0" r="4.0"/><circle cx="995.2" cy="1089.7" r="4.0"/><circle cx="948.7" cy="1089.6" r="4.0"/><circle cx="950.6" cy="1088.0" r="4.0"/><circle cx="927.3" cy="1099.3" r="4.0"/><circle cx="969.7" cy="1088.6" r="4.0"/><circle cx="976.7" cy="1096.8" r="4.0"/><circle cx="981.8" cy="1090.4" r="4.0"/><circle cx="979.2" cy="1099.0" r="4.0"/><circle cx="956.1" cy="1087.4" r="4.0"/><circle cx="985.5" cy="1082.4" r="4.0"/><circle cx="988.2" cy="1106.6" r="4.0"/><circle cx="947.3" cy="1083.2" r="4.0"/><circle cx="961.0" cy="1095.2" r="4.0"/><circle cx="980.2" cy="1087.2" r="4.0"/><circle cx="959.0" cy="1091.3" r="4.0"/><circle cx="963.6" cy="1087.6" r="4.0"/><circle cx="927.6" cy="1087.7" r="4.0"/><circle cx="943.0" cy="1094.8" r="4.0"/><circle cx="939.5" cy="1100.1" r="4.0"/><circle cx="925.1" cy="1093.2" r="4.0"/><circle cx="954.9" cy="1089.7" r="4.0"/><circle cx="955.5" cy="1095.6" r="4.0"/><circle cx="928.8" cy="1102.2" r="4.0"/><circle cx="932.6" cy="1102.1" r="4.0"/><circle cx="960.4" cy="1246.5" r="4.0"/><circle cx="966.9" cy="1093.1" r="4.0"/><circle cx="993.3" cy="1102.6" r="4.0"/><circle cx="921.8" cy="1093.2" r="4.0"/><circle cx="982.4" cy="1088.3" r="4.0"/><circle cx="974.4" cy="1099.1" r="4.0"/><circle cx="960.8" cy="1088.4" r="4.0"/><circle cx="929.3" cy="1083.6" r="4.0"/><circle cx="993.5" cy="1091.3" r="4.0"/><circle cx="984.6" cy="1097.2" r="4.0"/><circle cx="952.2" cy="1084.6" r="4.0"/><circle cx="940.6" cy="1086.0" r="4.0"/><circle cx="989.9" cy="1087.2" r="4.0"/><circle cx="957.7" cy="1091.8" r="4.0"/><circle cx="987.5" cy="1097.4" r="4.0"/><circle cx="963.6" cy="1106.7" r="4.0"/><circle cx="988.8" cy="1094.6" r="4.0"/><circle cx="943.5" cy="1092.9" r="4.0"/><circle cx="940.4" cy="1099.2" r="4.0"/><circle cx="953.2" cy="1092.4" r="4.0"/><circle cx="947.9" cy="1094.2" r="4.0"/><circle cx="954.8" cy="1093.5" r="4.0"/><circle cx="983.7" cy="1084.8" r="4.0"/><circle cx="960.6" cy="1085.4" r="4.0"/><circle cx="951.0" cy="1095.4" r="4.0"/><circle cx="928.4" cy="1089.8" r="4.0"/><circle cx="944.6" cy="1092.5" r="4.0"/><circle cx="938.3" cy="1094.3" r="4.0"/><circle cx="957.6" cy="1099.5" r="4.0"/><circle cx="951.5" cy="1081.3" r="4.0"/><circle cx="921.5" cy="1232.2" r="4.0"/><circle cx="993.1" cy="1096.3" r="4.0"/><circle cx="965.9" cy="1092.4" r="4.0"/><circle cx="943.6" cy="1092.4" r="4.0"/><circle cx="965.2" cy="1096.6" r="4.0"/><circle cx="958.3" cy="1091.5" r="4.0"/><circle cx="977.5" cy="1094.9" r="4.0"/><circle cx="928.0" cy="1085.0" r="4.0"/><circle cx="941.3" cy="1090.4" r="4.0"/><circle cx="952.9" cy="1100.6" r="4.0"/><circle cx="951.2" cy="1102.5" r="4.0"/><circle cx="972.0" cy="1091.0" r="4.0"/><circle cx="994.8" cy="1086.3" r="4.0"/><circle cx="945.6" cy="1101.6" r="4.0"/><circle cx="982.5" cy="1091.6" r="4.0"/><circle cx="969.2" cy="1100.4" r="4.0"/><circle cx="978.3" cy="1085.2" r="4.0"/><circle cx="967.9" cy="1084.7" r="4.0"/><circle cx="990.5" cy="1095.5" r="4.0"/><circle cx="922.7" cy="1097.1" r="4.0"/><circle cx="977.5" cy="1105.8" r="4.0"/><circle cx="921.4" cy="1096.0" r="4.0"/><circle cx="952.4" cy="1099.2" r="4.0"/><circle cx="994.8" cy="1097.9" r="4.0"/><circle cx="926.6" cy="1104.8" r="4.0"/><circle cx="954.0" cy="1100.2" r="4.0"/><circle cx="949.3" cy="1099.5" r="4.0"/><circle cx="953.8" cy="1093.7" r="4.0"/><circle cx="945.0" cy="1087.4" r="4.0"/><circle cx="926.4" cy="1099.1" r="4.0"/><circle cx="983.6" cy="1087.3" r="4.0"/><circle cx="962.1" cy="1097.7" r="4.0"/><circle cx="929.9" cy="1087.2" r="4.0"/><circle cx="992.5" cy="1091.4" r="4.0"/><circle cx="990.2" cy="1095.7" r="4.0"/><circle cx="952.1" cy="1089.6" r="4.0"/><circle cx="983.9" cy="1095.2" r="4.0"/><circle cx="986.5" cy="1087.5" r="4.0"/><circle cx="923.4" cy="1094.2" r="4.0"/><circle cx="949.3" cy="1093.5" r="4.0"/><circle cx="990.6" cy="1097.8" r="4.0"/><circle cx="972.7" cy="1094.5" r="4.0"/><circle cx="979.4" cy="1092.8" r="4.0"/><circle cx="976.7" cy="1087.0" r="4.0"/><circle cx="964.9" cy="1088.6" r="4.0"/><circle cx="947.0" cy="1089.4" r="4.0"/><circle cx="947.2" cy="1088.6" r="4.0"/><circle cx="960.0" cy="1096.2" r="4.0"/><circle cx="964.1" cy="1092.8" r="4.0"/><circle cx="947.9" cy="1101.9" r="4.0"/><circle cx="957.0" cy="1096.1" r="4.0"/><circle cx="945.6" cy="1275.6" r="4.0"/><circle cx="938.5" cy="1098.3" r="4.0"/><circle cx="975.8" cy="1090.6" r="4.0"/><circle cx="940.3" cy="1095.9" r="4.0"/><circle cx="982.9" cy="1085.5" r="4.0"/><circle cx="1062.9" cy="1114.8" r="4.0"/><circle cx="1055.5" cy="1119.8" r="4.0"/><circle cx="1082.4" cy="1133.3" r="4.0"/><circle cx="1043.4" cy="1297.0" r="4.0"/><circle cx="1026.5" cy="1125.1" r="4.0"/><circle cx="1016.9" cy="1193.9" r="4.0"/><circle cx="1072.8" cy="1108.6" r="4.0"/><circle cx="1061.6" cy="1084.8" r="4.0"/><circle cx="1050.6" cy="1134.4" r="4.0"/><circle cx="1020.6" cy="1110.9" r="4.0"/><circle cx="1066.6" cy="1312.3" r="4.0"/><circle cx="1016.5" cy="1235.4" r="4.0"/><circle cx="1025.6" cy="1217.4" r="4.0"/><circle cx="1049.3" cy="1099.6" r="4.0"/><circle cx="1018.3" cy="1140.7" r="4.0"/><circle cx="1052.9" cy="1202.3" r="4.0"/><circle cx="1078.5" cy="1292.7" r="4.0"/><circle cx="1036.5" cy="1160.1" r="4.0"/><circle cx="1063.1" cy="1312.4" r="4.0"/><circle cx="1073.5" cy="1107.3" r="4.0"/><circle cx="1029.1" cy="1177.5" r="4.0"/><circle cx="1010.7" cy="1103.8" r="4.0"/><circle cx="1028.2" cy="1130.6" r="4.0"/><circle cx="1028.2" cy="1107.5" r="4.0"/><circle cx="1045.6" cy="1093.8" r="4.0"/><circle cx="1030.6" cy="1105.7" r="4.0"/><circle cx="1047.4" cy="1106.2" r="4.0"/><circle cx="1021.2" cy="1280.9" r="4.0"/><circle cx="1073.3" cy="1273.3" r="4.0"/><circle cx="1050.0" cy="1140.6" r="4.0"/><circle cx="1049.3" cy="1181.6" r="4.0"/><circle cx="1078.1" cy="1151.1" r="4.0"/><circle cx="1028.7" cy="1210.2" r="4.0"/><circle cx="1079.4" cy="1086.7" r="4.0"/><circle cx="1068.2" cy="1113.5" r="4.0"/><circle cx="1043.2" cy="1102.4" r="4.0"/><circle cx="1063.9" cy="1114.2" r="4.0"/><circle cx="1047.1" cy="1309.8" r="4.0"/><circle cx="1035.4" cy="1134.2" r="4.0"/><circle cx="1080.4" cy="1102.3" r="4.0"/><circle cx="1079.7" cy="1091.9" r="4.0"/><circle cx="1014.6" cy="1150.4" r="4.0"/><circle cx="1016.9" cy="1293.8" r="4.0"/><circle cx="1018.2" cy="1134.1" r="4.0"/><circle cx="1032.4" cy="1325.0" r="4.0"/><circle cx="1013.8" cy="1280.0" r="4.0"/><circle cx="1014.3" cy="1152.8" r="4.0"/><circle cx="1052.0" cy="1084.3" r="4.0"/><circle cx="1060.6" cy="1323.0" r="4.0"/><circle cx="1068.1" cy="1270.8" r="4.0"/><circle cx="1015.0" cy="1128.8" r="4.0"/><circle cx="1023.0" cy="1129.4" r="4.0"/><circle cx="1035.8" cy="1129.4" r="4.0"/><circle cx="1024.0" cy="1126.3" r="4.0"/><circle cx="1040.5" cy="1166.5" r="4.0"/><circle cx="1015.1" cy="1125.0" r="4.0"/><circle cx="1051.0" cy="1125.1" r="4.0"/><circle cx="1051.3" cy="1319.6" r="4.0"/><circle cx="1031.7" cy="1094.1" r="4.0"/><circle cx="1061.9" cy="1111.1" r="4.0"/><circle cx="1082.4" cy="1308.1" r="4.0"/><circle cx="1078.6" cy="1312.0" r="4.0"/><circle cx="1079.3" cy="1272.7" r="4.0"/><circle cx="1045.9" cy="1083.3" r="4.0"/><circle cx="1060.6" cy="1137.6" r="4.0"/><circle cx="1055.2" cy="1141.2" r="4.0"/><circle cx="1015.7" cy="1306.1" r="4.0"/><circle cx="1081.2" cy="1128.5" r="4.0"/><circle cx="1017.6" cy="1084.5" r="4.0"/><circle cx="1081.0" cy="1278.4" r="4.0"/><circle cx="1011.6" cy="1083.7" r="4.0"/><circle cx="1060.8" cy="1254.0" r="4.0"/><circle cx="1052.7" cy="1128.6" r="4.0"/><circle cx="1069.8" cy="1196.8" r="4.0"/><circle cx="1014.3" cy="1081.2" r="4.0"/><circle cx="1082.4" cy="1225.8" r="4.0"/><circle cx="1039.8" cy="1256.6" r="4.0"/><circle cx="1035.2" cy="1111.1" r="4.0"/><circle cx="1067.0" cy="1082.7" r="4.0"/><circle cx="1053.1" cy="1104.9" r="4.0"/><circle cx="1034.4" cy="1129.3" r="4.0"/><circle cx="1043.3" cy="1155.3" r="4.0"/><circle cx="1075.3" cy="1102.5" r="4.0"/><circle cx="1020.4" cy="1097.6" r="4.0"/><circle cx="1045.1" cy="1104.1" r="4.0"/><circle cx="1034.2" cy="1217.0" r="4.0"/><circle cx="1058.3" cy="1102.8" r="4.0"/><circle cx="1048.4" cy="1104.7" r="4.0"/><circle cx="1075.0" cy="1104.3" r="4.0"/><circle cx="1026.6" cy="1098.3" r="4.0"/><circle cx="1033.9" cy="1108.2" r="4.0"/><circle cx="1059.8" cy="1177.3" r="4.0"/><circle cx="1049.7" cy="1222.6" r="4.0"/><circle cx="1066.5" cy="1089.0" r="4.0"/><circle cx="1025.5" cy="1103.4" r="4.0"/><circle cx="1083.4" cy="1118.1" r="4.0"/><circle cx="1035.9" cy="1114.2" r="4.0"/><circle cx="1083.5" cy="1297.6" r="4.0"/><circle cx="1019.4" cy="1115.7" r="4.0"/><circle cx="1067.9" cy="1222.0" r="4.0"/><circle cx="1068.5" cy="1111.3" r="4.0"/><circle cx="1030.7" cy="1115.0" r="4.0"/><circle cx="1064.8" cy="1138.0" r="4.0"/><circle cx="1070.6" cy="1124.0" r="4.0"/><circle cx="1046.6" cy="1082.6" r="4.0"/><circle cx="1014.1" cy="1115.1" r="4.0"/><circle cx="1020.0" cy="1299.0" r="4.0"/><circle cx="1075.1" cy="1100.1" r="4.0"/><circle cx="1079.1" cy="1315.6" r="4.0"/><circle cx="1079.0" cy="1111.7" r="4.0"/><circle cx="1062.8" cy="1094.7" r="4.0"/><circle cx="1023.6" cy="1310.5" r="4.0"/><circle cx="1060.1" cy="1094.2" r="4.0"/><circle cx="1063.7" cy="1285.2" r="4.0"/><circle cx="1043.2" cy="1311.8" r="4.0"/><circle cx="1018.2" cy="1114.3" r="4.0"/><circle cx="1079.6" cy="1105.8" r="4.0"/><circle cx="1023.1" cy="1088.4" r="4.0"/><circle cx="1012.9" cy="1112.2" r="4.0"/><circle cx="1022.9" cy="1108.7" r="4.0"/><circle cx="1048.7" cy="1093.1" r="4.0"/><circle cx="1051.8" cy="1131.0" r="4.0"/><circle cx="1048.7" cy="1200.4" r="4.0"/><circle cx="1015.3" cy="1311.0" r="4.0"/><circle cx="1015.0" cy="1101.6" r="4.0"/><circle cx="1154.4" cy="1100.6" r="4.0"/><circle cx="1135.1" cy="1138.8" r="4.0"/><circle cx="1122.1" cy="1093.6" r="4.0"/><circle cx="1119.4" cy="1112.6" r="4.0"/><circle cx="1170.2" cy="1125.6" r="4.0"/><circle cx="1142.5" cy="1107.4" r="4.0"/><circle cx="1132.2" cy="1130.0" r="4.0"/><circle cx="1168.1" cy="1095.1" r="4.0"/><circle cx="1099.1" cy="1151.6" r="4.0"/><circle cx="1127.3" cy="1123.5" r="4.0"/><circle cx="1109.5" cy="1086.9" r="4.0"/><circle cx="1152.5" cy="1094.2" r="4.0"/><circle cx="1098.8" cy="1096.1" r="4.0"/><circle cx="1157.2" cy="1096.5" r="4.0"/><circle cx="1146.3" cy="1109.3" r="4.0"/><circle cx="1111.0" cy="1107.6" r="4.0"/><circle cx="1120.1" cy="1083.7" r="4.0"/><circle cx="1116.8" cy="1086.1" r="4.0"/><circle cx="1125.0" cy="1115.2" r="4.0"/><circle cx="1144.1" cy="1108.0" r="4.0"/><circle cx="1124.0" cy="1101.0" r="4.0"/><circle cx="1140.9" cy="1133.8" r="4.0"/><circle cx="1137.8" cy="1105.4" r="4.0"/><circle cx="1122.2" cy="1107.4" r="4.0"/><circle cx="1114.8" cy="1137.3" r="4.0"/><circle cx="1161.3" cy="1140.6" r="4.0"/><circle cx="1109.5" cy="1133.5" r="4.0"/><circle cx="1171.1" cy="1109.7" r="4.0"/><circle cx="1110.1" cy="1099.7" r="4.0"/><circle cx="1114.9" cy="1121.0" r="4.0"/><circle cx="1109.1" cy="1113.4" r="4.0"/><circle cx="1118.6" cy="1142.6" r="4.0"/><circle cx="1148.8" cy="1090.0" r="4.0"/><circle cx="1139.2" cy="1102.3" r="4.0"/><circle cx="1166.5" cy="1109.2" r="4.0"/><circle cx="1125.7" cy="1110.0" r="4.0"/><circle cx="1134.5" cy="1081.8" r="4.0"/><circle cx="1140.4" cy="1098.8" r="4.0"/><circle cx="1132.0" cy="1115.9" r="4.0"/><circle cx="1134.6" cy="1089.5" r="4.0"/><circle cx="1145.4" cy="1108.4" r="4.0"/><circle cx="1118.3" cy="1148.4" r="4.0"/><circle cx="1103.6" cy="1106.6" r="4.0"/><circle cx="1114.9" cy="1126.2" r="4.0"/><circle cx="1157.1" cy="1128.5" r="4.0"/><circle cx="1165.0" cy="1098.1" r="4.0"/><circle cx="1129.3" cy="1109.5" r="4.0"/><circle cx="1168.2" cy="1112.0" r="4.0"/><circle cx="1133.5" cy="1108.8" r="4.0"/><circle cx="1160.4" cy="1099.8" r="4.0"/><circle cx="1123.0" cy="1109.4" r="4.0"/><circle cx="1113.4" cy="1095.4" r="4.0"/><circle cx="1157.6" cy="1128.9" r="4.0"/><circle cx="1166.1" cy="1152.0" r="4.0"/><circle cx="1157.1" cy="1118.8" r="4.0"/><circle cx="1158.0" cy="1120.3" r="4.0"/><circle cx="1110.5" cy="1126.3" r="4.0"/><circle cx="1120.0" cy="1127.3" r="4.0"/><circle cx="1166.3" cy="1097.7" r="4.0"/><circle cx="1135.7" cy="1084.5" r="4.0"/><circle cx="1156.7" cy="1102.1" r="4.0"/><circle cx="1165.6" cy="1114.8" r="4.0"/><circle cx="1145.6" cy="1140.0" r="4.0"/><circle cx="1147.3" cy="1087.8" r="4.0"/><circle cx="1171.0" cy="1090.7" r="4.0"/><circle cx="1120.6" cy="1132.4" r="4.0"/><circle cx="1149.4" cy="1094.9" r="4.0"/><circle cx="1171.2" cy="1123.2" r="4.0"/><circle cx="1106.7" cy="1115.4" r="4.0"/><circle cx="1101.7" cy="1121.2" r="4.0"/><circle cx="1154.9" cy="1132.1" r="4.0"/><circle cx="1162.8" cy="1125.1" r="4.0"/><circle cx="1168.1" cy="1112.7" r="4.0"/><circle cx="1134.2" cy="1116.3" r="4.0"/><circle cx="1123.8" cy="1104.0" r="4.0"/><circle cx="1109.4" cy="1084.5" r="4.0"/><circle cx="1114.5" cy="1125.8" r="4.0"/><circle cx="1155.4" cy="1117.0" r="4.0"/><circle cx="1136.0" cy="1119.3" r="4.0"/><circle cx="1117.8" cy="1100.9" r="4.0"/><circle cx="1145.9" cy="1094.9" r="4.0"/><circle cx="1168.0" cy="1118.8" r="4.0"/><circle cx="1166.8" cy="1101.5" r="4.0"/><circle cx="1119.1" cy="1137.0" r="4.0"/><circle cx="1143.8" cy="1143.6" r="4.0"/><circle cx="1155.4" cy="1146.1" r="4.0"/><circle cx="1118.2" cy="1101.7" r="4.0"/><circle cx="1133.9" cy="1110.4" r="4.0"/><circle cx="1162.0" cy="1085.6" r="4.0"/><circle cx="1132.8" cy="1111.0" r="4.0"/><circle cx="1116.0" cy="1122.3" r="4.0"/><circle cx="1140.9" cy="1095.5" r="4.0"/><circle cx="1121.9" cy="1097.5" r="4.0"/><circle cx="1101.2" cy="1088.2" r="4.0"/><circle cx="1136.8" cy="1102.6" r="4.0"/><circle cx="1145.3" cy="1142.9" r="4.0"/><circle cx="1127.8" cy="1105.3" r="4.0"/><circle cx="1132.8" cy="1097.3" r="4.0"/><circle cx="1106.4" cy="1145.2" r="4.0"/><circle cx="1148.7" cy="1106.2" r="4.0"/><circle cx="1138.9" cy="1123.5" r="4.0"/><circle cx="1167.7" cy="1116.4" r="4.0"/><circle cx="1116.1" cy="1135.9" r="4.0"/><circle cx="1172.1" cy="1111.3" r="4.0"/><circle cx="1111.5" cy="1110.6" r="4.0"/><circle cx="1101.6" cy="1123.7" r="4.0"/><circle cx="1138.6" cy="1093.0" r="4.0"/><circle cx="1151.3" cy="1099.0" r="4.0"/><circle cx="1121.2" cy="1121.2" r="4.0"/><circle cx="1145.9" cy="1123.8" r="4.0"/><circle cx="1131.5" cy="1120.0" r="4.0"/><circle cx="1105.3" cy="1106.1" r="4.0"/><circle cx="1168.9" cy="1108.1" r="4.0"/><circle cx="1101.5" cy="1134.3" r="4.0"/><circle cx="1117.5" cy="1088.3" r="4.0"/><circle cx="1217.8" cy="1099.5" r="4.0"/><circle cx="1216.9" cy="1089.1" r="4.0"/><circle cx="1240.8" cy="1097.3" r="4.0"/><circle cx="1233.7" cy="1094.6" r="4.0"/><circle cx="1231.2" cy="1099.2" r="4.0"/><circle cx="1238.3" cy="1085.7" r="4.0"/><circle cx="1189.1" cy="1089.1" r="4.0"/><circle cx="1186.3" cy="1095.7" r="4.0"/><circle cx="1214.3" cy="1087.1" r="4.0"/><circle cx="1192.9" cy="1095.6" r="4.0"/><circle cx="1248.9" cy="1107.8" r="4.0"/><circle cx="1229.1" cy="1095.9" r="4.0"/><circle cx="1258.8" cy="1093.2" r="4.0"/><circle cx="1207.8" cy="1088.8" r="4.0"/><circle cx="1249.9" cy="1091.4" r="4.0"/><circle cx="1215.8" cy="1096.2" r="4.0"/><circle cx="1251.5" cy="1094.5" r="4.0"/><circle cx="1244.3" cy="1092.1" r="4.0"/><circle cx="1218.6" cy="1099.7" r="4.0"/><circle cx="1217.8" cy="1094.0" r="4.0"/><circle cx="1208.7" cy="1095.4" r="4.0"/><circle cx="1215.8" cy="1098.1" r="4.0"/><circle cx="1243.0" cy="1093.0" r="4.0"/><circle cx="1220.5" cy="1095.4" r="4.0"/><circle cx="1219.1" cy="1104.1" r="4.0"/><circle cx="1252.3" cy="1094.2" r="4.0"/><circle cx="1243.9" cy="1110.2" r="4.0"/><circle cx="1235.3" cy="1094.6" r="4.0"/><circle cx="1207.2" cy="1100.4" r="4.0"/><circle cx="1256.2" cy="1100.0" r="4.0"/><circle cx="1235.2" cy="1098.7" r="4.0"/><circle cx="1234.0" cy="1095.1" r="4.0"/><circle cx="1242.8" cy="1091.5" r="4.0"/><circle cx="1258.5" cy="1096.7" r="4.0"/><circle cx="1238.4" cy="1093.6" r="4.0"/><circle cx="1216.2" cy="1083.1" r="4.0"/><circle cx="1204.5" cy="1100.9" r="4.0"/><circle cx="1201.6" cy="1098.0" r="4.0"/><circle cx="1259.5" cy="1094.5" r="4.0"/><circle cx="1253.5" cy="1090.9" r="4.0"/><circle cx="1228.7" cy="1086.5" r="4.0"/><circle cx="1247.8" cy="1102.3" r="4.0"/><circle cx="1229.3" cy="1094.4" r="4.0"/><circle cx="1242.1" cy="1099.8" r="4.0"/><circle cx="1228.4" cy="1100.5" r="4.0"/><circle cx="1237.9" cy="1092.0" r="4.0"/><circle cx="1225.8" cy="1097.1" r="4.0"/><circle cx="1195.2" cy="1154.2" r="4.0"/><circle cx="1209.4" cy="1101.3" r="4.0"/><circle cx="1256.3" cy="1100.1" r="4.0"/><circle cx="1227.5" cy="1092.5" r="4.0"/><circle cx="1222.1" cy="1096.6" r="4.0"/><circle cx="1231.9" cy="1090.2" r="4.0"/><circle cx="1234.7" cy="1104.6" r="4.0"/><circle cx="1245.5" cy="1092.7" r="4.0"/></g>
<polygon points="1574.1,1071.6 1574.6,1072.1 1575.2,1072.8 1575.9,1073.7 1576.8,1074.6 1578.0,1075.6 1579.4,1076.5 1581.3,1077.4 1583.5,1078.4 1586.0,1079.4 1588.5,1080.4 1590.9,1081.4 1593.1,1082.4 1595.0,1083.4 1596.9,1084.4 1598.6,1085.4 1600.2,1086.4 1601.6,1087.4 1602.9,1088.2 1604.0,1089.0 1604.9,1089.6 1605.7,1090.2 1606.3,1090.8 1606.7,1091.4 1606.8,1092.1 1606.7,1093.0 1606.3,1093.9 1605.7,1094.8 1604.9,1095.8 1604.0,1096.9 1602.9,1098.0 1601.6,1099.2 1600.1,1100.5 1598.4,1101.8 1596.6,1103.1 1594.8,1104.5 1593.1,1105.8 1591.4,1107.1 1589.6,1108.4 1587.8,1109.7 1586.2,1111.0 1584.6,1112.3 1583.3,1113.6 1582.3,1114.9 1581.5,1116.1 1580.9,1117.3 1580.4,1118.6 1579.9,1119.9 1579.4,1121.5 1579.0,1123.2 1578.7,1125.1 1578.4,1127.1 1578.2,1129.1 1577.9,1131.2 1577.5,1133.2 1576.9,1135.2 1576.3,1137.2 1575.6,1139.3 1574.9,1141.3 1574.2,1143.2 1573.6,1144.9 1573.0,1146.4 1572.5,1147.8 1572.0,1149.1 1571.5,1150.3 1570.9,1151.5 1570.3,1152.7 1569.8,1153.8 1569.3,1154.7 1568.8,1155.6 1568.4,1156.7 1568.0,1158.3 1567.8,1160.6 1567.8,1163.9 1567.8,1168.4 1567.8,1173.3 1567.8,1178.0 1567.8,1182.1 1567.8,1185.0 1566.8,1185.0 1566.8,1182.1 1566.8,1178.0 1566.8,1173.3 1566.8,1168.4 1566.8,1163.9 1566.8,1160.6 1566.6,1158.3 1566.2,1156.7 1565.8,1155.6 1565.3,1154.7 1564.8,1153.8 1564.3,1152.7 1563.7,1151.5 1563.1,1150.3 1562.6,1149.1 1562.1,1147.8 1561.6,1146.4 1561.0,1144.9 1560.4,1143.2 1559.7,1141.3 1559.0,1139.3 1558.3,1137.2 1557.7,1135.2 1557.1,1133.2 1556.7,1131.2 1556.4,1129.1 1556.2,1127.1 1555.9,1125.1 1555.6,1123.2 1555.2,1121.5 1554.7,1119.9 1554.2,1118.6 1553.7,1117.3 1553.1,1116.1 1552.3,1114.9 1551.3,1113.6 1550.0,1112.3 1548.4,1111.0 1546.8,1109.7 1545.0,1108.4 1543.2,1107.1 1541.5,1105.8 1539.8,1104.5 1538.0,1103.1 1536.2,1101.8 1534.5,1100.5 1533.0,1099.2 1531.7,1098.0 1530.6,1096.9 1529.7,1095.8 1528.9,1094.8 1528.3,1093.9 1527.9,1093.0 1527.8,1092.1 1527.9,1091.4 1528.3,1090.8 1528.9,1090.2 1529.7,1089.6 1530.6,1089.0 1531.7,1088.2 1533.0,1087.4 1534.4,1086.4 1536.0,1085.4 1537.7,1084.4 1539.6,1083.4 1541.5,1082.4 1543.7,1081.4 1546.1,1080.4 1548.6,1079.4 1551.1,1078.4 1553.3,1077.4 1555.2,1076.5 1556.6,1075.6 1557.8,1074.6 1558.7,1073.7 1559.4,1072.8 1560.0,1072.1 1560.5,1071.6" fill="#F2756C" stroke="#2b2b2b" stroke-width="2" stroke-linejoin="round"/>
<polygon points="1665.6,1068.7 1666.2,1068.7 1666.8,1068.7 1667.6,1068.7 1668.6,1068.9 1669.9,1069.1 1671.5,1069.7 1673.7,1070.4 1676.4,1071.5 1679.4,1072.7 1682.4,1073.9 1685.0,1075.2 1687.1,1076.5 1688.6,1077.8 1689.7,1079.1 1690.5,1080.5 1691.1,1081.8 1691.6,1083.1 1692.0,1084.3 1692.5,1085.4 1692.8,1086.4 1693.1,1087.4 1693.2,1088.3 1693.2,1089.2 1693.0,1090.2 1692.7,1091.2 1692.3,1092.1 1691.7,1093.1 1691.0,1094.1 1690.1,1095.1 1689.1,1096.0 1687.8,1097.0 1686.3,1097.9 1684.6,1098.9 1682.8,1099.8 1681.0,1100.8 1679.3,1101.9 1677.6,1103.1 1675.9,1104.3 1674.2,1105.6 1672.5,1106.9 1670.9,1108.3 1669.5,1109.7 1668.3,1111.2 1667.2,1112.8 1666.2,1114.5 1665.3,1116.2 1664.5,1117.9 1663.7,1119.5 1662.9,1121.1 1662.2,1122.6 1661.5,1124.1 1660.9,1125.7 1660.3,1127.4 1659.8,1129.3 1659.2,1131.3 1658.7,1133.5 1658.1,1135.9 1657.5,1138.3 1656.9,1140.6 1656.3,1143.0 1655.9,1145.2 1655.5,1147.3 1655.1,1149.4 1654.8,1151.6 1654.6,1154.0 1654.4,1156.6 1654.4,1159.8 1654.4,1163.4 1654.4,1167.3 1654.4,1170.9 1654.4,1174.0 1654.4,1176.2 1653.4,1176.2 1653.4,1174.0 1653.4,1170.9 1653.4,1167.3 1653.4,1163.4 1653.4,1159.8 1653.4,1156.6 1653.2,1154.0 1653.0,1151.6 1652.7,1149.4 1652.3,1147.3 1651.9,1145.2 1651.5,1143.0 1650.9,1140.6 1650.3,1138.3 1649.7,1135.9 1649.1,1133.5 1648.6,1131.3 1648.0,1129.3 1647.5,1127.4 1646.9,1125.7 1646.3,1124.1 1645.6,1122.6 1644.9,1121.1 1644.1,1119.5 1643.3,1117.9 1642.5,1116.2 1641.6,1114.5 1640.6,1112.8 1639.5,1111.2 1638.3,1109.7 1636.9,1108.3 1635.3,1106.9 1633.6,1105.6 1631.9,1104.3 1630.2,1103.1 1628.5,1101.9 1626.8,1100.8 1625.0,1099.8 1623.2,1098.9 1621.5,1097.9 1620.0,1097.0 1618.7,1096.0 1617.7,1095.1 1616.8,1094.1 1616.1,1093.1 1615.5,1092.1 1615.1,1091.2 1614.8,1090.2 1614.6,1089.2 1614.6,1088.3 1614.7,1087.4 1615.0,1086.4 1615.3,1085.4 1615.8,1084.3 1616.2,1083.1 1616.7,1081.8 1617.3,1080.5 1618.1,1079.1 1619.2,1077.8 1620.7,1076.5 1622.8,1075.2 1625.4,1073.9 1628.4,1072.7 1631.4,1071.5 1634.1,1070.4 1636.3,1069.7 1637.9,1069.1 1639.2,1068.9 1640.2,1068.7 1641.0,1068.7 1641.6,1068.7 1642.2,1068.7" fill="#A3A336" stroke="#2b2b2b" stroke-width="2" stroke-linejoin="round"/>
<polygon points="1767.9,1071.6 1769.1,1073.1 1771.0,1075.2 1773.1,1077.6 1775.3,1080.1 1777.2,1082.5 1778.6,1084.3 1779.5,1085.6 1780.1,1086.6 1780.4,1087.4 1780.6,1088.2 1780.6,1089.1 1780.6,1090.2 1780.5,1091.6 1780.2,1093.2 1779.9,1094.8 1779.4,1096.6 1778.6,1098.3 1777.6,1100.0 1776.3,1101.6 1774.6,1103.2 1772.7,1104.8 1770.7,1106.5 1768.7,1108.1 1766.9,1109.7 1765.2,1111.4 1763.4,1113.0 1761.7,1114.6 1760.0,1116.2 1758.5,1117.9 1757.1,1119.5 1755.9,1121.1 1754.8,1122.8 1753.8,1124.4 1752.9,1126.0 1752.1,1127.6 1751.3,1129.3 1750.5,1130.9 1749.7,1132.5 1749.1,1134.2 1748.4,1135.8 1747.9,1137.4 1747.3,1139.1 1746.9,1140.7 1746.5,1142.4 1746.2,1144.1 1746.0,1145.8 1745.7,1147.4 1745.4,1148.8 1745.0,1150.2 1744.7,1151.6 1744.2,1152.9 1743.7,1154.0 1743.3,1155.0 1742.9,1155.7 1738.1,1155.7 1737.7,1155.0 1737.3,1154.0 1736.8,1152.9 1736.3,1151.6 1736.0,1150.2 1735.6,1148.8 1735.3,1147.4 1735.0,1145.8 1734.8,1144.1 1734.5,1142.4 1734.1,1140.7 1733.7,1139.1 1733.1,1137.4 1732.6,1135.8 1731.9,1134.2 1731.3,1132.5 1730.5,1130.9 1729.7,1129.3 1728.9,1127.6 1728.1,1126.0 1727.2,1124.4 1726.2,1122.8 1725.1,1121.1 1723.9,1119.5 1722.5,1117.9 1721.0,1116.2 1719.3,1114.6 1717.6,1113.0 1715.8,1111.4 1714.1,1109.7 1712.3,1108.1 1710.3,1106.5 1708.3,1104.8 1706.4,1103.2 1704.7,1101.6 1703.4,1100.0 1702.4,1098.3 1701.6,1096.6 1701.1,1094.8 1700.8,1093.2 1700.5,1091.6 1700.4,1090.2 1700.4,1089.1 1700.4,1088.2 1700.6,1087.4 1700.9,1086.6 1701.5,1085.6 1702.4,1084.3 1703.8,1082.5 1705.7,1080.1 1707.9,1077.6 1710.0,1075.2 1711.9,1073.1 1713.1,1071.6" fill="#25B779" stroke="#2b2b2b" stroke-width="2" stroke-linejoin="round"/>
<polygon points="1842.3,1095.1 1843.8,1096.2 1845.8,1097.7 1848.1,1099.6 1850.6,1101.6 1853.0,1103.7 1855.1,1105.8 1856.8,1107.9 1858.5,1110.2 1860.1,1112.5 1861.6,1114.8 1862.8,1117.2 1863.8,1119.5 1864.6,1121.8 1865.0,1124.1 1865.3,1126.3 1865.5,1128.6 1865.6,1130.9 1865.8,1133.2 1866.0,1135.5 1866.3,1137.7 1866.5,1140.0 1866.6,1142.3 1866.7,1144.6 1866.8,1146.9 1866.8,1149.2 1866.7,1151.5 1866.5,1153.8 1866.3,1156.1 1866.1,1158.4 1865.8,1160.6 1865.5,1162.6 1865.2,1164.7 1864.8,1166.7 1864.3,1168.6 1863.7,1170.5 1862.9,1172.3 1861.8,1174.0 1860.6,1175.7 1859.3,1177.3 1857.8,1178.9 1856.4,1180.4 1855.1,1182.1 1853.7,1183.7 1852.4,1185.3 1851.0,1187.0 1849.7,1188.6 1848.4,1190.3 1847.2,1191.8 1846.1,1193.3 1845.0,1194.8 1843.9,1196.3 1842.9,1197.7 1842.0,1199.2 1841.2,1200.6 1840.5,1202.1 1839.8,1203.5 1839.3,1205.0 1838.8,1206.4 1838.4,1207.9 1837.9,1209.4 1837.3,1210.9 1836.9,1212.4 1836.4,1213.9 1835.9,1215.5 1835.4,1217.2 1834.9,1219.0 1834.3,1221.1 1833.7,1223.4 1833.0,1225.8 1832.4,1228.1 1831.8,1230.3 1831.4,1232.1 1831.1,1233.2 1830.8,1233.5 1830.6,1233.7 1830.5,1234.2 1830.5,1235.4 1830.4,1238.0 1830.3,1242.3 1830.4,1248.3 1830.4,1255.0 1830.5,1261.7 1830.5,1267.6 1830.4,1272.0 1830.2,1274.3 1830.0,1275.3 1829.8,1275.4 1829.5,1275.4 1829.2,1275.7 1829.0,1277.0 1828.7,1279.2 1828.5,1281.8 1828.2,1284.8 1827.9,1288.1 1827.7,1291.9 1827.6,1296.0 1827.6,1301.1 1827.6,1307.2 1827.6,1313.7 1827.6,1320.0 1827.6,1325.3 1827.6,1329.0 1826.6,1329.0 1826.6,1325.3 1826.6,1320.0 1826.6,1313.7 1826.6,1307.2 1826.6,1301.1 1826.6,1296.0 1826.5,1291.9 1826.3,1288.1 1826.0,1284.8 1825.7,1281.8 1825.5,1279.2 1825.2,1277.0 1825.0,1275.7 1824.7,1275.4 1824.4,1275.4 1824.2,1275.3 1824.0,1274.3 1823.8,1272.0 1823.7,1267.6 1823.7,1261.7 1823.8,1255.0 1823.8,1248.3 1823.9,1242.3 1823.8,1238.0 1823.7,1235.4 1823.7,1234.2 1823.6,1233.7 1823.4,1233.5 1823.1,1233.2 1822.8,1232.1 1822.4,1230.3 1821.8,1228.1 1821.2,1225.8 1820.5,1223.4 1819.9,1221.1 1819.3,1219.0 1818.8,1217.2 1818.3,1215.5 1817.8,1213.9 1817.3,1212.4 1816.9,1210.9 1816.3,1209.4 1815.8,1207.9 1815.4,1206.4 1814.9,1205.0 1814.4,1203.5 1813.7,1202.1 1813.0,1200.6 1812.2,1199.2 1811.3,1197.7 1810.3,1196.3 1809.2,1194.8 1808.1,1193.3 1807.0,1191.8 1805.8,1190.3 1804.5,1188.6 1803.2,1187.0 1801.8,1185.3 1800.5,1183.7 1799.1,1182.1 1797.8,1180.4 1796.4,1178.9 1794.9,1177.3 1793.6,1175.7 1792.4,1174.0 1791.3,1172.3 1790.5,1170.5 1789.9,1168.6 1789.4,1166.7 1789.0,1164.7 1788.7,1162.6 1788.4,1160.6 1788.1,1158.4 1787.9,1156.1 1787.7,1153.8 1787.5,1151.5 1787.4,1149.2 1787.4,1146.9 1787.5,1144.6 1787.6,1142.3 1787.7,1140.0 1787.9,1137.7 1788.2,1135.5 1788.4,1133.2 1788.6,1130.9 1788.7,1128.6 1788.9,1126.3 1789.2,1124.1 1789.6,1121.8 1790.4,1119.5 1791.4,1117.2 1792.6,1114.8 1794.1,1112.5 1795.7,1110.2 1797.4,1107.9 1799.1,1105.8 1801.2,1103.7 1803.6,1101.6 1806.1,1099.6 1808.4,1097.7 1810.4,1096.2 1811.9,1095.1" fill="#30A9E1" stroke="#2b2b2b" stroke-width="2" stroke-linejoin="round"/>
<polygon points="1930.3,1080.4 1931.5,1081.2 1933.1,1082.4 1935.1,1083.7 1937.2,1085.2 1939.2,1086.7 1941.1,1088.2 1942.8,1089.8 1944.7,1091.6 1946.5,1093.4 1948.2,1095.1 1949.7,1096.7 1950.8,1098.0 1951.7,1099.0 1952.3,1099.7 1952.7,1100.2 1952.9,1100.7 1952.9,1101.2 1952.8,1101.9 1952.5,1102.8 1952.1,1103.6 1951.6,1104.6 1950.8,1105.6 1949.9,1106.7 1948.9,1107.8 1947.6,1109.0 1946.1,1110.2 1944.4,1111.6 1942.6,1112.9 1940.8,1114.3 1939.1,1115.6 1937.4,1116.9 1935.7,1118.1 1934.0,1119.4 1932.3,1120.7 1930.7,1122.0 1929.3,1123.4 1928.1,1124.9 1927.0,1126.5 1926.0,1128.2 1925.1,1129.9 1924.2,1131.5 1923.5,1133.2 1922.8,1134.8 1922.2,1136.4 1921.8,1138.1 1921.3,1139.7 1920.9,1141.3 1920.5,1143.0 1920.2,1144.6 1919.8,1146.1 1919.5,1147.7 1919.2,1149.3 1918.9,1151.0 1918.6,1152.7 1918.3,1154.6 1917.9,1156.6 1917.5,1158.6 1917.0,1160.6 1916.6,1162.6 1916.1,1164.5 1915.7,1166.3 1915.3,1168.2 1915.0,1170.1 1914.6,1171.8 1914.4,1173.2 1914.2,1174.2 1913.2,1174.2 1913.0,1173.2 1912.8,1171.8 1912.4,1170.1 1912.1,1168.2 1911.7,1166.3 1911.3,1164.5 1910.8,1162.6 1910.4,1160.6 1909.9,1158.6 1909.5,1156.6 1909.1,1154.6 1908.8,1152.7 1908.5,1151.0 1908.2,1149.3 1907.9,1147.7 1907.6,1146.1 1907.2,1144.6 1906.9,1143.0 1906.5,1141.3 1906.1,1139.7 1905.6,1138.1 1905.2,1136.4 1904.6,1134.8 1903.9,1133.2 1903.2,1131.5 1902.3,1129.9 1901.4,1128.2 1900.4,1126.5 1899.3,1124.9 1898.1,1123.4 1896.7,1122.0 1895.1,1120.7 1893.4,1119.4 1891.7,1118.1 1890.0,1116.9 1888.3,1115.6 1886.6,1114.3 1884.8,1112.9 1883.0,1111.6 1881.3,1110.2 1879.8,1109.0 1878.5,1107.8 1877.5,1106.7 1876.6,1105.6 1875.8,1104.6 1875.3,1103.6 1874.9,1102.8 1874.6,1101.9 1874.5,1101.2 1874.5,1100.7 1874.7,1100.2 1875.1,1099.7 1875.7,1099.0 1876.6,1098.0 1877.7,1096.7 1879.2,1095.1 1880.9,1093.4 1882.7,1091.6 1884.6,1089.8 1886.3,1088.2 1888.2,1086.7 1890.2,1085.2 1892.3,1083.7 1894.3,1082.4 1895.9,1081.2 1897.1,1080.4" fill="#BF70BF" stroke="#2b2b2b" stroke-width="2" stroke-linejoin="round"/>
<g fill="#000"><circle cx="1541.4" cy="1094.2" r="4.0"/><circle cx="1564.4" cy="1100.5" r="4.0"/><circle cx="1603.2" cy="1097.7" r="4.0"/><circle cx="1600.4" cy="1099.1" r="4.0"/><circle cx="1586.2" cy="1092.2" r="4.0"/><circle cx="1552.7" cy="1081.6" r="4.0"/><circle cx="1581.2" cy="1104.2" r="4.0"/><circle cx="1558.6" cy="1113.9" r="4.0"/><circle cx="1557.0" cy="1089.8" r="4.0"/><circle cx="1532.6" cy="1098.0" r="4.0"/><circle cx="1578.8" cy="1092.8" r="4.0"/><circle cx="1553.5" cy="1085.2" r="4.0"/><circle cx="1598.9" cy="1119.8" r="4.0"/><circle cx="1543.8" cy="1089.0" r="4.0"/><circle cx="1537.1" cy="1083.9" r="4.0"/><circle cx="1584.7" cy="1110.6" r="4.0"/><circle cx="1566.5" cy="1089.5" r="4.0"/><circle cx="1532.9" cy="1104.4" r="4.0"/><circle cx="1593.5" cy="1112.9" r="4.0"/><circle cx="1582.2" cy="1087.7" r="4.0"/><circle cx="1555.4" cy="1104.6" r="4.0"/><circle cx="1546.7" cy="1120.8" r="4.0"/><circle cx="1553.7" cy="1095.9" r="4.0"/><circle cx="1590.1" cy="1094.9" r="4.0"/><circle cx="1575.3" cy="1099.1" r="4.0"/><circle cx="1547.1" cy="1146.1" r="4.0"/><circle cx="1576.0" cy="1088.1" r="4.0"/><circle cx="1601.2" cy="1085.3" r="4.0"/><circle cx="1562.9" cy="1091.8" r="4.0"/><circle cx="1591.2" cy="1094.5" r="4.0"/><circle cx="1580.2" cy="1127.3" r="4.0"/><circle cx="1556.7" cy="1086.2" r="4.0"/><circle cx="1546.6" cy="1105.0" r="4.0"/><circle cx="1594.5" cy="1121.4" r="4.0"/><circle cx="1557.4" cy="1088.2" r="4.0"/><circle cx="1583.3" cy="1088.3" r="4.0"/><circle cx="1581.6" cy="1079.6" r="4.0"/><circle cx="1592.2" cy="1080.8" r="4.0"/><circle cx="1573.4" cy="1098.2" r="4.0"/><circle cx="1534.0" cy="1082.7" r="4.0"/><circle cx="1602.7" cy="1092.2" r="4.0"/><circle cx="1593.7" cy="1100.3" r="4.0"/><circle cx="1538.2" cy="1080.8" r="4.0"/><circle cx="1581.7" cy="1076.7" r="4.0"/><circle cx="1550.7" cy="1086.4" r="4.0"/><circle cx="1581.6" cy="1103.1" r="4.0"/><circle cx="1564.9" cy="1091.3" r="4.0"/><circle cx="1571.8" cy="1090.2" r="4.0"/><circle cx="1557.1" cy="1092.3" r="4.0"/><circle cx="1552.1" cy="1089.0" r="4.0"/><circle cx="1532.0" cy="1089.4" r="4.0"/><circle cx="1574.0" cy="1090.9" r="4.0"/><circle cx="1539.0" cy="1089.6" r="4.0"/><circle cx="1565.0" cy="1116.0" r="4.0"/><circle cx="1553.6" cy="1097.1" r="4.0"/><circle cx="1585.8" cy="1122.2" r="4.0"/><circle cx="1578.9" cy="1101.2" r="4.0"/><circle cx="1567.3" cy="1104.3" r="4.0"/><circle cx="1559.3" cy="1094.0" r="4.0"/><circle cx="1565.0" cy="1096.9" r="4.0"/><circle cx="1569.7" cy="1097.7" r="4.0"/><circle cx="1596.0" cy="1110.1" r="4.0"/><circle cx="1532.4" cy="1088.1" r="4.0"/><circle cx="1533.1" cy="1090.6" r="4.0"/><circle cx="1576.1" cy="1110.8" r="4.0"/><circle cx="1544.8" cy="1090.1" r="4.0"/><circle cx="1591.8" cy="1119.2" r="4.0"/><circle cx="1581.3" cy="1103.9" r="4.0"/><circle cx="1564.0" cy="1107.1" r="4.0"/><circle cx="1571.2" cy="1093.5" r="4.0"/><circle cx="1603.2" cy="1121.1" r="4.0"/><circle cx="1591.8" cy="1127.6" r="4.0"/><circle cx="1548.8" cy="1081.6" r="4.0"/><circle cx="1570.5" cy="1139.9" r="4.0"/><circle cx="1553.4" cy="1097.2" r="4.0"/><circle cx="1568.5" cy="1118.2" r="4.0"/><circle cx="1536.3" cy="1148.1" r="4.0"/><circle cx="1531.8" cy="1150.3" r="4.0"/><circle cx="1559.2" cy="1085.2" r="4.0"/><circle cx="1538.9" cy="1101.9" r="4.0"/><circle cx="1599.4" cy="1098.9" r="4.0"/><circle cx="1586.5" cy="1094.7" r="4.0"/><circle cx="1573.3" cy="1100.0" r="4.0"/><circle cx="1564.7" cy="1086.2" r="4.0"/><circle cx="1580.0" cy="1124.5" r="4.0"/><circle cx="1563.4" cy="1087.9" r="4.0"/><circle cx="1555.4" cy="1098.2" r="4.0"/><circle cx="1576.9" cy="1099.4" r="4.0"/><circle cx="1546.9" cy="1076.2" r="4.0"/><circle cx="1546.4" cy="1102.6" r="4.0"/><circle cx="1586.4" cy="1081.5" r="4.0"/><circle cx="1600.7" cy="1091.6" r="4.0"/><circle cx="1538.2" cy="1098.7" r="4.0"/><circle cx="1549.9" cy="1101.7" r="4.0"/><circle cx="1583.7" cy="1112.4" r="4.0"/><circle cx="1535.0" cy="1108.0" r="4.0"/><circle cx="1589.0" cy="1078.4" r="4.0"/><circle cx="1545.5" cy="1084.9" r="4.0"/><circle cx="1542.7" cy="1077.9" r="4.0"/><circle cx="1600.7" cy="1095.9" r="4.0"/><circle cx="1549.7" cy="1091.2" r="4.0"/><circle cx="1544.3" cy="1113.8" r="4.0"/><circle cx="1575.7" cy="1101.7" r="4.0"/><circle cx="1534.0" cy="1131.2" r="4.0"/><circle cx="1558.7" cy="1098.9" r="4.0"/><circle cx="1549.2" cy="1113.4" r="4.0"/><circle cx="1544.3" cy="1105.4" r="4.0"/><circle cx="1601.5" cy="1096.6" r="4.0"/><circle cx="1551.2" cy="1088.7" r="4.0"/><circle cx="1580.0" cy="1127.7" r="4.0"/><circle cx="1544.4" cy="1081.0" r="4.0"/><circle cx="1552.0" cy="1088.6" r="4.0"/><circle cx="1581.9" cy="1115.8" r="4.0"/><circle cx="1579.7" cy="1142.9" r="4.0"/><circle cx="1558.8" cy="1101.4" r="4.0"/><circle cx="1566.8" cy="1105.6" r="4.0"/><circle cx="1566.7" cy="1080.5" r="4.0"/><circle cx="1569.6" cy="1093.1" r="4.0"/><circle cx="1532.8" cy="1079.8" r="4.0"/><circle cx="1557.9" cy="1144.2" r="4.0"/><circle cx="1541.6" cy="1091.5" r="4.0"/><circle cx="1597.6" cy="1100.0" r="4.0"/><circle cx="1567.3" cy="1086.5" r="4.0"/><circle cx="1586.7" cy="1096.7" r="4.0"/><circle cx="1548.2" cy="1099.0" r="4.0"/><circle cx="1583.7" cy="1086.9" r="4.0"/><circle cx="1593.9" cy="1081.8" r="4.0"/><circle cx="1544.6" cy="1078.4" r="4.0"/><circle cx="1592.4" cy="1095.7" r="4.0"/><circle cx="1585.2" cy="1101.0" r="4.0"/><circle cx="1583.5" cy="1108.1" r="4.0"/><circle cx="1591.0" cy="1080.0" r="4.0"/><circle cx="1542.6" cy="1085.2" r="4.0"/><circle cx="1532.9" cy="1078.8" r="4.0"/><circle cx="1558.6" cy="1120.5" r="4.0"/><circle cx="1534.2" cy="1082.3" r="4.0"/><circle cx="1574.7" cy="1116.0" r="4.0"/><circle cx="1533.5" cy="1127.5" r="4.0"/><circle cx="1551.7" cy="1083.6" r="4.0"/><circle cx="1539.0" cy="1086.9" r="4.0"/><circle cx="1577.5" cy="1087.3" r="4.0"/><circle cx="1543.1" cy="1086.0" r="4.0"/><circle cx="1558.2" cy="1097.9" r="4.0"/><circle cx="1572.3" cy="1085.3" r="4.0"/><circle cx="1559.1" cy="1097.0" r="4.0"/><circle cx="1533.7" cy="1095.9" r="4.0"/><circle cx="1544.9" cy="1100.9" r="4.0"/><circle cx="1531.5" cy="1091.7" r="4.0"/><circle cx="1573.7" cy="1122.3" r="4.0"/><circle cx="1570.4" cy="1093.3" r="4.0"/><circle cx="1540.4" cy="1132.2" r="4.0"/><circle cx="1582.5" cy="1093.1" r="4.0"/><circle cx="1582.4" cy="1092.7" r="4.0"/><circle cx="1533.8" cy="1126.0" r="4.0"/><circle cx="1552.2" cy="1090.1" r="4.0"/><circle cx="1588.1" cy="1107.5" r="4.0"/><circle cx="1598.3" cy="1104.6" r="4.0"/><circle cx="1559.5" cy="1086.7" r="4.0"/><circle cx="1586.7" cy="1116.9" r="4.0"/><circle cx="1602.3" cy="1083.6" r="4.0"/><circle cx="1594.0" cy="1106.9" r="4.0"/><circle cx="1575.0" cy="1092.4" r="4.0"/><circle cx="1596.3" cy="1136.5" r="4.0"/><circle cx="1595.8" cy="1099.4" r="4.0"/><circle cx="1592.1" cy="1168.9" r="4.0"/><circle cx="1600.9" cy="1102.6" r="4.0"/><circle cx="1560.3" cy="1085.0" r="4.0"/><circle cx="1540.4" cy="1098.9" r="4.0"/><circle cx="1535.3" cy="1109.5" r="4.0"/><circle cx="1551.2" cy="1101.4" r="4.0"/><circle cx="1575.1" cy="1091.3" r="4.0"/><circle cx="1563.5" cy="1086.9" r="4.0"/><circle cx="1602.8" cy="1117.5" r="4.0"/><circle cx="1557.5" cy="1089.4" r="4.0"/><circle cx="1544.7" cy="1104.3" r="4.0"/><circle cx="1545.3" cy="1116.4" r="4.0"/><circle cx="1555.6" cy="1098.7" r="4.0"/><circle cx="1530.9" cy="1072.0" r="4.0"/><circle cx="1554.8" cy="1072.3" r="4.0"/><circle cx="1603.2" cy="1089.8" r="4.0"/><circle cx="1535.6" cy="1101.8" r="4.0"/><circle cx="1547.8" cy="1105.5" r="4.0"/><circle cx="1583.6" cy="1096.1" r="4.0"/><circle cx="1599.1" cy="1117.4" r="4.0"/><circle cx="1554.0" cy="1094.2" r="4.0"/><circle cx="1553.6" cy="1093.5" r="4.0"/><circle cx="1564.6" cy="1106.9" r="4.0"/><circle cx="1541.9" cy="1103.9" r="4.0"/><circle cx="1601.4" cy="1109.7" r="4.0"/><circle cx="1575.8" cy="1087.4" r="4.0"/><circle cx="1533.4" cy="1085.8" r="4.0"/><circle cx="1544.2" cy="1094.0" r="4.0"/><circle cx="1572.6" cy="1106.3" r="4.0"/><circle cx="1601.5" cy="1103.4" r="4.0"/><circle cx="1538.0" cy="1080.5" r="4.0"/><circle cx="1564.3" cy="1078.6" r="4.0"/><circle cx="1580.7" cy="1113.4" r="4.0"/><circle cx="1593.3" cy="1098.4" r="4.0"/><circle cx="1539.0" cy="1092.7" r="4.0"/><circle cx="1532.7" cy="1101.9" r="4.0"/><circle cx="1619.6" cy="1080.6" r="4.0"/><circle cx="1622.1" cy="1077.9" r="4.0"/><circle cx="1626.8" cy="1091.5" r="4.0"/><circle cx="1677.6" cy="1094.1" r="4.0"/><circle cx="1626.2" cy="1084.9" r="4.0"/><circle cx="1670.6" cy="1096.8" r="4.0"/><circle cx="1657.8" cy="1111.1" r="4.0"/><circle cx="1680.4" cy="1093.3" r="4.0"/><circle cx="1688.6" cy="1097.0" r="4.0"/><circle cx="1673.9" cy="1082.8" r="4.0"/><circle cx="1651.6" cy="1095.3" r="4.0"/><circle cx="1652.2" cy="1069.8" r="4.0"/><circle cx="1661.3" cy="1081.9" r="4.0"/><circle cx="1654.7" cy="1090.7" r="4.0"/><circle cx="1627.0" cy="1073.2" r="4.0"/><circle cx="1667.2" cy="1094.3" r="4.0"/><circle cx="1675.3" cy="1140.8" r="4.0"/><circle cx="1650.7" cy="1082.9" r="4.0"/><circle cx="1676.1" cy="1090.6" r="4.0"/><circle cx="1684.6" cy="1086.7" r="4.0"/><circle cx="1646.5" cy="1089.8" r="4.0"/><circle cx="1643.5" cy="1089.7" r="4.0"/><circle cx="1620.8" cy="1169.8" r="4.0"/><circle cx="1623.2" cy="1086.8" r="4.0"/><circle cx="1628.4" cy="1097.1" r="4.0"/><circle cx="1648.3" cy="1077.4" r="4.0"/><circle cx="1673.1" cy="1094.1" r="4.0"/><circle cx="1638.9" cy="1088.4" r="4.0"/><circle cx="1682.2" cy="1085.7" r="4.0"/><circle cx="1618.2" cy="1080.0" r="4.0"/><circle cx="1652.7" cy="1111.3" r="4.0"/><circle cx="1627.3" cy="1076.7" r="4.0"/><circle cx="1672.1" cy="1111.9" r="4.0"/><circle cx="1666.7" cy="1073.5" r="4.0"/><circle cx="1650.0" cy="1080.0" r="4.0"/><circle cx="1621.1" cy="1094.2" r="4.0"/><circle cx="1641.9" cy="1119.1" r="4.0"/><circle cx="1674.4" cy="1077.2" r="4.0"/><circle cx="1620.1" cy="1075.7" r="4.0"/><circle cx="1651.7" cy="1096.0" r="4.0"/><circle cx="1675.1" cy="1113.3" r="4.0"/><circle cx="1620.7" cy="1079.7" r="4.0"/><circle cx="1651.7" cy="1094.1" r="4.0"/><circle cx="1684.3" cy="1083.3" r="4.0"/><circle cx="1664.4" cy="1079.8" r="4.0"/><circle cx="1684.8" cy="1074.0" r="4.0"/><circle cx="1662.5" cy="1122.0" r="4.0"/><circle cx="1670.2" cy="1084.0" r="4.0"/><circle cx="1675.4" cy="1113.7" r="4.0"/><circle cx="1654.2" cy="1072.1" r="4.0"/><circle cx="1657.3" cy="1077.0" r="4.0"/><circle cx="1680.5" cy="1122.3" r="4.0"/><circle cx="1657.7" cy="1081.3" r="4.0"/><circle cx="1629.7" cy="1083.9" r="4.0"/><circle cx="1672.8" cy="1100.2" r="4.0"/><circle cx="1648.1" cy="1084.6" r="4.0"/><circle cx="1670.5" cy="1097.9" r="4.0"/><circle cx="1626.0" cy="1089.1" r="4.0"/><circle cx="1629.8" cy="1075.1" r="4.0"/><circle cx="1653.6" cy="1105.4" r="4.0"/><circle cx="1644.0" cy="1095.7" r="4.0"/><circle cx="1630.2" cy="1085.8" r="4.0"/><circle cx="1661.6" cy="1130.5" r="4.0"/><circle cx="1668.7" cy="1076.6" r="4.0"/><circle cx="1662.2" cy="1093.9" r="4.0"/><circle cx="1661.8" cy="1101.6" r="4.0"/><circle cx="1688.2" cy="1110.2" r="4.0"/><circle cx="1664.7" cy="1087.1" r="4.0"/><circle cx="1647.4" cy="1085.9" r="4.0"/><circle cx="1664.7" cy="1085.7" r="4.0"/><circle cx="1643.1" cy="1085.2" r="4.0"/><circle cx="1675.8" cy="1107.2" r="4.0"/><circle cx="1679.0" cy="1097.0" r="4.0"/><circle cx="1664.3" cy="1086.4" r="4.0"/><circle cx="1640.4" cy="1081.4" r="4.0"/><circle cx="1675.7" cy="1075.3" r="4.0"/><circle cx="1639.5" cy="1116.4" r="4.0"/><circle cx="1625.9" cy="1086.1" r="4.0"/><circle cx="1664.0" cy="1077.1" r="4.0"/><circle cx="1623.5" cy="1112.1" r="4.0"/><circle cx="1672.8" cy="1081.6" r="4.0"/><circle cx="1681.5" cy="1080.5" r="4.0"/><circle cx="1652.0" cy="1085.2" r="4.0"/><circle cx="1638.6" cy="1079.5" r="4.0"/><circle cx="1637.7" cy="1087.7" r="4.0"/><circle cx="1619.6" cy="1099.4" r="4.0"/><circle cx="1676.0" cy="1095.5" r="4.0"/><circle cx="1631.4" cy="1084.2" r="4.0"/><circle cx="1623.1" cy="1076.2" r="4.0"/><circle cx="1661.4" cy="1103.0" r="4.0"/><circle cx="1650.5" cy="1070.2" r="4.0"/><circle cx="1640.7" cy="1093.9" r="4.0"/><circle cx="1648.1" cy="1071.7" r="4.0"/><circle cx="1688.4" cy="1085.2" r="4.0"/><circle cx="1684.7" cy="1085.4" r="4.0"/><circle cx="1659.3" cy="1109.3" r="4.0"/><circle cx="1676.4" cy="1076.5" r="4.0"/><circle cx="1658.1" cy="1074.8" r="4.0"/><circle cx="1624.2" cy="1075.2" r="4.0"/><circle cx="1628.8" cy="1087.2" r="4.0"/><circle cx="1659.6" cy="1142.4" r="4.0"/><circle cx="1687.2" cy="1112.8" r="4.0"/><circle cx="1664.5" cy="1100.9" r="4.0"/><circle cx="1674.2" cy="1089.4" r="4.0"/><circle cx="1628.9" cy="1096.7" r="4.0"/><circle cx="1647.6" cy="1091.4" r="4.0"/><circle cx="1669.5" cy="1090.9" r="4.0"/><circle cx="1659.0" cy="1097.6" r="4.0"/><circle cx="1677.6" cy="1102.8" r="4.0"/><circle cx="1628.0" cy="1074.9" r="4.0"/><circle cx="1629.1" cy="1072.5" r="4.0"/><circle cx="1640.0" cy="1124.7" r="4.0"/><circle cx="1651.4" cy="1088.2" r="4.0"/><circle cx="1637.8" cy="1092.7" r="4.0"/><circle cx="1641.6" cy="1102.2" r="4.0"/><circle cx="1676.1" cy="1107.1" r="4.0"/><circle cx="1657.4" cy="1068.8" r="4.0"/><circle cx="1681.9" cy="1074.9" r="4.0"/><circle cx="1636.9" cy="1073.8" r="4.0"/><circle cx="1660.5" cy="1101.6" r="4.0"/><circle cx="1647.6" cy="1096.6" r="4.0"/><circle cx="1632.2" cy="1091.1" r="4.0"/><circle cx="1636.2" cy="1089.1" r="4.0"/><circle cx="1625.2" cy="1097.0" r="4.0"/><circle cx="1631.8" cy="1076.9" r="4.0"/><circle cx="1659.9" cy="1091.5" r="4.0"/><circle cx="1689.5" cy="1069.0" r="4.0"/><circle cx="1645.1" cy="1106.2" r="4.0"/><circle cx="1677.7" cy="1077.8" r="4.0"/><circle cx="1630.4" cy="1131.5" r="4.0"/><circle cx="1677.1" cy="1100.8" r="4.0"/><circle cx="1632.6" cy="1119.4" r="4.0"/><circle cx="1629.4" cy="1076.2" r="4.0"/><circle cx="1683.1" cy="1080.7" r="4.0"/><circle cx="1652.0" cy="1114.6" r="4.0"/><circle cx="1643.1" cy="1076.5" r="4.0"/><circle cx="1664.7" cy="1081.0" r="4.0"/><circle cx="1674.1" cy="1099.0" r="4.0"/><circle cx="1650.8" cy="1088.2" r="4.0"/><circle cx="1644.4" cy="1089.2" r="4.0"/><circle cx="1667.4" cy="1088.8" r="4.0"/><circle cx="1641.2" cy="1098.6" r="4.0"/><circle cx="1628.0" cy="1092.8" r="4.0"/><circle cx="1645.6" cy="1072.4" r="4.0"/><circle cx="1619.8" cy="1085.4" r="4.0"/><circle cx="1648.5" cy="1074.3" r="4.0"/><circle cx="1678.5" cy="1120.5" r="4.0"/><circle cx="1640.5" cy="1071.4" r="4.0"/><circle cx="1640.1" cy="1085.7" r="4.0"/><circle cx="1660.5" cy="1076.9" r="4.0"/><circle cx="1645.3" cy="1106.5" r="4.0"/><circle cx="1625.1" cy="1078.5" r="4.0"/><circle cx="1673.3" cy="1070.2" r="4.0"/><circle cx="1670.3" cy="1080.7" r="4.0"/><circle cx="1623.5" cy="1102.9" r="4.0"/><circle cx="1640.4" cy="1079.0" r="4.0"/><circle cx="1671.2" cy="1101.6" r="4.0"/><circle cx="1650.4" cy="1083.4" r="4.0"/><circle cx="1651.8" cy="1085.3" r="4.0"/><circle cx="1636.5" cy="1103.1" r="4.0"/><circle cx="1771.2" cy="1114.2" r="4.0"/><circle cx="1774.0" cy="1100.9" r="4.0"/><circle cx="1716.5" cy="1131.7" r="4.0"/><circle cx="1718.6" cy="1150.0" r="4.0"/><circle cx="1712.8" cy="1113.7" r="4.0"/><circle cx="1736.3" cy="1087.5" r="4.0"/><circle cx="1753.7" cy="1116.9" r="4.0"/><circle cx="1769.5" cy="1083.0" r="4.0"/><circle cx="1741.2" cy="1119.8" r="4.0"/><circle cx="1724.9" cy="1074.8" r="4.0"/><circle cx="1734.6" cy="1087.1" r="4.0"/><circle cx="1747.4" cy="1132.8" r="4.0"/><circle cx="1709.2" cy="1115.0" r="4.0"/><circle cx="1757.4" cy="1084.9" r="4.0"/><circle cx="1720.6" cy="1089.2" r="4.0"/><circle cx="1707.7" cy="1075.6" r="4.0"/><circle cx="1743.9" cy="1092.3" r="4.0"/><circle cx="1745.2" cy="1091.8" r="4.0"/><circle cx="1705.2" cy="1087.0" r="4.0"/><circle cx="1728.5" cy="1104.7" r="4.0"/><circle cx="1731.6" cy="1095.8" r="4.0"/><circle cx="1707.8" cy="1086.1" r="4.0"/><circle cx="1725.8" cy="1087.2" r="4.0"/><circle cx="1706.2" cy="1078.5" r="4.0"/><circle cx="1705.4" cy="1095.3" r="4.0"/><circle cx="1730.3" cy="1121.6" r="4.0"/><circle cx="1742.4" cy="1093.7" r="4.0"/><circle cx="1711.4" cy="1073.2" r="4.0"/><circle cx="1744.6" cy="1112.1" r="4.0"/><circle cx="1729.1" cy="1095.9" r="4.0"/><circle cx="1740.7" cy="1109.5" r="4.0"/><circle cx="1765.0" cy="1112.6" r="4.0"/><circle cx="1757.0" cy="1123.7" r="4.0"/><circle cx="1737.7" cy="1104.7" r="4.0"/><circle cx="1746.3" cy="1097.7" r="4.0"/><circle cx="1763.8" cy="1097.4" r="4.0"/><circle cx="1707.8" cy="1119.0" r="4.0"/><circle cx="1749.0" cy="1109.6" r="4.0"/><circle cx="1770.3" cy="1100.8" r="4.0"/><circle cx="1738.7" cy="1074.8" r="4.0"/><circle cx="1773.2" cy="1090.7" r="4.0"/><circle cx="1745.1" cy="1081.1" r="4.0"/><circle cx="1759.0" cy="1080.1" r="4.0"/><circle cx="1757.7" cy="1095.7" r="4.0"/><circle cx="1768.5" cy="1087.7" r="4.0"/><circle cx="1720.4" cy="1072.1" r="4.0"/><circle cx="1768.2" cy="1108.3" r="4.0"/><circle cx="1724.1" cy="1111.4" r="4.0"/><circle cx="1755.8" cy="1076.6" r="4.0"/><circle cx="1708.4" cy="1108.2" r="4.0"/><circle cx="1742.5" cy="1131.0" r="4.0"/><circle cx="1739.0" cy="1073.8" r="4.0"/><circle cx="1711.6" cy="1089.1" r="4.0"/><circle cx="1772.2" cy="1122.5" r="4.0"/><circle cx="1736.5" cy="1079.0" r="4.0"/><circle cx="1753.1" cy="1086.2" r="4.0"/><circle cx="1728.3" cy="1078.2" r="4.0"/><circle cx="1738.5" cy="1092.2" r="4.0"/><circle cx="1747.5" cy="1093.3" r="4.0"/><circle cx="1772.0" cy="1132.2" r="4.0"/><circle cx="1764.5" cy="1125.8" r="4.0"/><circle cx="1721.8" cy="1084.2" r="4.0"/><circle cx="1751.0" cy="1094.4" r="4.0"/><circle cx="1729.5" cy="1101.2" r="4.0"/><circle cx="1726.8" cy="1150.2" r="4.0"/><circle cx="1710.6" cy="1072.9" r="4.0"/><circle cx="1757.4" cy="1083.3" r="4.0"/><circle cx="1707.0" cy="1117.1" r="4.0"/><circle cx="1721.7" cy="1084.6" r="4.0"/><circle cx="1769.5" cy="1112.2" r="4.0"/><circle cx="1711.5" cy="1085.8" r="4.0"/><circle cx="1774.9" cy="1139.8" r="4.0"/><circle cx="1738.5" cy="1107.2" r="4.0"/><circle cx="1760.0" cy="1109.2" r="4.0"/><circle cx="1723.8" cy="1096.6" r="4.0"/><circle cx="1752.3" cy="1097.3" r="4.0"/><circle cx="1750.7" cy="1088.5" r="4.0"/><circle cx="1774.9" cy="1080.2" r="4.0"/><circle cx="1720.5" cy="1083.4" r="4.0"/><circle cx="1773.4" cy="1137.6" r="4.0"/><circle cx="1765.4" cy="1129.0" r="4.0"/><circle cx="1763.9" cy="1117.9" r="4.0"/><circle cx="1709.4" cy="1099.3" r="4.0"/><circle cx="1765.0" cy="1108.2" r="4.0"/><circle cx="1707.2" cy="1116.8" r="4.0"/><circle cx="1757.3" cy="1075.5" r="4.0"/><circle cx="1769.2" cy="1095.7" r="4.0"/><circle cx="1736.6" cy="1149.7" r="4.0"/><circle cx="1752.6" cy="1104.8" r="4.0"/><circle cx="1730.8" cy="1105.8" r="4.0"/><circle cx="1709.0" cy="1102.9" r="4.0"/><circle cx="1756.8" cy="1124.6" r="4.0"/><circle cx="1737.7" cy="1113.5" r="4.0"/><circle cx="1736.9" cy="1083.1" r="4.0"/><circle cx="1744.0" cy="1105.1" r="4.0"/><circle cx="1704.3" cy="1078.2" r="4.0"/><circle cx="1721.9" cy="1091.7" r="4.0"/><circle cx="1720.2" cy="1084.1" r="4.0"/><circle cx="1754.7" cy="1092.5" r="4.0"/><circle cx="1753.4" cy="1126.8" r="4.0"/><circle cx="1767.3" cy="1073.0" r="4.0"/><circle cx="1757.4" cy="1101.3" r="4.0"/><circle cx="1729.9" cy="1101.5" r="4.0"/><circle cx="1709.2" cy="1089.1" r="4.0"/><circle cx="1707.9" cy="1104.2" r="4.0"/><circle cx="1770.5" cy="1105.1" r="4.0"/><circle cx="1748.3" cy="1104.4" r="4.0"/><circle cx="1774.1" cy="1113.9" r="4.0"/><circle cx="1776.3" cy="1114.3" r="4.0"/><circle cx="1705.1" cy="1094.4" r="4.0"/><circle cx="1750.6" cy="1101.6" r="4.0"/><circle cx="1748.7" cy="1119.6" r="4.0"/><circle cx="1704.3" cy="1090.2" r="4.0"/><circle cx="1749.6" cy="1116.0" r="4.0"/><circle cx="1747.3" cy="1147.1" r="4.0"/><circle cx="1760.4" cy="1118.4" r="4.0"/><circle cx="1737.7" cy="1149.7" r="4.0"/><circle cx="1733.0" cy="1124.2" r="4.0"/><circle cx="1727.8" cy="1072.4" r="4.0"/><circle cx="1776.4" cy="1089.6" r="4.0"/><circle cx="1724.1" cy="1091.5" r="4.0"/><circle cx="1711.1" cy="1105.7" r="4.0"/><circle cx="1732.8" cy="1087.6" r="4.0"/><circle cx="1747.7" cy="1079.0" r="4.0"/><circle cx="1762.6" cy="1092.8" r="4.0"/><circle cx="1861.9" cy="1136.0" r="4.0"/><circle cx="1829.3" cy="1121.5" r="4.0"/><circle cx="1791.6" cy="1124.6" r="4.0"/><circle cx="1856.0" cy="1132.2" r="4.0"/><circle cx="1826.3" cy="1131.2" r="4.0"/><circle cx="1810.0" cy="1154.0" r="4.0"/><circle cx="1795.4" cy="1155.0" r="4.0"/><circle cx="1811.4" cy="1136.9" r="4.0"/><circle cx="1846.8" cy="1186.4" r="4.0"/><circle cx="1834.0" cy="1171.8" r="4.0"/><circle cx="1844.7" cy="1196.1" r="4.0"/><circle cx="1800.1" cy="1105.1" r="4.0"/><circle cx="1851.9" cy="1177.2" r="4.0"/><circle cx="1847.2" cy="1284.6" r="4.0"/><circle cx="1832.0" cy="1117.5" r="4.0"/><circle cx="1834.7" cy="1163.9" r="4.0"/><circle cx="1861.3" cy="1114.9" r="4.0"/><circle cx="1810.2" cy="1152.6" r="4.0"/><circle cx="1818.7" cy="1269.9" r="4.0"/><circle cx="1839.4" cy="1107.1" r="4.0"/><circle cx="1806.5" cy="1128.0" r="4.0"/><circle cx="1834.9" cy="1132.3" r="4.0"/><circle cx="1839.1" cy="1134.0" r="4.0"/><circle cx="1862.9" cy="1207.3" r="4.0"/><circle cx="1857.9" cy="1202.0" r="4.0"/><circle cx="1850.8" cy="1127.3" r="4.0"/><circle cx="1833.1" cy="1109.7" r="4.0"/><circle cx="1797.8" cy="1107.9" r="4.0"/><circle cx="1799.9" cy="1229.5" r="4.0"/><circle cx="1829.1" cy="1173.6" r="4.0"/><circle cx="1848.5" cy="1095.4" r="4.0"/><circle cx="1855.3" cy="1105.9" r="4.0"/><circle cx="1826.8" cy="1186.9" r="4.0"/><circle cx="1792.6" cy="1146.4" r="4.0"/><circle cx="1793.5" cy="1171.8" r="4.0"/><circle cx="1858.2" cy="1154.2" r="4.0"/><circle cx="1799.1" cy="1169.4" r="4.0"/><circle cx="1841.8" cy="1174.1" r="4.0"/><circle cx="1846.9" cy="1134.9" r="4.0"/><circle cx="1820.8" cy="1159.4" r="4.0"/><circle cx="1810.7" cy="1154.2" r="4.0"/><circle cx="1855.5" cy="1130.7" r="4.0"/><circle cx="1846.9" cy="1136.9" r="4.0"/><circle cx="1804.5" cy="1138.7" r="4.0"/><circle cx="1860.9" cy="1095.4" r="4.0"/><circle cx="1862.3" cy="1177.6" r="4.0"/><circle cx="1795.2" cy="1160.4" r="4.0"/><circle cx="1794.2" cy="1118.1" r="4.0"/><circle cx="1836.0" cy="1162.7" r="4.0"/><circle cx="1812.2" cy="1236.9" r="4.0"/><circle cx="1806.7" cy="1125.3" r="4.0"/><circle cx="1792.7" cy="1116.3" r="4.0"/><circle cx="1821.3" cy="1151.0" r="4.0"/><circle cx="1860.0" cy="1138.8" r="4.0"/><circle cx="1851.0" cy="1133.4" r="4.0"/><circle cx="1798.1" cy="1154.8" r="4.0"/><circle cx="1835.1" cy="1101.1" r="4.0"/><circle cx="1794.3" cy="1198.0" r="4.0"/><circle cx="1807.6" cy="1172.0" r="4.0"/><circle cx="1851.4" cy="1170.4" r="4.0"/><circle cx="1808.5" cy="1174.8" r="4.0"/><circle cx="1861.2" cy="1117.3" r="4.0"/><circle cx="1858.0" cy="1211.2" r="4.0"/><circle cx="1794.3" cy="1155.6" r="4.0"/><circle cx="1857.0" cy="1138.8" r="4.0"/><circle cx="1812.2" cy="1106.7" r="4.0"/><circle cx="1854.9" cy="1103.2" r="4.0"/><circle cx="1796.6" cy="1137.4" r="4.0"/><circle cx="1805.5" cy="1137.6" r="4.0"/><circle cx="1835.6" cy="1145.2" r="4.0"/><circle cx="1797.6" cy="1167.4" r="4.0"/><circle cx="1794.7" cy="1155.0" r="4.0"/><circle cx="1849.6" cy="1145.9" r="4.0"/><circle cx="1850.6" cy="1128.3" r="4.0"/><circle cx="1819.3" cy="1126.4" r="4.0"/><circle cx="1790.9" cy="1183.0" r="4.0"/><circle cx="1829.8" cy="1156.9" r="4.0"/><circle cx="1859.8" cy="1173.4" r="4.0"/><circle cx="1806.9" cy="1171.2" r="4.0"/><circle cx="1825.8" cy="1121.8" r="4.0"/><circle cx="1831.0" cy="1130.2" r="4.0"/><circle cx="1841.3" cy="1109.6" r="4.0"/><circle cx="1794.2" cy="1143.5" r="4.0"/><circle cx="1858.9" cy="1113.4" r="4.0"/><circle cx="1854.9" cy="1192.4" r="4.0"/><circle cx="1862.5" cy="1140.9" r="4.0"/><circle cx="1843.6" cy="1118.8" r="4.0"/><circle cx="1805.8" cy="1224.3" r="4.0"/><circle cx="1799.8" cy="1096.1" r="4.0"/><circle cx="1849.3" cy="1108.9" r="4.0"/><circle cx="1825.4" cy="1162.1" r="4.0"/><circle cx="1837.5" cy="1112.7" r="4.0"/><circle cx="1800.4" cy="1115.2" r="4.0"/><circle cx="1837.6" cy="1160.9" r="4.0"/><circle cx="1851.0" cy="1184.2" r="4.0"/><circle cx="1812.8" cy="1115.2" r="4.0"/><circle cx="1826.5" cy="1116.0" r="4.0"/><circle cx="1853.9" cy="1100.9" r="4.0"/><circle cx="1849.6" cy="1169.8" r="4.0"/><circle cx="1857.2" cy="1150.5" r="4.0"/><circle cx="1851.1" cy="1189.7" r="4.0"/><circle cx="1806.4" cy="1185.0" r="4.0"/><circle cx="1794.7" cy="1136.5" r="4.0"/><circle cx="1825.2" cy="1179.2" r="4.0"/><circle cx="1811.7" cy="1277.8" r="4.0"/><circle cx="1853.8" cy="1144.9" r="4.0"/><circle cx="1845.9" cy="1254.4" r="4.0"/><circle cx="1858.0" cy="1200.2" r="4.0"/><circle cx="1835.6" cy="1129.2" r="4.0"/><circle cx="1840.0" cy="1106.3" r="4.0"/><circle cx="1827.5" cy="1233.1" r="4.0"/><circle cx="1832.2" cy="1116.2" r="4.0"/><circle cx="1824.3" cy="1106.5" r="4.0"/><circle cx="1821.1" cy="1108.4" r="4.0"/><circle cx="1844.6" cy="1186.8" r="4.0"/><circle cx="1910.6" cy="1130.5" r="4.0"/><circle cx="1881.2" cy="1103.4" r="4.0"/><circle cx="1918.8" cy="1122.9" r="4.0"/><circle cx="1887.8" cy="1102.0" r="4.0"/><circle cx="1881.8" cy="1104.1" r="4.0"/><circle cx="1883.0" cy="1088.8" r="4.0"/><circle cx="1887.2" cy="1102.7" r="4.0"/><circle cx="1921.7" cy="1127.0" r="4.0"/><circle cx="1917.6" cy="1132.5" r="4.0"/><circle cx="1897.4" cy="1091.0" r="4.0"/><circle cx="1919.9" cy="1128.6" r="4.0"/><circle cx="1923.4" cy="1112.8" r="4.0"/><circle cx="1891.8" cy="1084.3" r="4.0"/><circle cx="1938.8" cy="1103.0" r="4.0"/><circle cx="1920.4" cy="1148.6" r="4.0"/><circle cx="1880.6" cy="1095.8" r="4.0"/><circle cx="1907.1" cy="1108.4" r="4.0"/><circle cx="1892.3" cy="1145.2" r="4.0"/><circle cx="1878.4" cy="1093.2" r="4.0"/><circle cx="1936.1" cy="1082.9" r="4.0"/><circle cx="1888.4" cy="1133.2" r="4.0"/><circle cx="1919.3" cy="1081.8" r="4.0"/><circle cx="1922.1" cy="1095.2" r="4.0"/><circle cx="1931.7" cy="1140.8" r="4.0"/><circle cx="1921.5" cy="1096.7" r="4.0"/><circle cx="1932.6" cy="1097.1" r="4.0"/><circle cx="1940.7" cy="1095.7" r="4.0"/><circle cx="1942.3" cy="1114.6" r="4.0"/><circle cx="1946.9" cy="1099.5" r="4.0"/><circle cx="1896.0" cy="1109.5" r="4.0"/><circle cx="1899.9" cy="1112.8" r="4.0"/><circle cx="1880.1" cy="1088.4" r="4.0"/><circle cx="1894.9" cy="1110.9" r="4.0"/><circle cx="1933.9" cy="1087.7" r="4.0"/><circle cx="1932.3" cy="1090.0" r="4.0"/><circle cx="1903.7" cy="1096.4" r="4.0"/><circle cx="1937.7" cy="1145.6" r="4.0"/><circle cx="1948.8" cy="1128.0" r="4.0"/><circle cx="1945.5" cy="1110.6" r="4.0"/><circle cx="1919.7" cy="1111.5" r="4.0"/><circle cx="1904.9" cy="1098.6" r="4.0"/><circle cx="1895.2" cy="1108.9" r="4.0"/><circle cx="1940.3" cy="1112.6" r="4.0"/><circle cx="1893.6" cy="1117.3" r="4.0"/><circle cx="1904.0" cy="1082.8" r="4.0"/><circle cx="1939.0" cy="1103.1" r="4.0"/><circle cx="1915.0" cy="1107.9" r="4.0"/><circle cx="1917.6" cy="1110.7" r="4.0"/><circle cx="1917.9" cy="1114.6" r="4.0"/><circle cx="1894.4" cy="1108.2" r="4.0"/><circle cx="1909.3" cy="1089.0" r="4.0"/><circle cx="1946.3" cy="1135.8" r="4.0"/><circle cx="1919.2" cy="1097.3" r="4.0"/><circle cx="1910.3" cy="1106.6" r="4.0"/><circle cx="1934.8" cy="1091.9" r="4.0"/></g>
<g stroke-width="0.9"><circle cx="611.0" cy="245.4" r="4.85" fill="#25B779" stroke="#1e9663"/><circle cx="616.6" cy="282.2" r="4.85" fill="#25B779" stroke="#1e9663"/><circle cx="644.1" cy="272.2" r="4.85" fill="#25B779" stroke="#1e9663"/><circle cx="606.0" cy="311.0" r="4.85" fill="#A3A336" stroke="#85852c"/><circle cx="599.8" cy="319.8" r="4.85" fill="#A3A336" stroke="#85852c"/><circle cx="601.0" cy="296.0" r="4.85" fill="#A3A336" stroke="#85852c"/><circle cx="592.2" cy="351.0" r="4.85" fill="#BF70BF" stroke="#9c5b9c"/><circle cx="594.8" cy="349.8" r="4.85" fill="#BF70BF" stroke="#9c5b9c"/></g>
</svg></body></html>
